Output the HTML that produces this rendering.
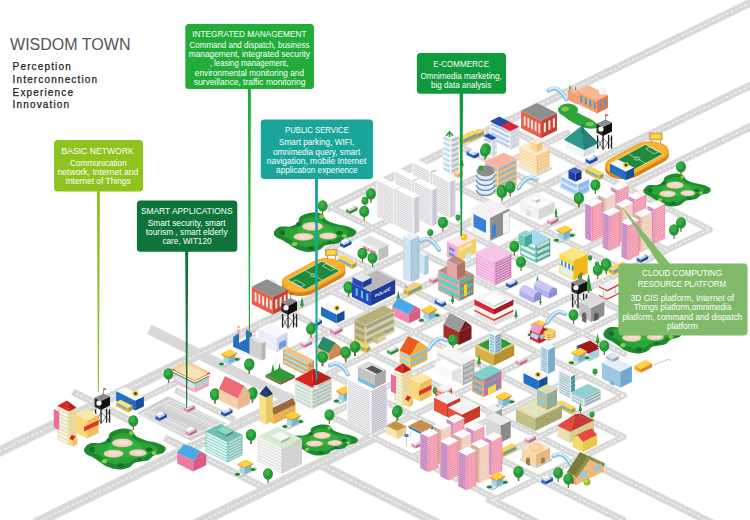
<!DOCTYPE html>
<html><head><meta charset="utf-8"><title>Wisdom Town</title>
<style>html,body{margin:0;padding:0;background:#fff}svg{display:block}</style></head>
<body>
<svg width="750" height="520" viewBox="0 0 750 520">
<rect width="750" height="520" fill="#fff"/>
<line x1="330.6" y1="207.2" x2="760" y2="-2.1" stroke="#eeeeee" stroke-width="8.6" stroke-linecap="square"/>
<line x1="-5" y1="453.7" x2="200" y2="353.8" stroke="#eeeeee" stroke-width="11" stroke-linecap="square"/>
<line x1="200" y1="353.8" x2="330" y2="290.4" stroke="#eeeeee" stroke-width="9.6" stroke-linecap="square"/>
<line x1="330" y1="290.4" x2="760" y2="80.8" stroke="#eeeeee" stroke-width="8.6" stroke-linecap="square"/>
<line x1="287" y1="352.6" x2="560" y2="219.5" stroke="#eeeeee" stroke-width="7.4" stroke-linecap="square"/>
<line x1="560" y1="219.5" x2="760" y2="122" stroke="#eeeeee" stroke-width="8.6" stroke-linecap="square"/>
<line x1="128" y1="406.1" x2="196" y2="372.9" stroke="#eeeeee" stroke-width="7.2" stroke-linecap="square"/>
<line x1="40" y1="521" x2="289" y2="399.6" stroke="#eeeeee" stroke-width="11.2" stroke-linecap="square"/>
<line x1="200" y1="522" x2="372" y2="438.1" stroke="#eeeeee" stroke-width="11.2" stroke-linecap="square"/>
<line x1="154" y1="331.5" x2="292" y2="400.5" stroke="#eeeeee" stroke-width="11.2" stroke-linecap="square"/>
<line x1="76" y1="393.5" x2="128" y2="419.5" stroke="#eeeeee" stroke-width="8.2" stroke-linecap="square"/>
<line x1="168" y1="439.5" x2="262" y2="486.5" stroke="#eeeeee" stroke-width="8.2" stroke-linecap="square"/>
<line x1="178" y1="391.5" x2="232" y2="418.5" stroke="#eeeeee" stroke-width="7.2" stroke-linecap="square"/>
<line x1="323" y1="466" x2="440" y2="524.5" stroke="#eeeeee" stroke-width="10" stroke-linecap="square"/>
<line x1="490.5" y1="499.8" x2="540" y2="524.5" stroke="#eeeeee" stroke-width="9" stroke-linecap="square"/>
<line x1="330.2" y1="248.7" x2="567.3" y2="133.1" stroke="#eeeeee" stroke-width="7.2" stroke-linecap="round"/>
<line x1="329" y1="373.5" x2="667.6" y2="208.4" stroke="#eeeeee" stroke-width="7.2" stroke-linecap="round"/>
<line x1="328.6" y1="415.1" x2="709.6" y2="229.4" stroke="#eeeeee" stroke-width="7.2" stroke-linecap="round"/>
<line x1="370.5" y1="436.1" x2="692.2" y2="279.2" stroke="#eeeeee" stroke-width="7.2" stroke-linecap="round"/>
<line x1="412.4" y1="457" x2="581.8" y2="374.5" stroke="#eeeeee" stroke-width="7.2" stroke-linecap="round"/>
<line x1="454.4" y1="478" x2="623.7" y2="395.4" stroke="#eeeeee" stroke-width="7.2" stroke-linecap="round"/>
<line x1="492" y1="501" x2="623.3" y2="437" stroke="#eeeeee" stroke-width="7.2" stroke-linecap="round"/>
<line x1="330.6" y1="207.1" x2="624.1" y2="353.8" stroke="#eeeeee" stroke-width="7.2" stroke-linecap="round"/>
<line x1="330.2" y1="248.7" x2="623.7" y2="395.4" stroke="#eeeeee" stroke-width="7.2" stroke-linecap="round"/>
<line x1="329.8" y1="290.3" x2="623.3" y2="437" stroke="#eeeeee" stroke-width="7.2" stroke-linecap="round"/>
<line x1="287.5" y1="311" x2="580.9" y2="457.7" stroke="#eeeeee" stroke-width="7.2" stroke-linecap="round"/>
<line x1="580.9" y1="457.7" x2="731.9" y2="533.1" stroke="#eeeeee" stroke-width="8.6" stroke-linecap="round"/>
<line x1="329" y1="373.5" x2="538.6" y2="478.3" stroke="#eeeeee" stroke-width="7.2" stroke-linecap="round"/>
<line x1="538.6" y1="478.3" x2="622.5" y2="520.2" stroke="#eeeeee" stroke-width="8.6" stroke-linecap="round"/>
<line x1="328.6" y1="415.1" x2="496.3" y2="499" stroke="#eeeeee" stroke-width="7.2" stroke-linecap="round"/>
<line x1="373" y1="186.5" x2="666.4" y2="333.2" stroke="#eeeeee" stroke-width="7.2" stroke-linecap="round"/>
<line x1="415.3" y1="165.8" x2="692" y2="304.2" stroke="#eeeeee" stroke-width="7.2" stroke-linecap="round"/>
<line x1="457.6" y1="145.2" x2="667.2" y2="250" stroke="#eeeeee" stroke-width="7.2" stroke-linecap="round"/>
<line x1="500" y1="124.6" x2="709.6" y2="229.4" stroke="#eeeeee" stroke-width="7.2" stroke-linecap="round"/>
<line x1="330.6" y1="207.2" x2="760" y2="-2.1" stroke="#d8d8d8" stroke-width="7" stroke-linecap="square"/>
<line x1="-5" y1="453.7" x2="200" y2="353.8" stroke="#d8d8d8" stroke-width="9.4" stroke-linecap="square"/>
<line x1="200" y1="353.8" x2="330" y2="290.4" stroke="#d8d8d8" stroke-width="8" stroke-linecap="square"/>
<line x1="330" y1="290.4" x2="760" y2="80.8" stroke="#d8d8d8" stroke-width="7" stroke-linecap="square"/>
<line x1="287" y1="352.6" x2="560" y2="219.5" stroke="#d8d8d8" stroke-width="5.8" stroke-linecap="square"/>
<line x1="560" y1="219.5" x2="760" y2="122" stroke="#d8d8d8" stroke-width="7" stroke-linecap="square"/>
<line x1="128" y1="406.1" x2="196" y2="372.9" stroke="#d8d8d8" stroke-width="5.6" stroke-linecap="square"/>
<line x1="40" y1="521" x2="289" y2="399.6" stroke="#d8d8d8" stroke-width="9.6" stroke-linecap="square"/>
<line x1="200" y1="522" x2="372" y2="438.1" stroke="#d8d8d8" stroke-width="9.6" stroke-linecap="square"/>
<line x1="154" y1="331.5" x2="292" y2="400.5" stroke="#d8d8d8" stroke-width="9.6" stroke-linecap="square"/>
<line x1="76" y1="393.5" x2="128" y2="419.5" stroke="#d8d8d8" stroke-width="6.6" stroke-linecap="square"/>
<line x1="168" y1="439.5" x2="262" y2="486.5" stroke="#d8d8d8" stroke-width="6.6" stroke-linecap="square"/>
<line x1="178" y1="391.5" x2="232" y2="418.5" stroke="#d8d8d8" stroke-width="5.6" stroke-linecap="square"/>
<line x1="323" y1="466" x2="440" y2="524.5" stroke="#d8d8d8" stroke-width="8.4" stroke-linecap="square"/>
<line x1="490.5" y1="499.8" x2="540" y2="524.5" stroke="#d8d8d8" stroke-width="7.4" stroke-linecap="square"/>
<line x1="330.2" y1="248.7" x2="567.3" y2="133.1" stroke="#d8d8d8" stroke-width="5.6" stroke-linecap="round"/>
<line x1="329" y1="373.5" x2="667.6" y2="208.4" stroke="#d8d8d8" stroke-width="5.6" stroke-linecap="round"/>
<line x1="328.6" y1="415.1" x2="709.6" y2="229.4" stroke="#d8d8d8" stroke-width="5.6" stroke-linecap="round"/>
<line x1="370.5" y1="436.1" x2="692.2" y2="279.2" stroke="#d8d8d8" stroke-width="5.6" stroke-linecap="round"/>
<line x1="412.4" y1="457" x2="581.8" y2="374.5" stroke="#d8d8d8" stroke-width="5.6" stroke-linecap="round"/>
<line x1="454.4" y1="478" x2="623.7" y2="395.4" stroke="#d8d8d8" stroke-width="5.6" stroke-linecap="round"/>
<line x1="492" y1="501" x2="623.3" y2="437" stroke="#d8d8d8" stroke-width="5.6" stroke-linecap="round"/>
<line x1="330.6" y1="207.1" x2="624.1" y2="353.8" stroke="#d8d8d8" stroke-width="5.6" stroke-linecap="round"/>
<line x1="330.2" y1="248.7" x2="623.7" y2="395.4" stroke="#d8d8d8" stroke-width="5.6" stroke-linecap="round"/>
<line x1="329.8" y1="290.3" x2="623.3" y2="437" stroke="#d8d8d8" stroke-width="5.6" stroke-linecap="round"/>
<line x1="287.5" y1="311" x2="580.9" y2="457.7" stroke="#d8d8d8" stroke-width="5.6" stroke-linecap="round"/>
<line x1="580.9" y1="457.7" x2="731.9" y2="533.1" stroke="#d8d8d8" stroke-width="7" stroke-linecap="round"/>
<line x1="329" y1="373.5" x2="538.6" y2="478.3" stroke="#d8d8d8" stroke-width="5.6" stroke-linecap="round"/>
<line x1="538.6" y1="478.3" x2="622.5" y2="520.2" stroke="#d8d8d8" stroke-width="7" stroke-linecap="round"/>
<line x1="328.6" y1="415.1" x2="496.3" y2="499" stroke="#d8d8d8" stroke-width="5.6" stroke-linecap="round"/>
<line x1="373" y1="186.5" x2="666.4" y2="333.2" stroke="#d8d8d8" stroke-width="5.6" stroke-linecap="round"/>
<line x1="415.3" y1="165.8" x2="692" y2="304.2" stroke="#d8d8d8" stroke-width="5.6" stroke-linecap="round"/>
<line x1="457.6" y1="145.2" x2="667.2" y2="250" stroke="#d8d8d8" stroke-width="5.6" stroke-linecap="round"/>
<line x1="500" y1="124.6" x2="709.6" y2="229.4" stroke="#d8d8d8" stroke-width="5.6" stroke-linecap="round"/>
<line x1="330.6" y1="207.2" x2="760" y2="-2.1" stroke="#fff" stroke-width="0.9" stroke-dasharray="3 2"/>
<line x1="-5" y1="453.7" x2="200" y2="353.8" stroke="#fff" stroke-width="0.9" stroke-dasharray="3 2"/>
<line x1="200" y1="353.8" x2="330" y2="290.4" stroke="#fff" stroke-width="0.9" stroke-dasharray="3 2"/>
<line x1="330" y1="290.4" x2="760" y2="80.8" stroke="#fff" stroke-width="0.9" stroke-dasharray="3 2"/>
<line x1="287" y1="352.6" x2="560" y2="219.5" stroke="#fff" stroke-width="0.9" stroke-dasharray="3 2"/>
<line x1="560" y1="219.5" x2="760" y2="122" stroke="#fff" stroke-width="0.9" stroke-dasharray="3 2"/>
<line x1="128" y1="406.1" x2="196" y2="372.9" stroke="#fff" stroke-width="0.9" stroke-dasharray="3 2"/>
<line x1="40" y1="521" x2="289" y2="399.6" stroke="#fff" stroke-width="0.9" stroke-dasharray="3 2"/>
<line x1="200" y1="522" x2="372" y2="438.1" stroke="#fff" stroke-width="0.9" stroke-dasharray="3 2"/>
<line x1="76" y1="393.5" x2="128" y2="419.5" stroke="#fff" stroke-width="0.9" stroke-dasharray="3 2"/>
<line x1="168" y1="439.5" x2="262" y2="486.5" stroke="#fff" stroke-width="0.9" stroke-dasharray="3 2"/>
<line x1="178" y1="391.5" x2="232" y2="418.5" stroke="#fff" stroke-width="0.9" stroke-dasharray="3 2"/>
<line x1="323" y1="466" x2="440" y2="524.5" stroke="#fff" stroke-width="0.9" stroke-dasharray="3 2"/>
<line x1="490.5" y1="499.8" x2="540" y2="524.5" stroke="#fff" stroke-width="0.9" stroke-dasharray="3 2"/>
<line x1="330.2" y1="248.7" x2="567.3" y2="133.1" stroke="#fff" stroke-width="0.9" stroke-dasharray="3 2"/>
<line x1="329" y1="373.5" x2="667.6" y2="208.4" stroke="#fff" stroke-width="0.9" stroke-dasharray="3 2"/>
<line x1="328.6" y1="415.1" x2="709.6" y2="229.4" stroke="#fff" stroke-width="0.9" stroke-dasharray="3 2"/>
<line x1="370.5" y1="436.1" x2="692.2" y2="279.2" stroke="#fff" stroke-width="0.9" stroke-dasharray="3 2"/>
<line x1="412.4" y1="457" x2="581.8" y2="374.5" stroke="#fff" stroke-width="0.9" stroke-dasharray="3 2"/>
<line x1="454.4" y1="478" x2="623.7" y2="395.4" stroke="#fff" stroke-width="0.9" stroke-dasharray="3 2"/>
<line x1="492" y1="501" x2="623.3" y2="437" stroke="#fff" stroke-width="0.9" stroke-dasharray="3 2"/>
<line x1="330.6" y1="207.1" x2="624.1" y2="353.8" stroke="#fff" stroke-width="0.9" stroke-dasharray="3 2"/>
<line x1="330.2" y1="248.7" x2="623.7" y2="395.4" stroke="#fff" stroke-width="0.9" stroke-dasharray="3 2"/>
<line x1="329.8" y1="290.3" x2="623.3" y2="437" stroke="#fff" stroke-width="0.9" stroke-dasharray="3 2"/>
<line x1="287.5" y1="311" x2="580.9" y2="457.7" stroke="#fff" stroke-width="0.9" stroke-dasharray="3 2"/>
<line x1="580.9" y1="457.7" x2="731.9" y2="533.1" stroke="#fff" stroke-width="0.9" stroke-dasharray="3 2"/>
<line x1="329" y1="373.5" x2="538.6" y2="478.3" stroke="#fff" stroke-width="0.9" stroke-dasharray="3 2"/>
<line x1="538.6" y1="478.3" x2="622.5" y2="520.2" stroke="#fff" stroke-width="0.9" stroke-dasharray="3 2"/>
<line x1="328.6" y1="415.1" x2="496.3" y2="499" stroke="#fff" stroke-width="0.9" stroke-dasharray="3 2"/>
<line x1="373" y1="186.5" x2="666.4" y2="333.2" stroke="#fff" stroke-width="0.9" stroke-dasharray="3 2"/>
<line x1="415.3" y1="165.8" x2="692" y2="304.2" stroke="#fff" stroke-width="0.9" stroke-dasharray="3 2"/>
<line x1="457.6" y1="145.2" x2="667.2" y2="250" stroke="#fff" stroke-width="0.9" stroke-dasharray="3 2"/>
<line x1="500" y1="124.6" x2="709.6" y2="229.4" stroke="#fff" stroke-width="0.9" stroke-dasharray="3 2"/>
<polygon points="135.3,413.4 167.6,395.2 228.2,423.5 190.9,441.7" fill="#d0d0d0" stroke="#fff" stroke-width="1.6"/><polygon points="140.9,414 169.9,399.8 222.6,422.9 188.6,437.1" fill="none" stroke="#fff" stroke-width="0.7"/><path d="M148.6 411.7L194.4 433.3" stroke="#fff" stroke-width="0.5"/><path d="M143.2 414.3L154 409" stroke="#fff" stroke-width="0.5"/><path d="M146 415.6L156.9 410.4" stroke="#fff" stroke-width="0.5"/><path d="M148.8 417L159.8 411.7" stroke="#fff" stroke-width="0.5"/><path d="M151.6 418.3L162.7 413.1" stroke="#fff" stroke-width="0.5"/><path d="M154.4 419.7L165.7 414.5" stroke="#fff" stroke-width="0.5"/><path d="M157.2 421L168.6 415.8" stroke="#fff" stroke-width="0.5"/><path d="M160 422.4L171.5 417.2" stroke="#fff" stroke-width="0.5"/><path d="M162.9 423.7L174.4 418.5" stroke="#fff" stroke-width="0.5"/><path d="M165.7 425.1L177.3 419.9" stroke="#fff" stroke-width="0.5"/><path d="M168.5 426.5L180.3 421.2" stroke="#fff" stroke-width="0.5"/><path d="M171.3 427.8L183.2 422.6" stroke="#fff" stroke-width="0.5"/><path d="M174.1 429.2L186.1 423.9" stroke="#fff" stroke-width="0.5"/><path d="M176.9 430.5L189 425.3" stroke="#fff" stroke-width="0.5"/><path d="M179.7 431.9L191.9 426.6" stroke="#fff" stroke-width="0.5"/><path d="M182.5 433.2L194.9 428" stroke="#fff" stroke-width="0.5"/><path d="M185.3 434.6L197.8 429.3" stroke="#fff" stroke-width="0.5"/><path d="M188.2 435.9L200.7 430.7" stroke="#fff" stroke-width="0.5"/><path d="M165.2 403.6L213.8 425.2" stroke="#fff" stroke-width="0.5"/><path d="M159.8 406.2L170.6 401" stroke="#fff" stroke-width="0.5"/><path d="M162.8 407.6L173.7 402.3" stroke="#fff" stroke-width="0.5"/><path d="M165.8 408.9L176.8 403.7" stroke="#fff" stroke-width="0.5"/><path d="M168.8 410.3L179.9 405" stroke="#fff" stroke-width="0.5"/><path d="M171.7 411.6L183 406.4" stroke="#fff" stroke-width="0.5"/><path d="M174.7 413L186.1 407.7" stroke="#fff" stroke-width="0.5"/><path d="M177.7 414.3L189.2 409.1" stroke="#fff" stroke-width="0.5"/><path d="M180.7 415.7L192.2 410.4" stroke="#fff" stroke-width="0.5"/><path d="M183.7 417L195.3 411.8" stroke="#fff" stroke-width="0.5"/><path d="M186.6 418.4L198.4 413.2" stroke="#fff" stroke-width="0.5"/><path d="M189.6 419.7L201.5 414.5" stroke="#fff" stroke-width="0.5"/><path d="M192.6 421.1L204.6 415.9" stroke="#fff" stroke-width="0.5"/><path d="M195.6 422.4L207.7 417.2" stroke="#fff" stroke-width="0.5"/><path d="M198.5 423.8L210.8 418.6" stroke="#fff" stroke-width="0.5"/><path d="M201.5 425.2L213.9 419.9" stroke="#fff" stroke-width="0.5"/><path d="M204.5 426.5L216.9 421.3" stroke="#fff" stroke-width="0.5"/><path d="M207.5 427.9L220 422.6" stroke="#fff" stroke-width="0.5"/>
<path d="M84.2 448.8C84.9 447 87.2 444.3 89.9 443.4C92.6 442.4 97.5 443.6 100.5 442.9C103.4 442.2 106.2 440.9 107.8 439.2C109.4 437.5 108 434.7 110.2 433C112.4 431.3 117.3 429.3 120.8 428.8C124.3 428.3 128.8 428.8 131.4 430.1C133.9 431.3 133.8 434.6 136.2 436.3C138.7 438 142.5 439.3 146 440.4C149.5 441.6 154.1 441.8 157.4 442.9C160.6 444.1 164.6 445.8 165.5 447.5C166.4 449.2 165 451.6 163.1 452.9C161.2 454.2 156.7 454.1 154.1 455.4C151.5 456.6 150.7 459.2 147.6 460.4C144.5 461.5 138.5 461.3 135.4 462.4C132.3 463.6 131.8 466.2 128.9 467.4C126.1 468.6 122 469.6 118.3 469.5C114.7 469.4 110.2 468 107 466.6C103.7 465.2 101.3 462.8 98.8 461.2C96.4 459.6 94.5 458.3 92.3 457.1C90.2 455.8 87.2 455.1 85.8 453.7C84.5 452.3 83.5 450.5 84.2 448.8Z" fill="#1e8a30"/><path d="M92.3 448.8C92.9 447.4 94.7 445.3 96.9 444.5C99.1 443.8 103 444.8 105.3 444.2C107.7 443.7 109.9 442.6 111.2 441.3C112.5 440 111.4 437.8 113.1 436.4C114.9 435.1 118.8 433.6 121.6 433.2C124.4 432.8 128 433.2 130.1 434.2C132.1 435.2 132 437.7 134 439C135.9 440.4 138.9 441.4 141.8 442.3C144.6 443.1 148.3 443.3 150.9 444.2C153.5 445.1 156.6 446.5 157.4 447.8C158.1 449.1 156.9 451 155.4 452C153.9 453 150.3 453 148.3 453.9C146.2 454.9 145.6 456.9 143.1 457.8C140.6 458.7 135.8 458.5 133.3 459.4C130.8 460.3 130.4 462.4 128.1 463.3C125.8 464.2 122.6 465 119.6 464.9C116.7 464.8 113.1 463.7 110.5 462.7C107.9 461.6 106 459.7 104 458.5C102.1 457.2 100.6 456.2 98.8 455.2C97.1 454.3 94.7 453.7 93.6 452.6C92.5 451.6 91.8 450.1 92.3 448.8Z" fill="#2ba539"/><ellipse cx="124.8" cy="448.8" rx="17.9" ry="8.3" fill="#33b23d"/><ellipse cx="92.3" cy="449.6" rx="2.8" ry="2.5" fill="#14702a"/><ellipse cx="120.8" cy="465.4" rx="3.3" ry="2.1" fill="#14702a"/><ellipse cx="149.2" cy="449.6" rx="3.3" ry="2.1" fill="#14702a"/><ellipse cx="108.6" cy="440.4" rx="2.4" ry="2.1" fill="#14702a"/><ellipse cx="139.5" cy="459.1" rx="2.4" ry="1.7" fill="#14702a"/><ellipse cx="104.5" cy="461.2" rx="2.8" ry="2.1" fill="#7ed04a"/><ellipse cx="154.1" cy="452.9" rx="2.4" ry="1.9" fill="#7ed04a"/><ellipse cx="131.4" cy="433" rx="2.4" ry="2.1" fill="#7ed04a"/><ellipse cx="122.4" cy="442.9" rx="10.5" ry="4.4" fill="#e2bfa4"/><ellipse cx="122.4" cy="442.9" rx="9.8" ry="3.7" fill="#f4d4be"/><ellipse cx="123.2" cy="442.5" rx="5.4" ry="1.9" fill="#f0e2dc"/><ellipse cx="113.5" cy="453.7" rx="10" ry="4" fill="#e2bfa4"/><ellipse cx="113.5" cy="453.7" rx="9.3" ry="3.3" fill="#f4d4be"/><ellipse cx="114.3" cy="453.3" rx="5.1" ry="1.7" fill="#f0e2dc"/><ellipse cx="137.9" cy="452.9" rx="8.8" ry="3.6" fill="#e2bfa4"/><ellipse cx="137.9" cy="452.9" rx="8.1" ry="2.9" fill="#f4d4be"/><ellipse cx="138.7" cy="452.5" rx="4.5" ry="1.5" fill="#f0e2dc"/>
<path d="M290.4 439.8C291 438.5 292.9 436.4 295.1 435.7C297.4 435 301.4 435.9 303.9 435.4C306.3 434.8 308.6 433.8 309.9 432.5C311.3 431.3 310.1 429.1 311.9 427.8C313.7 426.5 317.8 425 320.7 424.6C323.6 424.3 327.3 424.6 329.4 425.6C331.6 426.5 331.5 429 333.5 430.3C335.5 431.6 338.6 432.6 341.5 433.5C344.5 434.3 348.3 434.5 351 435.4C353.7 436.3 356.9 437.6 357.7 438.9C358.5 440.1 357.3 442 355.7 443C354.1 444 350.4 443.9 348.3 444.9C346.1 445.8 345.5 447.8 342.9 448.6C340.3 449.5 335.4 449.3 332.8 450.2C330.2 451.1 329.8 453.1 327.4 454C325.1 454.9 321.7 455.7 318.7 455.6C315.6 455.5 311.9 454.4 309.2 453.4C306.6 452.3 304.5 450.5 302.5 449.3C300.5 448.1 298.9 447.1 297.1 446.1C295.3 445.2 292.9 444.6 291.7 443.6C290.6 442.5 289.8 441.1 290.4 439.8Z" fill="#1e8a30"/><path d="M297.1 439.8C297.6 438.8 299.1 437.2 300.9 436.6C302.7 436 305.9 436.8 307.9 436.3C309.9 435.9 311.7 435.1 312.7 434.1C313.8 433.1 312.9 431.5 314.4 430.4C315.8 429.4 319 428.3 321.4 428C323.7 427.7 326.7 428 328.4 428.7C330.1 429.4 330 431.4 331.6 432.4C333.2 433.4 335.7 434.2 338 434.9C340.4 435.5 343.4 435.7 345.6 436.3C347.7 437 350.3 438.1 351 439.1C351.6 440 350.6 441.5 349.4 442.3C348.1 443 345.1 443 343.4 443.7C341.7 444.5 341.2 446 339.1 446.7C337.1 447.4 333.1 447.2 331 447.9C329 448.6 328.6 450.2 326.7 450.9C324.9 451.6 322.2 452.2 319.7 452.1C317.3 452 314.4 451.2 312.2 450.4C310.1 449.6 308.4 448.1 306.8 447.2C305.2 446.2 303.9 445.5 302.5 444.7C301.1 444 299.1 443.6 298.2 442.8C297.3 441.9 296.7 440.8 297.1 439.8Z" fill="#2ba539"/><ellipse cx="324" cy="439.8" rx="14.8" ry="6.3" fill="#33b23d"/><ellipse cx="297.1" cy="440.4" rx="2.4" ry="1.9" fill="#14702a"/><ellipse cx="320.7" cy="452.4" rx="2.7" ry="1.6" fill="#14702a"/><ellipse cx="344.2" cy="440.4" rx="2.7" ry="1.6" fill="#14702a"/><ellipse cx="310.6" cy="433.5" rx="2" ry="1.6" fill="#14702a"/><ellipse cx="336.2" cy="447.7" rx="2" ry="1.3" fill="#14702a"/><ellipse cx="307.2" cy="449.3" rx="2.4" ry="1.6" fill="#7ed04a"/><ellipse cx="348.3" cy="443" rx="2" ry="1.4" fill="#7ed04a"/><ellipse cx="329.4" cy="427.8" rx="2" ry="1.6" fill="#7ed04a"/><ellipse cx="322" cy="435.4" rx="8.8" ry="3.5" fill="#e2bfa4"/><ellipse cx="322" cy="435.4" rx="8.1" ry="2.8" fill="#f4d4be"/><ellipse cx="322.7" cy="435.1" rx="4.4" ry="1.4" fill="#f0e2dc"/><ellipse cx="314.6" cy="443.6" rx="8.4" ry="3.2" fill="#e2bfa4"/><ellipse cx="314.6" cy="443.6" rx="7.7" ry="2.5" fill="#f4d4be"/><ellipse cx="315.3" cy="443.3" rx="4.3" ry="1.3" fill="#f0e2dc"/><ellipse cx="334.8" cy="443" rx="7.4" ry="2.9" fill="#e2bfa4"/><ellipse cx="334.8" cy="443" rx="6.7" ry="2.2" fill="#f4d4be"/><ellipse cx="335.5" cy="442.6" rx="3.7" ry="1.1" fill="#f0e2dc"/>
<path d="M274 232C274.7 230.3 277 227.7 279.7 226.8C282.5 225.9 287.4 227.1 290.4 226.4C293.4 225.7 296.1 224.4 297.8 222.8C299.4 221.2 298.1 218.5 300.2 216.8C302.4 215.1 307.3 213.3 310.9 212.8C314.5 212.3 319 212.8 321.6 214C324.2 215.2 324 218.3 326.5 220C328.9 221.7 332.8 222.9 336.3 224C339.9 225.1 344.5 225.3 347.8 226.4C351.1 227.5 355 229.2 356 230.8C357 232.4 355.5 234.7 353.5 236C351.6 237.3 347.1 237.2 344.5 238.4C341.9 239.6 341.1 242.1 338 243.2C334.8 244.3 328.8 244.1 325.7 245.2C322.5 246.3 322 248.9 319.1 250C316.2 251.1 312.1 252.1 308.4 252C304.8 251.9 300.2 250.5 297 249.2C293.7 247.9 291.2 245.5 288.8 244C286.3 242.5 284.4 241.2 282.2 240C280 238.8 277 238.1 275.6 236.8C274.3 235.5 273.3 233.7 274 232Z" fill="#1e8a30"/><path d="M282.2 232C282.7 230.7 284.6 228.7 286.8 227.9C289 227.2 292.9 228.2 295.3 227.6C297.7 227.1 299.9 226.1 301.2 224.8C302.5 223.6 301.4 221.4 303.2 220.1C304.9 218.8 308.9 217.4 311.7 217C314.6 216.7 318.2 217 320.2 218C322.3 218.9 322.2 221.3 324.2 222.6C326.2 223.9 329.2 224.9 332.1 225.8C334.9 226.6 338.6 226.7 341.2 227.6C343.9 228.5 347 229.8 347.8 231.1C348.6 232.3 347.4 234.1 345.8 235.1C344.3 236.1 340.7 236.1 338.6 237C336.5 237.9 335.9 239.9 333.4 240.7C330.9 241.6 326 241.4 323.5 242.3C321 243.2 320.6 245.2 318.3 246C316 246.9 312.7 247.7 309.8 247.6C306.8 247.5 303.2 246.5 300.6 245.4C297.9 244.4 296 242.6 294 241.4C292 240.2 290.5 239.2 288.8 238.2C287 237.3 284.6 236.8 283.5 235.7C282.4 234.7 281.7 233.3 282.2 232Z" fill="#2ba539"/><ellipse cx="315" cy="232" rx="18" ry="8" fill="#33b23d"/><ellipse cx="282.2" cy="232.8" rx="2.9" ry="2.4" fill="#14702a"/><ellipse cx="310.9" cy="248" rx="3.3" ry="2" fill="#14702a"/><ellipse cx="339.6" cy="232.8" rx="3.3" ry="2" fill="#14702a"/><ellipse cx="298.6" cy="224" rx="2.5" ry="2" fill="#14702a"/><ellipse cx="329.8" cy="242" rx="2.5" ry="1.6" fill="#14702a"/><ellipse cx="294.5" cy="244" rx="2.9" ry="2" fill="#7ed04a"/><ellipse cx="344.5" cy="236" rx="2.5" ry="1.8" fill="#7ed04a"/><ellipse cx="321.6" cy="216.8" rx="2.5" ry="2" fill="#7ed04a"/><ellipse cx="312.5" cy="226.4" rx="10.5" ry="4.3" fill="#e2bfa4"/><ellipse cx="312.5" cy="226.4" rx="9.8" ry="3.6" fill="#f4d4be"/><ellipse cx="313.4" cy="226" rx="5.4" ry="1.8" fill="#f0e2dc"/><ellipse cx="303.5" cy="236.8" rx="10.1" ry="3.9" fill="#e2bfa4"/><ellipse cx="303.5" cy="236.8" rx="9.4" ry="3.2" fill="#f4d4be"/><ellipse cx="304.3" cy="236.4" rx="5.2" ry="1.6" fill="#f0e2dc"/><ellipse cx="328.1" cy="236" rx="8.9" ry="3.5" fill="#e2bfa4"/><ellipse cx="328.1" cy="236" rx="8.2" ry="2.8" fill="#f4d4be"/><ellipse cx="328.9" cy="235.6" rx="4.5" ry="1.4" fill="#f0e2dc"/>
<path d="M643.5 189.8C644.1 188.4 646 186.2 648.2 185.4C650.4 184.6 654.4 185.6 656.9 185.1C659.4 184.5 661.6 183.4 662.9 182C664.3 180.7 663.2 178.4 664.9 177C666.7 175.6 670.7 174.1 673.6 173.7C676.6 173.3 680.2 173.7 682.4 174.7C684.5 175.7 684.4 178.3 686.4 179.7C688.4 181.1 691.5 182.2 694.4 183.1C697.3 183.9 701.1 184.1 703.8 185.1C706.5 186 709.7 187.4 710.5 188.7C711.3 190.1 710.1 192 708.5 193.1C706.9 194.2 703.2 194.1 701.1 195.1C699 196.1 698.3 198.2 695.8 199.1C693.2 200.1 688.3 199.9 685.7 200.8C683.1 201.8 682.7 203.9 680.4 204.8C678 205.8 674.7 206.6 671.6 206.5C668.6 206.4 664.9 205.3 662.3 204.2C659.6 203 657.6 201.1 655.6 199.8C653.5 198.5 652 197.5 650.2 196.4C648.4 195.4 646 194.9 644.8 193.8C643.7 192.7 642.9 191.1 643.5 189.8Z" fill="#1e8a30"/><path d="M650.2 189.8C650.6 188.7 652.2 187 654 186.4C655.7 185.7 659 186.5 660.9 186.1C662.9 185.7 664.7 184.8 665.7 183.7C666.8 182.7 665.9 180.9 667.4 179.8C668.8 178.7 672 177.5 674.3 177.2C676.6 176.9 679.6 177.2 681.3 178C683 178.8 682.9 180.8 684.5 181.9C686.1 183 688.6 183.8 690.9 184.5C693.3 185.2 696.3 185.4 698.4 186.1C700.6 186.8 703.2 187.9 703.8 189C704.4 190 703.4 191.5 702.2 192.4C700.9 193.2 698 193.1 696.3 193.9C694.6 194.7 694.1 196.3 692 197.1C690 197.8 686 197.6 684 198.4C681.9 199.1 681.6 200.8 679.7 201.5C677.8 202.2 675.1 202.9 672.7 202.8C670.3 202.7 667.4 201.9 665.2 201C663.1 200.1 661.5 198.6 659.8 197.6C658.2 196.6 657 195.8 655.6 195C654.1 194.2 652.2 193.8 651.3 192.9C650.4 192 649.8 190.8 650.2 189.8Z" fill="#2ba539"/><ellipse cx="677" cy="189.8" rx="14.7" ry="6.7" fill="#33b23d"/><ellipse cx="650.2" cy="190.4" rx="2.3" ry="2" fill="#14702a"/><ellipse cx="673.6" cy="203.2" rx="2.7" ry="1.7" fill="#14702a"/><ellipse cx="697.1" cy="190.4" rx="2.7" ry="1.7" fill="#14702a"/><ellipse cx="663.6" cy="183.1" rx="2" ry="1.7" fill="#14702a"/><ellipse cx="689.1" cy="198.1" rx="2" ry="1.3" fill="#14702a"/><ellipse cx="660.2" cy="199.8" rx="2.3" ry="1.7" fill="#7ed04a"/><ellipse cx="701.1" cy="193.1" rx="2" ry="1.5" fill="#7ed04a"/><ellipse cx="682.4" cy="177" rx="2" ry="1.7" fill="#7ed04a"/><ellipse cx="675" cy="185.1" rx="8.7" ry="3.7" fill="#e2bfa4"/><ellipse cx="675" cy="185.1" rx="8" ry="3" fill="#f4d4be"/><ellipse cx="675.7" cy="184.7" rx="4.4" ry="1.5" fill="#f0e2dc"/><ellipse cx="667.6" cy="193.8" rx="8.4" ry="3.4" fill="#e2bfa4"/><ellipse cx="667.6" cy="193.8" rx="7.7" ry="2.7" fill="#f4d4be"/><ellipse cx="668.3" cy="193.4" rx="4.2" ry="1.3" fill="#f0e2dc"/><ellipse cx="687.7" cy="193.1" rx="7.4" ry="3" fill="#e2bfa4"/><ellipse cx="687.7" cy="193.1" rx="6.7" ry="2.3" fill="#f4d4be"/><ellipse cx="688.4" cy="192.8" rx="3.7" ry="1.2" fill="#f0e2dc"/>
<path d="M603.5 332.8C604.2 331 606.4 328.3 609 327.4C611.6 326.4 616.3 327.6 619.2 326.9C622.1 326.2 624.7 324.9 626.3 323.2C627.8 321.5 626.5 318.7 628.6 317C630.7 315.3 635.4 313.3 638.8 312.8C642.2 312.3 646.5 312.8 649 314.1C651.5 315.3 651.4 318.6 653.7 320.3C656.1 322 659.8 323.3 663.2 324.4C666.6 325.6 671 325.8 674.1 326.9C677.3 328.1 681.1 329.8 682 331.5C682.9 333.2 681.5 335.6 679.6 336.9C677.8 338.2 673.5 338.1 671 339.4C668.5 340.6 667.7 343.2 664.7 344.4C661.7 345.5 656 345.3 653 346.4C649.9 347.6 649.4 350.2 646.7 351.4C643.9 352.6 640 353.6 636.5 353.5C632.9 353.4 628.6 352 625.5 350.6C622.3 349.2 620 346.8 617.6 345.2C615.3 343.6 613.4 342.3 611.4 341.1C609.3 339.8 606.4 339.1 605.1 337.7C603.8 336.3 602.8 334.5 603.5 332.8Z" fill="#1e8a30"/><path d="M611.4 332.8C611.9 331.4 613.7 329.3 615.7 328.5C617.8 327.8 621.6 328.8 623.9 328.2C626.2 327.7 628.3 326.6 629.6 325.3C630.8 324 629.8 321.8 631.4 320.4C633.1 319.1 636.9 317.6 639.6 317.2C642.3 316.8 645.8 317.2 647.8 318.2C649.8 319.2 649.7 321.7 651.5 323C653.4 324.4 656.4 325.4 659.1 326.3C661.8 327.1 665.4 327.3 667.9 328.2C670.4 329.1 673.4 330.5 674.1 331.8C674.9 333.1 673.7 335 672.3 336C670.8 337 667.3 337 665.4 337.9C663.4 338.9 662.7 340.9 660.3 341.8C657.9 342.7 653.3 342.5 650.9 343.4C648.5 344.3 648.1 346.4 645.9 347.3C643.7 348.2 640.6 349 637.7 348.9C634.9 348.8 631.4 347.7 628.9 346.7C626.4 345.6 624.5 343.7 622.7 342.5C620.8 341.2 619.3 340.2 617.6 339.2C616 338.3 613.7 337.7 612.6 336.6C611.6 335.6 610.8 334.1 611.4 332.8Z" fill="#2ba539"/><ellipse cx="642.8" cy="332.8" rx="17.3" ry="8.3" fill="#33b23d"/><ellipse cx="611.4" cy="333.6" rx="2.7" ry="2.5" fill="#14702a"/><ellipse cx="638.8" cy="349.4" rx="3.1" ry="2.1" fill="#14702a"/><ellipse cx="666.3" cy="333.6" rx="3.1" ry="2.1" fill="#14702a"/><ellipse cx="627" cy="324.4" rx="2.4" ry="2.1" fill="#14702a"/><ellipse cx="656.9" cy="343.1" rx="2.4" ry="1.7" fill="#14702a"/><ellipse cx="623.1" cy="345.2" rx="2.7" ry="2.1" fill="#7ed04a"/><ellipse cx="671" cy="336.9" rx="2.4" ry="1.9" fill="#7ed04a"/><ellipse cx="649" cy="317" rx="2.4" ry="2.1" fill="#7ed04a"/><ellipse cx="640.4" cy="326.9" rx="10.1" ry="4.4" fill="#e2bfa4"/><ellipse cx="640.4" cy="326.9" rx="9.4" ry="3.7" fill="#f4d4be"/><ellipse cx="641.2" cy="326.5" rx="5.2" ry="1.9" fill="#f0e2dc"/><ellipse cx="631.8" cy="337.7" rx="9.7" ry="4" fill="#e2bfa4"/><ellipse cx="631.8" cy="337.7" rx="9" ry="3.3" fill="#f4d4be"/><ellipse cx="632.5" cy="337.3" rx="5" ry="1.7" fill="#f0e2dc"/><ellipse cx="655.3" cy="336.9" rx="8.6" ry="3.6" fill="#e2bfa4"/><ellipse cx="655.3" cy="336.9" rx="7.9" ry="2.9" fill="#f4d4be"/><ellipse cx="656.1" cy="336.5" rx="4.3" ry="1.5" fill="#f0e2dc"/>
<polygon points="314.1,264.5 317.4,263.1 321.1,262.2 325.1,261.7 329.2,261.8 333.2,262.3 336.9,263.3 340.1,264.7 342.7,266.5 344.5,268.5 345.4,270.7 345.4,272.9 344.5,275.1 342.7,277.1 340.1,278.8 313.1,293.3 309.9,294.7 306.2,295.6 302.2,296.1 298.1,296 294.1,295.5 290.4,294.5 287.1,293.1 284.6,291.3 282.8,289.3 281.9,287.1 281.9,284.9 282.8,282.7 284.6,280.7 287.1,279" fill="#d9801a"/><polygon points="314.1,260.9 317.4,259.5 321.1,258.6 325.1,258.1 329.2,258.2 333.2,258.7 336.9,259.7 340.1,261.1 342.7,262.9 344.5,264.9 345.4,267.1 345.4,269.3 344.5,271.5 342.7,273.5 340.1,275.2 313.1,289.7 309.9,291.1 306.2,292 302.2,292.5 298.1,292.4 294.1,291.9 290.4,290.9 287.1,289.5 284.6,287.7 282.8,285.7 281.9,283.5 281.9,281.3 282.8,279.1 284.6,277.1 287.1,275.4" fill="#f6a01f"/><polygon points="315.3,261.6 318.3,260.3 321.6,259.5 325.3,259 329,259.1 332.7,259.5 336,260.4 338.9,261.7 341.3,263.3 342.9,265.2 343.7,267.2 343.7,269.2 342.9,271.2 341.3,273 338.9,274.6 311.9,289 309,290.3 305.7,291.1 302,291.6 298.3,291.5 294.6,291.1 291.3,290.2 288.3,288.9 286,287.3 284.4,285.4 283.6,283.4 283.6,281.4 284.4,279.4 286,277.6 288.3,276" fill="#f9b233"/><polygon points="287.6,279.7 322,261.2 339.7,270.9 305.3,289.4" fill="#1f8a3c" stroke="#fff" stroke-width="0.5"/><path d="M304.8,270.4L322.5,280.2" stroke="#fff" stroke-width="0.5"/><ellipse cx="313.6" cy="275.3" rx="3" ry="1.6" fill="none" stroke="#fff" stroke-width="0.5"/><polygon points="292,282.1 296,279.9 304.9,284.8 300.9,287" fill="none" stroke="#fff" stroke-width="0.5"/><polygon points="326.4,263.6 322.4,265.8 331.3,270.7 335.3,268.5" fill="none" stroke="#fff" stroke-width="0.5"/>
<polygon points="637.5,147.7 640.7,146.3 644.4,145.4 648.4,144.9 652.6,145 656.6,145.5 660.3,146.5 663.5,147.9 666.1,149.7 667.9,151.7 668.8,153.9 668.8,156.1 667.9,158.3 666.1,160.3 663.5,162 636.5,176.5 633.3,177.9 629.6,178.8 625.6,179.3 621.4,179.2 617.4,178.7 613.7,177.7 610.5,176.3 607.9,174.5 606.1,172.5 605.2,170.3 605.2,168.1 606.1,165.9 607.9,163.9 610.5,162.2" fill="#d9801a"/><polygon points="637.5,144.1 640.7,142.7 644.4,141.8 648.4,141.3 652.6,141.4 656.6,141.9 660.3,142.9 663.5,144.3 666.1,146.1 667.9,148.1 668.8,150.3 668.8,152.5 667.9,154.7 666.1,156.7 663.5,158.4 636.5,172.9 633.3,174.3 629.6,175.2 625.6,175.7 621.4,175.6 617.4,175.1 613.7,174.1 610.5,172.7 607.9,170.9 606.1,168.9 605.2,166.7 605.2,164.5 606.1,162.3 607.9,160.3 610.5,158.6" fill="#f6a01f"/><polygon points="638.7,144.8 641.6,143.5 645,142.7 648.6,142.2 652.4,142.3 656,142.7 659.4,143.6 662.3,144.9 664.6,146.5 666.3,148.4 667.1,150.4 667.1,152.4 666.3,154.4 664.6,156.2 662.3,157.8 635.3,172.2 632.4,173.5 629,174.3 625.4,174.8 621.6,174.7 618,174.3 614.6,173.4 611.7,172.1 609.4,170.5 607.7,168.6 606.9,166.6 606.9,164.6 607.7,162.6 609.4,160.8 611.7,159.2" fill="#f9b233"/><polygon points="611,162.9 645.4,144.4 663,154.1 628.6,172.6" fill="#1f8a3c" stroke="#fff" stroke-width="0.5"/><path d="M628.2,153.6L645.8,163.4" stroke="#fff" stroke-width="0.5"/><ellipse cx="637" cy="158.5" rx="3" ry="1.6" fill="none" stroke="#fff" stroke-width="0.5"/><polygon points="615.4,165.3 619.4,163.1 628.2,168 624.2,170.2" fill="none" stroke="#fff" stroke-width="0.5"/><polygon points="649.8,146.8 645.8,149 654.6,153.9 658.6,151.7" fill="none" stroke="#fff" stroke-width="0.5"/>
<ellipse cx="568" cy="110" rx="10" ry="6.5" fill="#2ea43a"/><path d="M560 112 Q572 108 584 116 Q596 121 600 127 Q590 131 580 126 Q566 120 560 112Z" fill="#2ea43a"/><ellipse cx="565" cy="109" rx="4" ry="2.5" fill="#7ccb4e"/><ellipse cx="590" cy="124" rx="4" ry="2" fill="#7ccb4e"/>
<polygon points="574,93 577,93 575.5,85.9" fill="#2a9d3a"/><rect x="575" y="93" width="1" height="2" fill="#9a5b2a"/>
<polygon points="568,94 572,94 570,84.3" fill="#2a9d3a"/><rect x="569.5" y="94" width="1" height="2" fill="#9a5b2a"/>
<path d="M548.5 90.5Q557.5 84 566.5 99.5" stroke="#8fbfe2" stroke-width="4.2" fill="none" stroke-linecap="round"/><path d="M548.5 90.5Q557.5 84 566.5 99.5" stroke="#dcedf8" stroke-width="1.8" fill="none" stroke-linecap="round" transform="translate(0,-0.8)"/>
<polygon points="577,104.5 568,100 568,90 577,94.5" fill="#f5a070"/><polygon points="577,104.5 581,102.5 581,92.5 577,94.5" fill="#e87848"/><polygon points="577,94.5 581,92.5 572,88 568,90" fill="#f8b890"/>
<polygon points="597,113.5 577,103.5 577,90.5 597,100.5" fill="#f5a070"/><polygon points="597,113.5 608,108.1 608,95.1 597,100.5" fill="#e87848"/><polygon points="580.3,101.9 582.3,102.9 582.3,96 580.3,95" fill="#4f9ac0"/><polygon points="584.8,104.1 586.8,105.1 586.8,98.2 584.8,97.2" fill="#4f9ac0"/><polygon points="589.2,106.4 591.2,107.4 591.2,100.5 589.2,99.5" fill="#4f9ac0"/><polygon points="593.7,108.6 595.7,109.6 595.7,102.7 593.7,101.7" fill="#4f9ac0"/><polygon points="599.6,109 601.6,108 601.6,101.1 599.6,102.1" fill="#4f9ac0"/><polygon points="604,106.8 606,105.8 606,99 604,99.9" fill="#4f9ac0"/><polygon points="597,100.5 608,95.1 588,85.1 577,90.5" fill="#f8b890"/>
<circle cx="602.4" cy="91.5" r="3.6" fill="#eeeeee"/><circle cx="601.6" cy="90.6" r="1.8" fill="#fff"/>
<ellipse cx="538" cy="109" rx="6.5" ry="3.6" fill="#a9d8ea"/><rect x="531.5" y="106" width="13" height="3" fill="#a9d8ea"/><ellipse cx="538" cy="106" rx="6.5" ry="3.6" fill="#cfeaf4"/>
<polygon points="541.1,138.2 521.1,128.2 521.1,110.7 541.1,120.7" fill="#e8604c"/><polygon points="541.1,138.2 557,130.4 557,112.9 541.1,120.7" fill="#c8402f"/><polygon points="523.8,125.2 525.6,126.1 525.6,116.8 523.8,115.9" fill="#f6efe8"/><polygon points="527.5,127 529.3,127.9 529.3,118.6 527.5,117.7" fill="#f6efe8"/><polygon points="531.1,128.8 532.9,129.7 532.9,120.4 531.1,119.5" fill="#f6efe8"/><polygon points="534.7,130.6 536.5,131.5 536.5,122.3 534.7,121.4" fill="#f6efe8"/><polygon points="538.4,132.5 540.2,133.4 540.2,124.1 538.4,123.2" fill="#f6efe8"/><polygon points="543.8,132.5 545.8,131.5 545.8,122.2 543.8,123.2" fill="#f6efe8"/><polygon points="548.4,130.3 550.4,129.3 550.4,120 548.4,121" fill="#f6efe8"/><polygon points="552.9,128.1 554.9,127.1 554.9,117.8 552.9,118.8" fill="#f6efe8"/><polygon points="541.1,120.7 557,112.9 537,102.9 521.1,110.7" fill="#8f8f8f"/>
<polygon points="470,142 465.5,139.8 465.5,135.2 470,137.5" fill="#f7c31a"/><polygon points="470,142 484,135.2 484,130.7 470,137.5" fill="#d9ab16"/><path d="M466.5 137.6L469 138.8" stroke="#6ab0e6" stroke-width="2.2" fill="none"/><path d="M471 138.8L483 133" stroke="#5a9cd6" stroke-width="2.2" fill="none"/><polygon points="470,137.5 484,130.7 479.5,128.4 465.5,135.2" fill="#f9d55e"/>
<rect x="649.6" y="133" width="12.6" height="7" fill="#f9b21a" stroke="#999" stroke-width="0.6"/><rect x="651.2" y="134.4" width="9.4" height="4.2" fill="#fbd84a"/><rect x="651.4" y="140.2" width="0.8" height="3" fill="#888"/><rect x="660" y="140.2" width="0.8" height="3" fill="#888"/>
<polygon points="463,144 458.5,141.8 458.5,137.2 463,139.5" fill="#f7c31a"/><polygon points="463,144 477,137.2 477,132.7 463,139.5" fill="#d9ab16"/><path d="M459.5 139.6L462 140.8" stroke="#6ab0e6" stroke-width="2.2" fill="none"/><path d="M464 140.8L476 135" stroke="#5a9cd6" stroke-width="2.2" fill="none"/><polygon points="463,139.5 477,132.7 472.5,130.4 458.5,137.2" fill="#f9d55e"/>
<rect x="596.9" y="135.3" width="1.3" height="13.4" fill="#222"/><rect x="602.4" y="134.2" width="1.3" height="14.8" fill="#222"/><rect x="607.9" y="134.9" width="1.3" height="13.9" fill="#222"/><rect x="610.9" y="135.5" width="1.3" height="13.1" fill="#222"/><path d="M597.5 149L603 138M597.5 138L603 150M603 150L611.5 137M603 138L611.5 147" stroke="#333" stroke-width="0.6"/><polygon points="603,136 596.5,132.8 596.5,123.8 603,127" fill="#2b2b2b"/><polygon points="603,136 612,131.6 612,122.6 603,127" fill="#111"/><polygon points="603,127 612,122.6 605.5,119.4 596.5,123.8" fill="#8c8c8c"/><circle cx="601" cy="129" r="2.6" fill="#fff"/><rect x="605" y="114" width="0.7" height="7" fill="#777"/><polygon points="605.7,114 609,115 605.7,116.5" fill="#e33"/>
<polygon points="510.2,150.2 490.2,140.2 490.2,121.2 510.2,131.2" fill="#f6f6f6"/><polygon points="510.2,150.2 519.4,145.7 519.4,126.7 510.2,131.2" fill="#dedede"/><path d="M491.2 137.8L509.2 146.8" stroke="#b4cdea" stroke-width="2.4" fill="none"/><path d="M511.2 146.9L518.4 143.4" stroke="#c8d4e4" stroke-width="2.4" fill="none"/><path d="M491.2 133.1L509.2 142.1" stroke="#b4cdea" stroke-width="2.4" fill="none"/><path d="M511.2 142.1L518.4 138.6" stroke="#c8d4e4" stroke-width="2.4" fill="none"/><path d="M491.2 128.3L509.2 137.3" stroke="#b4cdea" stroke-width="2.4" fill="none"/><path d="M511.2 137.4L518.4 133.9" stroke="#c8d4e4" stroke-width="2.4" fill="none"/><path d="M491.2 123.6L509.2 132.6" stroke="#b4cdea" stroke-width="2.4" fill="none"/><path d="M511.2 132.6L518.4 129.1" stroke="#c8d4e4" stroke-width="2.4" fill="none"/><polygon points="510.2,131.2 519.4,126.7 499.4,116.7 490.2,121.2" fill="#d9263a"/>
<polygon points="500,126.2 509.2,121.7 499.2,116.7 490,121.2" fill="#1f4fa8"/>
<polygon points="583.5,157.5 565,148.2 565,140.2 583.5,149.5" fill="#f2f6f6"/><polygon points="583.5,157.5 595.5,151.7 595.5,143.7 583.5,149.5" fill="#d6dfe2"/><polygon points="583.5,149.5 595.5,143.7 577,134.4 565,140.2" fill="#1f7a74"/>
<polygon points="584.5,150 564,139.8 564,139.7 584.5,149.9" fill="#2e9a8c"/><polygon points="584.5,150 598.5,143.2 598.5,143.1 584.5,149.9" fill="#257e72"/><polygon points="564,139.7 578,132.8 581.2,126.4" fill="#227369"/><polygon points="598.5,143.1 578,132.8 581.2,126.4" fill="#206b62"/><polygon points="584.5,149.9 564,139.7 581.2,126.4" fill="#2e9a8c"/><polygon points="584.5,149.9 598.5,143.1 581.2,126.4" fill="#278277"/>
<polygon points="491.8,157.7 483.4,153.5 483.4,136 491.8,140.2" fill="#f6f6f6"/><polygon points="491.8,157.7 496.8,155.3 496.8,137.8 491.8,140.2" fill="#dedede"/><path d="M484.4 150.5L490.8 153.7" stroke="#b4cdea" stroke-width="2.9" fill="none"/><path d="M492.8 153.7L495.8 152.2" stroke="#c8d4e4" stroke-width="2.9" fill="none"/><path d="M484.4 144.7L490.8 147.9" stroke="#b4cdea" stroke-width="2.9" fill="none"/><path d="M492.8 147.9L495.8 146.4" stroke="#c8d4e4" stroke-width="2.9" fill="none"/><path d="M484.4 138.8L490.8 142" stroke="#b4cdea" stroke-width="2.9" fill="none"/><path d="M492.8 142L495.8 140.6" stroke="#c8d4e4" stroke-width="2.9" fill="none"/><polygon points="491.8,140.2 496.8,137.8 488.4,133.6 483.4,136" fill="#1f4fa8"/>
<rect x="581.5" y="124" width="2.2" height="9" fill="#1f7a74"/>
<rect x="485.4" y="154" width="1.2" height="4" fill="#9a5b2a"/><ellipse cx="486" cy="149" rx="5" ry="5.8" fill="#239638"/><ellipse cx="485" cy="147.5" rx="3" ry="3.5" fill="#3aae44"/>
<polygon points="475,158 467.5,154.2 467.5,151.2 475,155" fill="#2a5fc8"/><polygon points="475,158 479,156.1 479,153.1 475,155" fill="#204a9c"/><polygon points="475,155 479,153.1 471.5,149.3 467.5,151.2" fill="#5f87d5"/><polygon points="474.4,154.8 469.9,152.6 469.9,150.4 474.4,152.6" fill="#e8f2fa"/><polygon points="474.4,154.8 477.8,153.1 477.8,150.9 474.4,152.6" fill="#c4d8ea"/><polygon points="474.4,152.6 477.8,150.9 473.3,148.7 469.9,150.4" fill="#ffffff"/>
<polygon points="474,158.5 466.5,154.8 466.5,151.8 474,155.5" fill="#2a5fc8"/><polygon points="474,158.5 478,156.6 478,153.6 474,155.5" fill="#204a9c"/><polygon points="474,155.5 478,153.6 470.5,149.8 466.5,151.8" fill="#5f87d5"/><polygon points="473.4,155.3 468.9,153.1 468.9,150.9 473.4,153.1" fill="#e8f2fa"/><polygon points="473.4,155.3 476.8,153.6 476.8,151.4 473.4,153.1" fill="#c4d8ea"/><polygon points="473.4,153.1 476.8,151.4 472.3,149.2 468.9,150.9" fill="#ffffff"/>
<rect x="484.4" y="156" width="1.2" height="4" fill="#9a5b2a"/><ellipse cx="485" cy="151" rx="5" ry="5.8" fill="#239638"/><ellipse cx="484" cy="149.5" rx="3" ry="3.5" fill="#3aae44"/>
<polygon points="590,164 586,162 586,159 590,161" fill="#2a5fc8"/><polygon points="590,164 597.5,160.3 597.5,157.3 590,161" fill="#204a9c"/><polygon points="590,161 597.5,157.3 593.5,155.3 586,159" fill="#5f87d5"/><polygon points="590.6,160.8 587.2,159.1 587.2,156.9 590.6,158.6" fill="#e8f2fa"/><polygon points="590.6,160.8 595.1,158.6 595.1,156.4 590.6,158.6" fill="#c4d8ea"/><polygon points="590.6,158.6 595.1,156.4 591.7,154.7 587.2,156.9" fill="#ffffff"/>
<polygon points="589.6,164 585.6,162 585.6,159 589.6,161" fill="#2a5fc8"/><polygon points="589.6,164 597.1,160.3 597.1,157.3 589.6,161" fill="#204a9c"/><polygon points="589.6,161 597.1,157.3 593.1,155.3 585.6,159" fill="#5f87d5"/><polygon points="590.2,160.8 586.8,159.1 586.8,156.9 590.2,158.6" fill="#e8f2fa"/><polygon points="590.2,160.8 594.7,158.6 594.7,156.4 590.2,158.6" fill="#c4d8ea"/><polygon points="590.2,158.6 594.7,156.4 591.3,154.7 586.8,156.9" fill="#ffffff"/>
<polygon points="459.4,166 463.8,166 461.6,155" fill="#2a9d3a"/><rect x="461.1" y="166" width="1" height="2" fill="#9a5b2a"/>
<polygon points="537,176.5 517,166.5 517,164 537,174" fill="#e4e4e4"/><polygon points="537,176.5 552,169.2 552,166.7 537,174" fill="#d0d0d0"/><polygon points="537,174 552,166.7 532,156.7 517,164" fill="#f4f4f4"/>
<polygon points="537,173.6 519.4,164.8 519.4,146.4 537,155.2" fill="#fbd9a0"/><polygon points="537,173.6 549.5,167.5 549.5,149.1 537,155.2" fill="#f2c27a"/><path d="M520.4 163.5L536 171.3" stroke="#fdeccc" stroke-width="1.5" fill="none"/><path d="M538 171.3L548.5 166.2" stroke="#f8dcaa" stroke-width="1.5" fill="none"/><path d="M520.4 160.4L536 168.2" stroke="#fdeccc" stroke-width="1.5" fill="none"/><path d="M538 168.2L548.5 163.1" stroke="#f8dcaa" stroke-width="1.5" fill="none"/><path d="M520.4 157.3L536 165.1" stroke="#fdeccc" stroke-width="1.5" fill="none"/><path d="M538 165.1L548.5 160" stroke="#f8dcaa" stroke-width="1.5" fill="none"/><path d="M520.4 154.3L536 162.1" stroke="#fdeccc" stroke-width="1.5" fill="none"/><path d="M538 162.1L548.5 157" stroke="#f8dcaa" stroke-width="1.5" fill="none"/><path d="M520.4 151.2L536 159" stroke="#fdeccc" stroke-width="1.5" fill="none"/><path d="M538 159L548.5 153.9" stroke="#f8dcaa" stroke-width="1.5" fill="none"/><path d="M520.4 148.1L536 155.9" stroke="#fdeccc" stroke-width="1.5" fill="none"/><path d="M538 155.9L548.5 150.8" stroke="#f8dcaa" stroke-width="1.5" fill="none"/><polygon points="537,155.2 549.5,149.1 531.9,140.3 519.4,146.4" fill="#fdebc8"/>
<polygon points="536.5,152.5 530,149.2 530,141.2 536.5,144.5" fill="#fbd9a0"/><polygon points="536.5,152.5 542.5,149.6 542.5,141.6 536.5,144.5" fill="#f2c27a"/><polygon points="536.5,144.5 542.5,141.6 536,138.3 530,141.2" fill="#fdebc8"/>
<polygon points="451,175.2 442.6,171 442.6,135 451,139.2" fill="#f4f6f8"/><polygon points="451,175.2 459.4,171.1 459.4,135.1 451,139.2" fill="#f0e4d8"/><path d="M443.6 168.4L450 171.6" stroke="#bfe0ee" stroke-width="2.6" fill="none"/><path d="M452 171.6L458.4 168.5" stroke="#a8c5d1" stroke-width="2.6" fill="none"/><path d="M443.6 163.3L450 166.5" stroke="#bfe0ee" stroke-width="2.6" fill="none"/><path d="M452 166.5L458.4 163.4" stroke="#a8c5d1" stroke-width="2.6" fill="none"/><path d="M443.6 158.1L450 161.3" stroke="#bfe0ee" stroke-width="2.6" fill="none"/><path d="M452 161.3L458.4 158.2" stroke="#a8c5d1" stroke-width="2.6" fill="none"/><path d="M443.6 153L450 156.2" stroke="#bfe0ee" stroke-width="2.6" fill="none"/><path d="M452 156.2L458.4 153.1" stroke="#a8c5d1" stroke-width="2.6" fill="none"/><path d="M443.6 147.8L450 151" stroke="#bfe0ee" stroke-width="2.6" fill="none"/><path d="M452 151.1L458.4 147.9" stroke="#a8c5d1" stroke-width="2.6" fill="none"/><path d="M443.6 142.7L450 145.9" stroke="#bfe0ee" stroke-width="2.6" fill="none"/><path d="M452 145.9L458.4 142.8" stroke="#a8c5d1" stroke-width="2.6" fill="none"/><path d="M443.6 137.6L450 140.8" stroke="#bfe0ee" stroke-width="2.6" fill="none"/><path d="M452 140.8L458.4 137.6" stroke="#a8c5d1" stroke-width="2.6" fill="none"/><polygon points="451,139.2 459.4,135.1 451,130.9 442.6,135" fill="#ffffff"/>
<path d="M446 136 l3.5 -4 l3.5 4 M449.5 131 v6" stroke="#2a9d3a" stroke-width="1.6" fill="none"/>
<polygon points="458,178 454,176 454,172 458,174" fill="#f6c27a"/><polygon points="458,178 463,175.6 463,171.6 458,174" fill="#e8a85a"/><polygon points="458,174 463,171.6 459,169.6 454,172" fill="#fbe0b0"/>
<rect x="680.4" y="172" width="1.2" height="4" fill="#9a5b2a"/><ellipse cx="681" cy="167" rx="5" ry="5.8" fill="#239638"/><ellipse cx="680" cy="165.5" rx="3" ry="3.5" fill="#3aae44"/>
<polygon points="599,180 585,173 585,168.5 599,175.5" fill="#f7c31a"/><polygon points="599,180 603.5,177.8 603.5,173.3 599,175.5" fill="#d9ab16"/><path d="M586 170.8L598 176.8" stroke="#6ab0e6" stroke-width="2.2" fill="none"/><path d="M600 176.8L602.5 175.6" stroke="#5a9cd6" stroke-width="2.2" fill="none"/><polygon points="599,175.5 603.5,173.3 589.5,166.3 585,168.5" fill="#f9d55e"/>
<polygon points="626,180.2 610,172.2 610,163.5 626,171.5" fill="#2070c8"/><polygon points="626,180.2 634,176.3 634,167.6 626,171.5" fill="#174f9a"/><polygon points="626,171.5 634,167.6 618,159.6 610,163.5" fill="#f7f7f7"/><circle cx="626" cy="165" r="2.8" fill="#f5d21a"/><circle cx="626" cy="165" r="1.5" fill="#1f3f9a"/>
<path d="M518.5 188.4Q527.5 173 536.5 179.6" stroke="#8fbfe2" stroke-width="4.2" fill="none" stroke-linecap="round"/><path d="M518.5 188.4Q527.5 173 536.5 179.6" stroke="#dcedf8" stroke-width="1.8" fill="none" stroke-linecap="round" transform="translate(0,-0.8)"/>
<rect x="594.8" y="190" width="1.2" height="4" fill="#9a5b2a"/><ellipse cx="595.4" cy="185" rx="5" ry="5.8" fill="#239638"/><ellipse cx="594.4" cy="183.5" rx="3" ry="3.5" fill="#3aae44"/>
<polygon points="497.8,195.3 484.8,188.8 484.8,161.8 497.8,168.3" fill="#f9cf8a"/><polygon points="497.8,195.3 516.8,186 516.8,159 497.8,168.3" fill="#f0c070"/><path d="M485.8 186.1L496.8 191.6" stroke="#a9c0d4" stroke-width="2.7" fill="none"/><path d="M498.8 191.6L515.8 183.3" stroke="#9ab4cc" stroke-width="2.7" fill="none"/><path d="M485.8 180.7L496.8 186.2" stroke="#a9c0d4" stroke-width="2.7" fill="none"/><path d="M498.8 186.2L515.8 177.9" stroke="#9ab4cc" stroke-width="2.7" fill="none"/><path d="M485.8 175.3L496.8 180.8" stroke="#a9c0d4" stroke-width="2.7" fill="none"/><path d="M498.8 180.8L515.8 172.5" stroke="#9ab4cc" stroke-width="2.7" fill="none"/><path d="M485.8 169.9L496.8 175.4" stroke="#a9c0d4" stroke-width="2.7" fill="none"/><path d="M498.8 175.4L515.8 167.1" stroke="#9ab4cc" stroke-width="2.7" fill="none"/><path d="M485.8 164.5L496.8 170" stroke="#a9c0d4" stroke-width="2.7" fill="none"/><path d="M498.8 170L515.8 161.7" stroke="#9ab4cc" stroke-width="2.7" fill="none"/><polygon points="497.8,168.3 516.8,159 503.8,152.5 484.8,161.8" fill="#f8b4a0"/>
<rect x="509.6" y="192" width="1.2" height="4" fill="#9a5b2a"/><ellipse cx="510.2" cy="187" rx="5" ry="5.8" fill="#239638"/><ellipse cx="509.2" cy="185.5" rx="3" ry="3.5" fill="#3aae44"/>
<rect x="509.8" y="192.5" width="1.2" height="4" fill="#9a5b2a"/><ellipse cx="510.4" cy="187.5" rx="5" ry="5.8" fill="#239638"/><ellipse cx="509.4" cy="186" rx="3" ry="3.5" fill="#3aae44"/>
<polygon points="577.8,197 560.2,188.2 560.2,175.7 577.8,184.5" fill="#d4e8fa"/><polygon points="577.8,197 589.5,191.3 589.5,178.8 577.8,184.5" fill="#a4ccf0"/><path d="M561.2 184.9L576.8 192.8" stroke="#a4c8ee" stroke-width="3.1" fill="none"/><path d="M578.8 192.8L588.5 188" stroke="#8cb8e6" stroke-width="3.1" fill="none"/><path d="M561.2 178.7L576.8 186.5" stroke="#a4c8ee" stroke-width="3.1" fill="none"/><path d="M578.8 186.5L588.5 181.8" stroke="#8cb8e6" stroke-width="3.1" fill="none"/><polygon points="577.8,184.5 589.5,178.8 571.9,170 560.2,175.7" fill="#f4faff"/>
<polygon points="575.5,181.7 568.5,178.2 568.5,170.2 575.5,173.7" fill="#1f3fa8"/><polygon points="575.5,181.7 581.5,178.8 581.5,170.8 575.5,173.7" fill="#16307a"/><polygon points="575.5,173.7 581.5,170.8 574.5,167.3 568.5,170.2" fill="#3a5fc8"/>
<path d="M476.5 171 v19 a9 5.4 0 0 0 18 0 v-19z" fill="#e9eef4"/><path d="M476.5 175 a9 5.4 0 0 0 18 0" stroke="#5f8fc0" stroke-width="1.5" fill="none"/><path d="M476.5 180 a9 5.4 0 0 0 18 0" stroke="#5f8fc0" stroke-width="1.5" fill="none"/><path d="M476.5 185 a9 5.4 0 0 0 18 0" stroke="#5f8fc0" stroke-width="1.5" fill="none"/><path d="M476.5 190 a9 5.4 0 0 0 18 0" stroke="#5f8fc0" stroke-width="1.5" fill="none"/><ellipse cx="485.5" cy="171" rx="9" ry="5.4" fill="#8c8c8c"/><circle cx="481" cy="168" r="2.6" fill="#2a9d3a"/>
<rect x="501.2" y="195.5" width="1.2" height="4" fill="#9a5b2a"/><ellipse cx="501.8" cy="190.5" rx="5" ry="5.8" fill="#239638"/><ellipse cx="500.8" cy="189" rx="3" ry="3.5" fill="#3aae44"/>
<rect x="501.4" y="197.5" width="1.2" height="4" fill="#9a5b2a"/><ellipse cx="502" cy="192.5" rx="5" ry="5.8" fill="#239638"/><ellipse cx="501" cy="191" rx="3" ry="3.5" fill="#3aae44"/>
<rect x="370.4" y="199" width="1.2" height="4" fill="#9a5b2a"/><ellipse cx="371" cy="194" rx="5" ry="5.8" fill="#239638"/><ellipse cx="370" cy="192.5" rx="3" ry="3.5" fill="#3aae44"/>
<rect x="578.2" y="203" width="1.2" height="4" fill="#9a5b2a"/><ellipse cx="578.8" cy="198" rx="5" ry="5.8" fill="#239638"/><ellipse cx="577.8" cy="196.5" rx="3" ry="3.5" fill="#3aae44"/>
<rect x="364.6" y="204.2" width="0.8" height="2.8" fill="#9a5b2a"/><ellipse cx="365" cy="200.7" rx="3.5" ry="4" fill="#239638"/><ellipse cx="364.3" cy="199.7" rx="2.1" ry="2.4" fill="#3aae44"/>
<rect x="578.4" y="203.5" width="1.2" height="4" fill="#9a5b2a"/><ellipse cx="579" cy="198.5" rx="5" ry="5.8" fill="#239638"/><ellipse cx="578" cy="197" rx="3" ry="3.5" fill="#3aae44"/>
<polygon points="430.3,207.7 412.3,198.7 412.3,162.7 430.3,171.7" fill="#f7f7f7"/><polygon points="430.3,207.7 436.3,204.8 436.3,168.8 430.3,171.7" fill="#e2dcea"/><path d="M413.3 198L429.3 206" stroke="#d2d2d6" stroke-width="1" fill="none"/><path d="M431.3 206L435.3 204.1" stroke="#b8b8bc" stroke-width="1" fill="none"/><path d="M413.3 196L429.3 204" stroke="#d2d2d6" stroke-width="1" fill="none"/><path d="M431.3 204L435.3 202.1" stroke="#b8b8bc" stroke-width="1" fill="none"/><path d="M413.3 194L429.3 202" stroke="#d2d2d6" stroke-width="1" fill="none"/><path d="M431.3 202L435.3 200.1" stroke="#b8b8bc" stroke-width="1" fill="none"/><path d="M413.3 192L429.3 200" stroke="#d2d2d6" stroke-width="1" fill="none"/><path d="M431.3 200L435.3 198.1" stroke="#b8b8bc" stroke-width="1" fill="none"/><path d="M413.3 190L429.3 198" stroke="#d2d2d6" stroke-width="1" fill="none"/><path d="M431.3 198L435.3 196.1" stroke="#b8b8bc" stroke-width="1" fill="none"/><path d="M413.3 188L429.3 196" stroke="#d2d2d6" stroke-width="1" fill="none"/><path d="M431.3 196L435.3 194.1" stroke="#b8b8bc" stroke-width="1" fill="none"/><path d="M413.3 186L429.3 194" stroke="#d2d2d6" stroke-width="1" fill="none"/><path d="M431.3 194L435.3 192.1" stroke="#b8b8bc" stroke-width="1" fill="none"/><path d="M413.3 184L429.3 192" stroke="#d2d2d6" stroke-width="1" fill="none"/><path d="M431.3 192L435.3 190.1" stroke="#b8b8bc" stroke-width="1" fill="none"/><path d="M413.3 182L429.3 190" stroke="#d2d2d6" stroke-width="1" fill="none"/><path d="M431.3 190L435.3 188.1" stroke="#b8b8bc" stroke-width="1" fill="none"/><path d="M413.3 180L429.3 188" stroke="#d2d2d6" stroke-width="1" fill="none"/><path d="M431.3 188L435.3 186.1" stroke="#b8b8bc" stroke-width="1" fill="none"/><path d="M413.3 178L429.3 186" stroke="#d2d2d6" stroke-width="1" fill="none"/><path d="M431.3 186L435.3 184.1" stroke="#b8b8bc" stroke-width="1" fill="none"/><path d="M413.3 176L429.3 184" stroke="#d2d2d6" stroke-width="1" fill="none"/><path d="M431.3 184L435.3 182.1" stroke="#b8b8bc" stroke-width="1" fill="none"/><path d="M413.3 174L429.3 182" stroke="#d2d2d6" stroke-width="1" fill="none"/><path d="M431.3 182L435.3 180.1" stroke="#b8b8bc" stroke-width="1" fill="none"/><path d="M413.3 172L429.3 180" stroke="#d2d2d6" stroke-width="1" fill="none"/><path d="M431.3 180L435.3 178.1" stroke="#b8b8bc" stroke-width="1" fill="none"/><path d="M413.3 170L429.3 178" stroke="#d2d2d6" stroke-width="1" fill="none"/><path d="M431.3 178L435.3 176.1" stroke="#b8b8bc" stroke-width="1" fill="none"/><path d="M413.3 168L429.3 176" stroke="#d2d2d6" stroke-width="1" fill="none"/><path d="M431.3 176L435.3 174.1" stroke="#b8b8bc" stroke-width="1" fill="none"/><path d="M413.3 166L429.3 174" stroke="#d2d2d6" stroke-width="1" fill="none"/><path d="M431.3 174L435.3 172.1" stroke="#b8b8bc" stroke-width="1" fill="none"/><path d="M413.3 164L429.3 172" stroke="#d2d2d6" stroke-width="1" fill="none"/><path d="M431.3 172L435.3 170.1" stroke="#b8b8bc" stroke-width="1" fill="none"/><polygon points="430.3,171.7 436.3,168.8 418.3,159.8 412.3,162.7" fill="#ffffff"/>
<polygon points="350,214 346,212 346,209 350,211" fill="#4aa84a"/><polygon points="350,214 357.5,210.3 357.5,207.3 350,211" fill="#398339"/><polygon points="350,211 357.5,207.3 353.5,205.3 346,209" fill="#77bd77"/><polygon points="350.6,210.8 347.2,209.1 347.2,206.9 350.6,208.6" fill="#e8f2fa"/><polygon points="350.6,210.8 355.1,208.6 355.1,206.4 350.6,208.6" fill="#c4d8ea"/><polygon points="350.6,208.6 355.1,206.4 351.7,204.7 347.2,206.9" fill="#ffffff"/>
<rect x="322" y="211" width="1.2" height="4" fill="#9a5b2a"/><ellipse cx="322.6" cy="206" rx="5" ry="5.8" fill="#239638"/><ellipse cx="321.6" cy="204.5" rx="3" ry="3.5" fill="#3aae44"/>
<polygon points="554.5,214 557.5,214 556,206.9" fill="#2a9d3a"/><rect x="555.5" y="214" width="1" height="2" fill="#9a5b2a"/>
<polygon points="412.3,216.5 394.3,207.5 394.3,171.5 412.3,180.5" fill="#f7f7f7"/><polygon points="412.3,216.5 418.3,213.6 418.3,177.6 412.3,180.5" fill="#e2dcea"/><path d="M395.3 206.8L411.3 214.8" stroke="#d2d2d6" stroke-width="1" fill="none"/><path d="M413.3 214.8L417.3 212.9" stroke="#b8b8bc" stroke-width="1" fill="none"/><path d="M395.3 204.8L411.3 212.8" stroke="#d2d2d6" stroke-width="1" fill="none"/><path d="M413.3 212.8L417.3 210.9" stroke="#b8b8bc" stroke-width="1" fill="none"/><path d="M395.3 202.8L411.3 210.8" stroke="#d2d2d6" stroke-width="1" fill="none"/><path d="M413.3 210.8L417.3 208.9" stroke="#b8b8bc" stroke-width="1" fill="none"/><path d="M395.3 200.8L411.3 208.8" stroke="#d2d2d6" stroke-width="1" fill="none"/><path d="M413.3 208.8L417.3 206.9" stroke="#b8b8bc" stroke-width="1" fill="none"/><path d="M395.3 198.8L411.3 206.8" stroke="#d2d2d6" stroke-width="1" fill="none"/><path d="M413.3 206.8L417.3 204.9" stroke="#b8b8bc" stroke-width="1" fill="none"/><path d="M395.3 196.8L411.3 204.8" stroke="#d2d2d6" stroke-width="1" fill="none"/><path d="M413.3 204.8L417.3 202.9" stroke="#b8b8bc" stroke-width="1" fill="none"/><path d="M395.3 194.8L411.3 202.8" stroke="#d2d2d6" stroke-width="1" fill="none"/><path d="M413.3 202.8L417.3 200.9" stroke="#b8b8bc" stroke-width="1" fill="none"/><path d="M395.3 192.8L411.3 200.8" stroke="#d2d2d6" stroke-width="1" fill="none"/><path d="M413.3 200.8L417.3 198.9" stroke="#b8b8bc" stroke-width="1" fill="none"/><path d="M395.3 190.8L411.3 198.8" stroke="#d2d2d6" stroke-width="1" fill="none"/><path d="M413.3 198.8L417.3 196.9" stroke="#b8b8bc" stroke-width="1" fill="none"/><path d="M395.3 188.8L411.3 196.8" stroke="#d2d2d6" stroke-width="1" fill="none"/><path d="M413.3 196.8L417.3 194.9" stroke="#b8b8bc" stroke-width="1" fill="none"/><path d="M395.3 186.8L411.3 194.8" stroke="#d2d2d6" stroke-width="1" fill="none"/><path d="M413.3 194.8L417.3 192.9" stroke="#b8b8bc" stroke-width="1" fill="none"/><path d="M395.3 184.8L411.3 192.8" stroke="#d2d2d6" stroke-width="1" fill="none"/><path d="M413.3 192.8L417.3 190.9" stroke="#b8b8bc" stroke-width="1" fill="none"/><path d="M395.3 182.8L411.3 190.8" stroke="#d2d2d6" stroke-width="1" fill="none"/><path d="M413.3 190.8L417.3 188.9" stroke="#b8b8bc" stroke-width="1" fill="none"/><path d="M395.3 180.8L411.3 188.8" stroke="#d2d2d6" stroke-width="1" fill="none"/><path d="M413.3 188.8L417.3 186.9" stroke="#b8b8bc" stroke-width="1" fill="none"/><path d="M395.3 178.8L411.3 186.8" stroke="#d2d2d6" stroke-width="1" fill="none"/><path d="M413.3 186.8L417.3 184.9" stroke="#b8b8bc" stroke-width="1" fill="none"/><path d="M395.3 176.8L411.3 184.8" stroke="#d2d2d6" stroke-width="1" fill="none"/><path d="M413.3 184.8L417.3 182.9" stroke="#b8b8bc" stroke-width="1" fill="none"/><path d="M395.3 174.8L411.3 182.8" stroke="#d2d2d6" stroke-width="1" fill="none"/><path d="M413.3 182.8L417.3 180.9" stroke="#b8b8bc" stroke-width="1" fill="none"/><path d="M395.3 172.8L411.3 180.8" stroke="#d2d2d6" stroke-width="1" fill="none"/><path d="M413.3 180.8L417.3 178.9" stroke="#b8b8bc" stroke-width="1" fill="none"/><polygon points="412.3,180.5 418.3,177.6 400.3,168.6 394.3,171.5" fill="#ffffff"/>
<polygon points="449.6,218.3 431.6,209.3 431.6,173.3 449.6,182.3" fill="#f7f7f7"/><polygon points="449.6,218.3 455.6,215.4 455.6,179.4 449.6,182.3" fill="#e2dcea"/><path d="M432.6 208.6L448.6 216.6" stroke="#d2d2d6" stroke-width="1" fill="none"/><path d="M450.6 216.6L454.6 214.7" stroke="#b8b8bc" stroke-width="1" fill="none"/><path d="M432.6 206.6L448.6 214.6" stroke="#d2d2d6" stroke-width="1" fill="none"/><path d="M450.6 214.6L454.6 212.7" stroke="#b8b8bc" stroke-width="1" fill="none"/><path d="M432.6 204.6L448.6 212.6" stroke="#d2d2d6" stroke-width="1" fill="none"/><path d="M450.6 212.6L454.6 210.7" stroke="#b8b8bc" stroke-width="1" fill="none"/><path d="M432.6 202.6L448.6 210.6" stroke="#d2d2d6" stroke-width="1" fill="none"/><path d="M450.6 210.6L454.6 208.7" stroke="#b8b8bc" stroke-width="1" fill="none"/><path d="M432.6 200.6L448.6 208.6" stroke="#d2d2d6" stroke-width="1" fill="none"/><path d="M450.6 208.6L454.6 206.7" stroke="#b8b8bc" stroke-width="1" fill="none"/><path d="M432.6 198.6L448.6 206.6" stroke="#d2d2d6" stroke-width="1" fill="none"/><path d="M450.6 206.6L454.6 204.7" stroke="#b8b8bc" stroke-width="1" fill="none"/><path d="M432.6 196.6L448.6 204.6" stroke="#d2d2d6" stroke-width="1" fill="none"/><path d="M450.6 204.6L454.6 202.7" stroke="#b8b8bc" stroke-width="1" fill="none"/><path d="M432.6 194.6L448.6 202.6" stroke="#d2d2d6" stroke-width="1" fill="none"/><path d="M450.6 202.6L454.6 200.7" stroke="#b8b8bc" stroke-width="1" fill="none"/><path d="M432.6 192.6L448.6 200.6" stroke="#d2d2d6" stroke-width="1" fill="none"/><path d="M450.6 200.6L454.6 198.7" stroke="#b8b8bc" stroke-width="1" fill="none"/><path d="M432.6 190.6L448.6 198.6" stroke="#d2d2d6" stroke-width="1" fill="none"/><path d="M450.6 198.6L454.6 196.7" stroke="#b8b8bc" stroke-width="1" fill="none"/><path d="M432.6 188.6L448.6 196.6" stroke="#d2d2d6" stroke-width="1" fill="none"/><path d="M450.6 196.6L454.6 194.7" stroke="#b8b8bc" stroke-width="1" fill="none"/><path d="M432.6 186.6L448.6 194.6" stroke="#d2d2d6" stroke-width="1" fill="none"/><path d="M450.6 194.6L454.6 192.7" stroke="#b8b8bc" stroke-width="1" fill="none"/><path d="M432.6 184.6L448.6 192.6" stroke="#d2d2d6" stroke-width="1" fill="none"/><path d="M450.6 192.6L454.6 190.7" stroke="#b8b8bc" stroke-width="1" fill="none"/><path d="M432.6 182.6L448.6 190.6" stroke="#d2d2d6" stroke-width="1" fill="none"/><path d="M450.6 190.6L454.6 188.7" stroke="#b8b8bc" stroke-width="1" fill="none"/><path d="M432.6 180.6L448.6 188.6" stroke="#d2d2d6" stroke-width="1" fill="none"/><path d="M450.6 188.6L454.6 186.7" stroke="#b8b8bc" stroke-width="1" fill="none"/><path d="M432.6 178.6L448.6 186.6" stroke="#d2d2d6" stroke-width="1" fill="none"/><path d="M450.6 186.6L454.6 184.7" stroke="#b8b8bc" stroke-width="1" fill="none"/><path d="M432.6 176.6L448.6 184.6" stroke="#d2d2d6" stroke-width="1" fill="none"/><path d="M450.6 184.6L454.6 182.7" stroke="#b8b8bc" stroke-width="1" fill="none"/><path d="M432.6 174.6L448.6 182.6" stroke="#d2d2d6" stroke-width="1" fill="none"/><path d="M450.6 182.6L454.6 180.7" stroke="#b8b8bc" stroke-width="1" fill="none"/><polygon points="449.6,182.3 455.6,179.4 437.6,170.4 431.6,173.3" fill="#ffffff"/>
<polygon points="554.7,218 557.7,218 556.2,210.9" fill="#2a9d3a"/><rect x="555.7" y="218" width="1" height="2" fill="#9a5b2a"/>
<polygon points="538.6,220.2 520.2,211 520.2,200.1 538.6,209.3" fill="#f2f2f2"/><polygon points="538.6,220.2 554.5,212.4 554.5,201.5 538.6,209.3" fill="#d8d8d8"/><polygon points="538.6,209.3 554.5,201.5 536.1,192.3 520.2,200.1" fill="#f8f8f8"/>
<polygon points="536,203 532,201 532,198.5 536,200.5" fill="#e0e0e0"/><polygon points="536,203 540,201.1 540,198.6 536,200.5" fill="#b7b7b7"/><polygon points="536,200.5 540,198.6 536,196.6 532,198.5" fill="#fff"/><polygon points="526,209 531,211.5 531,217.5 526,215" fill="#cfe6f6"/>
<rect x="363.6" y="216.5" width="1.2" height="4" fill="#9a5b2a"/><ellipse cx="364.2" cy="211.5" rx="5" ry="5.8" fill="#239638"/><ellipse cx="363.2" cy="210" rx="3" ry="3.5" fill="#3aae44"/>
<rect x="457.7" y="220" width="0.6" height="2" fill="#9a5b2a"/><ellipse cx="458" cy="217.5" rx="2.5" ry="2.9" fill="#239638"/><ellipse cx="457.5" cy="216.8" rx="1.5" ry="1.8" fill="#3aae44"/>
<polygon points="551,225 547,223 547,220 551,222" fill="#f58ab0"/><polygon points="551,225 558.5,221.3 558.5,218.3 551,222" fill="#bf6b89"/><polygon points="551,222 558.5,218.3 554.5,216.3 547,220" fill="#f7a7c3"/><polygon points="551.6,221.8 548.2,220.1 548.2,217.9 551.6,219.6" fill="#e8f2fa"/><polygon points="551.6,221.8 556.1,219.6 556.1,217.4 551.6,219.6" fill="#c4d8ea"/><polygon points="551.6,219.6 556.1,217.4 552.7,215.7 548.2,217.9" fill="#ffffff"/>
<polygon points="394.3,225.3 376.3,216.3 376.3,180.3 394.3,189.3" fill="#f7f7f7"/><polygon points="394.3,225.3 400.3,222.4 400.3,186.4 394.3,189.3" fill="#e2dcea"/><path d="M377.3 215.6L393.3 223.6" stroke="#d2d2d6" stroke-width="1" fill="none"/><path d="M395.3 223.6L399.3 221.7" stroke="#b8b8bc" stroke-width="1" fill="none"/><path d="M377.3 213.6L393.3 221.6" stroke="#d2d2d6" stroke-width="1" fill="none"/><path d="M395.3 221.6L399.3 219.7" stroke="#b8b8bc" stroke-width="1" fill="none"/><path d="M377.3 211.6L393.3 219.6" stroke="#d2d2d6" stroke-width="1" fill="none"/><path d="M395.3 219.6L399.3 217.7" stroke="#b8b8bc" stroke-width="1" fill="none"/><path d="M377.3 209.6L393.3 217.6" stroke="#d2d2d6" stroke-width="1" fill="none"/><path d="M395.3 217.6L399.3 215.7" stroke="#b8b8bc" stroke-width="1" fill="none"/><path d="M377.3 207.6L393.3 215.6" stroke="#d2d2d6" stroke-width="1" fill="none"/><path d="M395.3 215.6L399.3 213.7" stroke="#b8b8bc" stroke-width="1" fill="none"/><path d="M377.3 205.6L393.3 213.6" stroke="#d2d2d6" stroke-width="1" fill="none"/><path d="M395.3 213.6L399.3 211.7" stroke="#b8b8bc" stroke-width="1" fill="none"/><path d="M377.3 203.6L393.3 211.6" stroke="#d2d2d6" stroke-width="1" fill="none"/><path d="M395.3 211.6L399.3 209.7" stroke="#b8b8bc" stroke-width="1" fill="none"/><path d="M377.3 201.6L393.3 209.6" stroke="#d2d2d6" stroke-width="1" fill="none"/><path d="M395.3 209.6L399.3 207.7" stroke="#b8b8bc" stroke-width="1" fill="none"/><path d="M377.3 199.6L393.3 207.6" stroke="#d2d2d6" stroke-width="1" fill="none"/><path d="M395.3 207.6L399.3 205.7" stroke="#b8b8bc" stroke-width="1" fill="none"/><path d="M377.3 197.6L393.3 205.6" stroke="#d2d2d6" stroke-width="1" fill="none"/><path d="M395.3 205.6L399.3 203.7" stroke="#b8b8bc" stroke-width="1" fill="none"/><path d="M377.3 195.6L393.3 203.6" stroke="#d2d2d6" stroke-width="1" fill="none"/><path d="M395.3 203.6L399.3 201.7" stroke="#b8b8bc" stroke-width="1" fill="none"/><path d="M377.3 193.6L393.3 201.6" stroke="#d2d2d6" stroke-width="1" fill="none"/><path d="M395.3 201.6L399.3 199.7" stroke="#b8b8bc" stroke-width="1" fill="none"/><path d="M377.3 191.6L393.3 199.6" stroke="#d2d2d6" stroke-width="1" fill="none"/><path d="M395.3 199.6L399.3 197.7" stroke="#b8b8bc" stroke-width="1" fill="none"/><path d="M377.3 189.6L393.3 197.6" stroke="#d2d2d6" stroke-width="1" fill="none"/><path d="M395.3 197.6L399.3 195.7" stroke="#b8b8bc" stroke-width="1" fill="none"/><path d="M377.3 187.6L393.3 195.6" stroke="#d2d2d6" stroke-width="1" fill="none"/><path d="M395.3 195.6L399.3 193.7" stroke="#b8b8bc" stroke-width="1" fill="none"/><path d="M377.3 185.6L393.3 193.6" stroke="#d2d2d6" stroke-width="1" fill="none"/><path d="M395.3 193.6L399.3 191.7" stroke="#b8b8bc" stroke-width="1" fill="none"/><path d="M377.3 183.6L393.3 191.6" stroke="#d2d2d6" stroke-width="1" fill="none"/><path d="M395.3 191.6L399.3 189.7" stroke="#b8b8bc" stroke-width="1" fill="none"/><path d="M377.3 181.6L393.3 189.6" stroke="#d2d2d6" stroke-width="1" fill="none"/><path d="M395.3 189.6L399.3 187.7" stroke="#b8b8bc" stroke-width="1" fill="none"/><polygon points="394.3,189.3 400.3,186.4 382.3,177.4 376.3,180.3" fill="#ffffff"/>
<polygon points="617.7,225.3 610.7,221.8 610.7,186.8 617.7,190.3" fill="#dca8d6"/><polygon points="617.7,225.3 628.5,220 628.5,185 617.7,190.3" fill="#f28aa4"/><path d="M611.7 221.1L616.7 223.6" stroke="#c07ab4" stroke-width="1" fill="none"/><path d="M618.7 223.6L627.5 219.3" stroke="#f8bccb" stroke-width="1" fill="none"/><path d="M611.7 219L616.7 221.5" stroke="#c07ab4" stroke-width="1" fill="none"/><path d="M618.7 221.5L627.5 217.2" stroke="#f8bccb" stroke-width="1" fill="none"/><path d="M611.7 216.9L616.7 219.4" stroke="#c07ab4" stroke-width="1" fill="none"/><path d="M618.7 219.5L627.5 215.2" stroke="#f8bccb" stroke-width="1" fill="none"/><path d="M611.7 214.9L616.7 217.4" stroke="#c07ab4" stroke-width="1" fill="none"/><path d="M618.7 217.4L627.5 213.1" stroke="#f8bccb" stroke-width="1" fill="none"/><path d="M611.7 212.8L616.7 215.3" stroke="#c07ab4" stroke-width="1" fill="none"/><path d="M618.7 215.3L627.5 211.1" stroke="#f8bccb" stroke-width="1" fill="none"/><path d="M611.7 210.8L616.7 213.3" stroke="#c07ab4" stroke-width="1" fill="none"/><path d="M618.7 213.3L627.5 209" stroke="#f8bccb" stroke-width="1" fill="none"/><path d="M611.7 208.7L616.7 211.2" stroke="#c07ab4" stroke-width="1" fill="none"/><path d="M618.7 211.2L627.5 206.9" stroke="#f8bccb" stroke-width="1" fill="none"/><path d="M611.7 206.7L616.7 209.2" stroke="#c07ab4" stroke-width="1" fill="none"/><path d="M618.7 209.2L627.5 204.9" stroke="#f8bccb" stroke-width="1" fill="none"/><path d="M611.7 204.6L616.7 207.1" stroke="#c07ab4" stroke-width="1" fill="none"/><path d="M618.7 207.1L627.5 202.8" stroke="#f8bccb" stroke-width="1" fill="none"/><path d="M611.7 202.5L616.7 205" stroke="#c07ab4" stroke-width="1" fill="none"/><path d="M618.7 205L627.5 200.8" stroke="#f8bccb" stroke-width="1" fill="none"/><path d="M611.7 200.5L616.7 203" stroke="#c07ab4" stroke-width="1" fill="none"/><path d="M618.7 203L627.5 198.7" stroke="#f8bccb" stroke-width="1" fill="none"/><path d="M611.7 198.4L616.7 200.9" stroke="#c07ab4" stroke-width="1" fill="none"/><path d="M618.7 200.9L627.5 196.6" stroke="#f8bccb" stroke-width="1" fill="none"/><path d="M611.7 196.4L616.7 198.9" stroke="#c07ab4" stroke-width="1" fill="none"/><path d="M618.7 198.9L627.5 194.6" stroke="#f8bccb" stroke-width="1" fill="none"/><path d="M611.7 194.3L616.7 196.8" stroke="#c07ab4" stroke-width="1" fill="none"/><path d="M618.7 196.8L627.5 192.5" stroke="#f8bccb" stroke-width="1" fill="none"/><path d="M611.7 192.2L616.7 194.7" stroke="#c07ab4" stroke-width="1" fill="none"/><path d="M618.7 194.8L627.5 190.5" stroke="#f8bccb" stroke-width="1" fill="none"/><path d="M611.7 190.2L616.7 192.7" stroke="#c07ab4" stroke-width="1" fill="none"/><path d="M618.7 192.7L627.5 188.4" stroke="#f8bccb" stroke-width="1" fill="none"/><path d="M611.7 188.1L616.7 190.6" stroke="#c07ab4" stroke-width="1" fill="none"/><path d="M618.7 190.6L627.5 186.3" stroke="#f8bccb" stroke-width="1" fill="none"/><polygon points="617.7,190.3 628.5,185 621.5,181.5 610.7,186.8" fill="#fbfbfb"/>
<polygon points="431.6,226.5 413.6,217.5 413.6,181.5 431.6,190.5" fill="#f7f7f7"/><polygon points="431.6,226.5 437.6,223.6 437.6,187.6 431.6,190.5" fill="#e2dcea"/><path d="M414.6 216.8L430.6 224.8" stroke="#d2d2d6" stroke-width="1" fill="none"/><path d="M432.6 224.8L436.6 222.9" stroke="#b8b8bc" stroke-width="1" fill="none"/><path d="M414.6 214.8L430.6 222.8" stroke="#d2d2d6" stroke-width="1" fill="none"/><path d="M432.6 222.8L436.6 220.9" stroke="#b8b8bc" stroke-width="1" fill="none"/><path d="M414.6 212.8L430.6 220.8" stroke="#d2d2d6" stroke-width="1" fill="none"/><path d="M432.6 220.8L436.6 218.9" stroke="#b8b8bc" stroke-width="1" fill="none"/><path d="M414.6 210.8L430.6 218.8" stroke="#d2d2d6" stroke-width="1" fill="none"/><path d="M432.6 218.8L436.6 216.9" stroke="#b8b8bc" stroke-width="1" fill="none"/><path d="M414.6 208.8L430.6 216.8" stroke="#d2d2d6" stroke-width="1" fill="none"/><path d="M432.6 216.8L436.6 214.9" stroke="#b8b8bc" stroke-width="1" fill="none"/><path d="M414.6 206.8L430.6 214.8" stroke="#d2d2d6" stroke-width="1" fill="none"/><path d="M432.6 214.8L436.6 212.9" stroke="#b8b8bc" stroke-width="1" fill="none"/><path d="M414.6 204.8L430.6 212.8" stroke="#d2d2d6" stroke-width="1" fill="none"/><path d="M432.6 212.8L436.6 210.9" stroke="#b8b8bc" stroke-width="1" fill="none"/><path d="M414.6 202.8L430.6 210.8" stroke="#d2d2d6" stroke-width="1" fill="none"/><path d="M432.6 210.8L436.6 208.9" stroke="#b8b8bc" stroke-width="1" fill="none"/><path d="M414.6 200.8L430.6 208.8" stroke="#d2d2d6" stroke-width="1" fill="none"/><path d="M432.6 208.8L436.6 206.9" stroke="#b8b8bc" stroke-width="1" fill="none"/><path d="M414.6 198.8L430.6 206.8" stroke="#d2d2d6" stroke-width="1" fill="none"/><path d="M432.6 206.8L436.6 204.9" stroke="#b8b8bc" stroke-width="1" fill="none"/><path d="M414.6 196.8L430.6 204.8" stroke="#d2d2d6" stroke-width="1" fill="none"/><path d="M432.6 204.8L436.6 202.9" stroke="#b8b8bc" stroke-width="1" fill="none"/><path d="M414.6 194.8L430.6 202.8" stroke="#d2d2d6" stroke-width="1" fill="none"/><path d="M432.6 202.8L436.6 200.9" stroke="#b8b8bc" stroke-width="1" fill="none"/><path d="M414.6 192.8L430.6 200.8" stroke="#d2d2d6" stroke-width="1" fill="none"/><path d="M432.6 200.8L436.6 198.9" stroke="#b8b8bc" stroke-width="1" fill="none"/><path d="M414.6 190.8L430.6 198.8" stroke="#d2d2d6" stroke-width="1" fill="none"/><path d="M432.6 198.8L436.6 196.9" stroke="#b8b8bc" stroke-width="1" fill="none"/><path d="M414.6 188.8L430.6 196.8" stroke="#d2d2d6" stroke-width="1" fill="none"/><path d="M432.6 196.8L436.6 194.9" stroke="#b8b8bc" stroke-width="1" fill="none"/><path d="M414.6 186.8L430.6 194.8" stroke="#d2d2d6" stroke-width="1" fill="none"/><path d="M432.6 194.8L436.6 192.9" stroke="#b8b8bc" stroke-width="1" fill="none"/><path d="M414.6 184.8L430.6 192.8" stroke="#d2d2d6" stroke-width="1" fill="none"/><path d="M432.6 192.8L436.6 190.9" stroke="#b8b8bc" stroke-width="1" fill="none"/><path d="M414.6 182.8L430.6 190.8" stroke="#d2d2d6" stroke-width="1" fill="none"/><path d="M432.6 190.8L436.6 188.9" stroke="#b8b8bc" stroke-width="1" fill="none"/><polygon points="431.6,190.5 437.6,187.6 419.6,178.6 413.6,181.5" fill="#ffffff"/>
<rect x="442.3" y="227.5" width="1.2" height="4" fill="#9a5b2a"/><ellipse cx="442.9" cy="222.5" rx="5" ry="5.8" fill="#239638"/><ellipse cx="441.9" cy="221" rx="3" ry="3.5" fill="#3aae44"/>
<rect x="680.4" y="228" width="1.2" height="4" fill="#9a5b2a"/><ellipse cx="681" cy="223" rx="5" ry="5.8" fill="#239638"/><ellipse cx="680" cy="221.5" rx="3" ry="3.5" fill="#3aae44"/>
<polygon points="604.8,233.5 597.8,230 597.8,195 604.8,198.5" fill="#dcb8a6"/><polygon points="604.8,233.5 615.6,228.2 615.6,193.2 604.8,198.5" fill="#ecc4b0"/><path d="M598.8 229.3L603.8 231.8" stroke="#c8a08c" stroke-width="1" fill="none"/><path d="M605.8 231.8L614.6 227.5" stroke="#f8e2d6" stroke-width="1" fill="none"/><path d="M598.8 227.2L603.8 229.7" stroke="#c8a08c" stroke-width="1" fill="none"/><path d="M605.8 229.7L614.6 225.4" stroke="#f8e2d6" stroke-width="1" fill="none"/><path d="M598.8 225.1L603.8 227.6" stroke="#c8a08c" stroke-width="1" fill="none"/><path d="M605.8 227.7L614.6 223.4" stroke="#f8e2d6" stroke-width="1" fill="none"/><path d="M598.8 223.1L603.8 225.6" stroke="#c8a08c" stroke-width="1" fill="none"/><path d="M605.8 225.6L614.6 221.3" stroke="#f8e2d6" stroke-width="1" fill="none"/><path d="M598.8 221L603.8 223.5" stroke="#c8a08c" stroke-width="1" fill="none"/><path d="M605.8 223.5L614.6 219.3" stroke="#f8e2d6" stroke-width="1" fill="none"/><path d="M598.8 219L603.8 221.5" stroke="#c8a08c" stroke-width="1" fill="none"/><path d="M605.8 221.5L614.6 217.2" stroke="#f8e2d6" stroke-width="1" fill="none"/><path d="M598.8 216.9L603.8 219.4" stroke="#c8a08c" stroke-width="1" fill="none"/><path d="M605.8 219.4L614.6 215.1" stroke="#f8e2d6" stroke-width="1" fill="none"/><path d="M598.8 214.9L603.8 217.4" stroke="#c8a08c" stroke-width="1" fill="none"/><path d="M605.8 217.4L614.6 213.1" stroke="#f8e2d6" stroke-width="1" fill="none"/><path d="M598.8 212.8L603.8 215.3" stroke="#c8a08c" stroke-width="1" fill="none"/><path d="M605.8 215.3L614.6 211" stroke="#f8e2d6" stroke-width="1" fill="none"/><path d="M598.8 210.7L603.8 213.2" stroke="#c8a08c" stroke-width="1" fill="none"/><path d="M605.8 213.2L614.6 209" stroke="#f8e2d6" stroke-width="1" fill="none"/><path d="M598.8 208.7L603.8 211.2" stroke="#c8a08c" stroke-width="1" fill="none"/><path d="M605.8 211.2L614.6 206.9" stroke="#f8e2d6" stroke-width="1" fill="none"/><path d="M598.8 206.6L603.8 209.1" stroke="#c8a08c" stroke-width="1" fill="none"/><path d="M605.8 209.1L614.6 204.8" stroke="#f8e2d6" stroke-width="1" fill="none"/><path d="M598.8 204.6L603.8 207.1" stroke="#c8a08c" stroke-width="1" fill="none"/><path d="M605.8 207.1L614.6 202.8" stroke="#f8e2d6" stroke-width="1" fill="none"/><path d="M598.8 202.5L603.8 205" stroke="#c8a08c" stroke-width="1" fill="none"/><path d="M605.8 205L614.6 200.7" stroke="#f8e2d6" stroke-width="1" fill="none"/><path d="M598.8 200.4L603.8 202.9" stroke="#c8a08c" stroke-width="1" fill="none"/><path d="M605.8 203L614.6 198.7" stroke="#f8e2d6" stroke-width="1" fill="none"/><path d="M598.8 198.4L603.8 200.9" stroke="#c8a08c" stroke-width="1" fill="none"/><path d="M605.8 200.9L614.6 196.6" stroke="#f8e2d6" stroke-width="1" fill="none"/><path d="M598.8 196.3L603.8 198.8" stroke="#c8a08c" stroke-width="1" fill="none"/><path d="M605.8 198.8L614.6 194.5" stroke="#f8e2d6" stroke-width="1" fill="none"/><polygon points="604.8,198.5 615.6,193.2 608.6,189.7 597.8,195" fill="#fbfbfb"/>
<polygon points="413.6,234.5 395.6,225.5 395.6,189.5 413.6,198.5" fill="#f7f7f7"/><polygon points="413.6,234.5 419.6,231.6 419.6,195.6 413.6,198.5" fill="#e2dcea"/><path d="M396.6 224.8L412.6 232.8" stroke="#d2d2d6" stroke-width="1" fill="none"/><path d="M414.6 232.8L418.6 230.9" stroke="#b8b8bc" stroke-width="1" fill="none"/><path d="M396.6 222.8L412.6 230.8" stroke="#d2d2d6" stroke-width="1" fill="none"/><path d="M414.6 230.8L418.6 228.9" stroke="#b8b8bc" stroke-width="1" fill="none"/><path d="M396.6 220.8L412.6 228.8" stroke="#d2d2d6" stroke-width="1" fill="none"/><path d="M414.6 228.8L418.6 226.9" stroke="#b8b8bc" stroke-width="1" fill="none"/><path d="M396.6 218.8L412.6 226.8" stroke="#d2d2d6" stroke-width="1" fill="none"/><path d="M414.6 226.8L418.6 224.9" stroke="#b8b8bc" stroke-width="1" fill="none"/><path d="M396.6 216.8L412.6 224.8" stroke="#d2d2d6" stroke-width="1" fill="none"/><path d="M414.6 224.8L418.6 222.9" stroke="#b8b8bc" stroke-width="1" fill="none"/><path d="M396.6 214.8L412.6 222.8" stroke="#d2d2d6" stroke-width="1" fill="none"/><path d="M414.6 222.8L418.6 220.9" stroke="#b8b8bc" stroke-width="1" fill="none"/><path d="M396.6 212.8L412.6 220.8" stroke="#d2d2d6" stroke-width="1" fill="none"/><path d="M414.6 220.8L418.6 218.9" stroke="#b8b8bc" stroke-width="1" fill="none"/><path d="M396.6 210.8L412.6 218.8" stroke="#d2d2d6" stroke-width="1" fill="none"/><path d="M414.6 218.8L418.6 216.9" stroke="#b8b8bc" stroke-width="1" fill="none"/><path d="M396.6 208.8L412.6 216.8" stroke="#d2d2d6" stroke-width="1" fill="none"/><path d="M414.6 216.8L418.6 214.9" stroke="#b8b8bc" stroke-width="1" fill="none"/><path d="M396.6 206.8L412.6 214.8" stroke="#d2d2d6" stroke-width="1" fill="none"/><path d="M414.6 214.8L418.6 212.9" stroke="#b8b8bc" stroke-width="1" fill="none"/><path d="M396.6 204.8L412.6 212.8" stroke="#d2d2d6" stroke-width="1" fill="none"/><path d="M414.6 212.8L418.6 210.9" stroke="#b8b8bc" stroke-width="1" fill="none"/><path d="M396.6 202.8L412.6 210.8" stroke="#d2d2d6" stroke-width="1" fill="none"/><path d="M414.6 210.8L418.6 208.9" stroke="#b8b8bc" stroke-width="1" fill="none"/><path d="M396.6 200.8L412.6 208.8" stroke="#d2d2d6" stroke-width="1" fill="none"/><path d="M414.6 208.8L418.6 206.9" stroke="#b8b8bc" stroke-width="1" fill="none"/><path d="M396.6 198.8L412.6 206.8" stroke="#d2d2d6" stroke-width="1" fill="none"/><path d="M414.6 206.8L418.6 204.9" stroke="#b8b8bc" stroke-width="1" fill="none"/><path d="M396.6 196.8L412.6 204.8" stroke="#d2d2d6" stroke-width="1" fill="none"/><path d="M414.6 204.8L418.6 202.9" stroke="#b8b8bc" stroke-width="1" fill="none"/><path d="M396.6 194.8L412.6 202.8" stroke="#d2d2d6" stroke-width="1" fill="none"/><path d="M414.6 202.8L418.6 200.9" stroke="#b8b8bc" stroke-width="1" fill="none"/><path d="M396.6 192.8L412.6 200.8" stroke="#d2d2d6" stroke-width="1" fill="none"/><path d="M414.6 200.8L418.6 198.9" stroke="#b8b8bc" stroke-width="1" fill="none"/><path d="M396.6 190.8L412.6 198.8" stroke="#d2d2d6" stroke-width="1" fill="none"/><path d="M414.6 198.8L418.6 196.9" stroke="#b8b8bc" stroke-width="1" fill="none"/><polygon points="413.6,198.5 419.6,195.6 401.6,186.6 395.6,189.5" fill="#ffffff"/>
<polygon points="635.3,234.6 628.3,231.1 628.3,196.1 635.3,199.6" fill="#dca8d6"/><polygon points="635.3,234.6 646.1,229.3 646.1,194.3 635.3,199.6" fill="#f28aa4"/><path d="M629.3 230.4L634.3 232.9" stroke="#c07ab4" stroke-width="1" fill="none"/><path d="M636.3 232.9L645.1 228.6" stroke="#f8bccb" stroke-width="1" fill="none"/><path d="M629.3 228.3L634.3 230.8" stroke="#c07ab4" stroke-width="1" fill="none"/><path d="M636.3 230.8L645.1 226.5" stroke="#f8bccb" stroke-width="1" fill="none"/><path d="M629.3 226.2L634.3 228.7" stroke="#c07ab4" stroke-width="1" fill="none"/><path d="M636.3 228.8L645.1 224.5" stroke="#f8bccb" stroke-width="1" fill="none"/><path d="M629.3 224.2L634.3 226.7" stroke="#c07ab4" stroke-width="1" fill="none"/><path d="M636.3 226.7L645.1 222.4" stroke="#f8bccb" stroke-width="1" fill="none"/><path d="M629.3 222.1L634.3 224.6" stroke="#c07ab4" stroke-width="1" fill="none"/><path d="M636.3 224.6L645.1 220.4" stroke="#f8bccb" stroke-width="1" fill="none"/><path d="M629.3 220.1L634.3 222.6" stroke="#c07ab4" stroke-width="1" fill="none"/><path d="M636.3 222.6L645.1 218.3" stroke="#f8bccb" stroke-width="1" fill="none"/><path d="M629.3 218L634.3 220.5" stroke="#c07ab4" stroke-width="1" fill="none"/><path d="M636.3 220.5L645.1 216.2" stroke="#f8bccb" stroke-width="1" fill="none"/><path d="M629.3 216L634.3 218.5" stroke="#c07ab4" stroke-width="1" fill="none"/><path d="M636.3 218.5L645.1 214.2" stroke="#f8bccb" stroke-width="1" fill="none"/><path d="M629.3 213.9L634.3 216.4" stroke="#c07ab4" stroke-width="1" fill="none"/><path d="M636.3 216.4L645.1 212.1" stroke="#f8bccb" stroke-width="1" fill="none"/><path d="M629.3 211.8L634.3 214.3" stroke="#c07ab4" stroke-width="1" fill="none"/><path d="M636.3 214.3L645.1 210.1" stroke="#f8bccb" stroke-width="1" fill="none"/><path d="M629.3 209.8L634.3 212.3" stroke="#c07ab4" stroke-width="1" fill="none"/><path d="M636.3 212.3L645.1 208" stroke="#f8bccb" stroke-width="1" fill="none"/><path d="M629.3 207.7L634.3 210.2" stroke="#c07ab4" stroke-width="1" fill="none"/><path d="M636.3 210.2L645.1 205.9" stroke="#f8bccb" stroke-width="1" fill="none"/><path d="M629.3 205.7L634.3 208.2" stroke="#c07ab4" stroke-width="1" fill="none"/><path d="M636.3 208.2L645.1 203.9" stroke="#f8bccb" stroke-width="1" fill="none"/><path d="M629.3 203.6L634.3 206.1" stroke="#c07ab4" stroke-width="1" fill="none"/><path d="M636.3 206.1L645.1 201.8" stroke="#f8bccb" stroke-width="1" fill="none"/><path d="M629.3 201.5L634.3 204" stroke="#c07ab4" stroke-width="1" fill="none"/><path d="M636.3 204.1L645.1 199.8" stroke="#f8bccb" stroke-width="1" fill="none"/><path d="M629.3 199.5L634.3 202" stroke="#c07ab4" stroke-width="1" fill="none"/><path d="M636.3 202L645.1 197.7" stroke="#f8bccb" stroke-width="1" fill="none"/><path d="M629.3 197.4L634.3 199.9" stroke="#c07ab4" stroke-width="1" fill="none"/><path d="M636.3 199.9L645.1 195.6" stroke="#f8bccb" stroke-width="1" fill="none"/><polygon points="635.3,199.6 646.1,194.3 639.1,190.8 628.3,196.1" fill="#fbfbfb"/>
<rect x="429.9" y="235.6" width="0.7" height="2.4" fill="#9a5b2a"/><ellipse cx="430.3" cy="232.6" rx="3" ry="3.4" fill="#239638"/><ellipse cx="429.7" cy="231.7" rx="1.8" ry="2.1" fill="#3aae44"/>
<rect x="673.4" y="235" width="1.2" height="4" fill="#9a5b2a"/><ellipse cx="674" cy="230" rx="5" ry="5.8" fill="#239638"/><ellipse cx="673" cy="228.5" rx="3" ry="3.5" fill="#3aae44"/>
<polygon points="490.1,241.1 471.4,231.8 471.4,208.3 490.1,217.7" fill="#f4f4f4"/><polygon points="490.1,241.1 509.3,231.7 509.3,208.3 490.1,217.7" fill="#8f8f8f"/><polygon points="490.1,217.7 509.3,208.3 490.6,199 471.4,208.3" fill="#f2f2f2"/>
<polygon points="473.5,214 486,220.2 486,233 473.5,226.8" fill="#3a7fd8"/><polygon points="492,226 496,224 496,236 492,238" fill="#3a7fd8"/><polygon points="503,214 509.3,211 509.3,231.5 503,234.5" fill="#f4f4f4"/>
<polygon points="591.9,241.7 584.9,238.2 584.9,203.2 591.9,206.7" fill="#dca8d6"/><polygon points="591.9,241.7 602.7,236.4 602.7,201.4 591.9,206.7" fill="#f28aa4"/><path d="M585.9 237.5L590.9 240" stroke="#c07ab4" stroke-width="1" fill="none"/><path d="M592.9 240L601.7 235.7" stroke="#f8bccb" stroke-width="1" fill="none"/><path d="M585.9 235.4L590.9 237.9" stroke="#c07ab4" stroke-width="1" fill="none"/><path d="M592.9 237.9L601.7 233.6" stroke="#f8bccb" stroke-width="1" fill="none"/><path d="M585.9 233.3L590.9 235.8" stroke="#c07ab4" stroke-width="1" fill="none"/><path d="M592.9 235.9L601.7 231.6" stroke="#f8bccb" stroke-width="1" fill="none"/><path d="M585.9 231.3L590.9 233.8" stroke="#c07ab4" stroke-width="1" fill="none"/><path d="M592.9 233.8L601.7 229.5" stroke="#f8bccb" stroke-width="1" fill="none"/><path d="M585.9 229.2L590.9 231.7" stroke="#c07ab4" stroke-width="1" fill="none"/><path d="M592.9 231.7L601.7 227.5" stroke="#f8bccb" stroke-width="1" fill="none"/><path d="M585.9 227.2L590.9 229.7" stroke="#c07ab4" stroke-width="1" fill="none"/><path d="M592.9 229.7L601.7 225.4" stroke="#f8bccb" stroke-width="1" fill="none"/><path d="M585.9 225.1L590.9 227.6" stroke="#c07ab4" stroke-width="1" fill="none"/><path d="M592.9 227.6L601.7 223.3" stroke="#f8bccb" stroke-width="1" fill="none"/><path d="M585.9 223.1L590.9 225.6" stroke="#c07ab4" stroke-width="1" fill="none"/><path d="M592.9 225.6L601.7 221.3" stroke="#f8bccb" stroke-width="1" fill="none"/><path d="M585.9 221L590.9 223.5" stroke="#c07ab4" stroke-width="1" fill="none"/><path d="M592.9 223.5L601.7 219.2" stroke="#f8bccb" stroke-width="1" fill="none"/><path d="M585.9 218.9L590.9 221.4" stroke="#c07ab4" stroke-width="1" fill="none"/><path d="M592.9 221.4L601.7 217.2" stroke="#f8bccb" stroke-width="1" fill="none"/><path d="M585.9 216.9L590.9 219.4" stroke="#c07ab4" stroke-width="1" fill="none"/><path d="M592.9 219.4L601.7 215.1" stroke="#f8bccb" stroke-width="1" fill="none"/><path d="M585.9 214.8L590.9 217.3" stroke="#c07ab4" stroke-width="1" fill="none"/><path d="M592.9 217.3L601.7 213" stroke="#f8bccb" stroke-width="1" fill="none"/><path d="M585.9 212.8L590.9 215.3" stroke="#c07ab4" stroke-width="1" fill="none"/><path d="M592.9 215.3L601.7 211" stroke="#f8bccb" stroke-width="1" fill="none"/><path d="M585.9 210.7L590.9 213.2" stroke="#c07ab4" stroke-width="1" fill="none"/><path d="M592.9 213.2L601.7 208.9" stroke="#f8bccb" stroke-width="1" fill="none"/><path d="M585.9 208.6L590.9 211.1" stroke="#c07ab4" stroke-width="1" fill="none"/><path d="M592.9 211.2L601.7 206.9" stroke="#f8bccb" stroke-width="1" fill="none"/><path d="M585.9 206.6L590.9 209.1" stroke="#c07ab4" stroke-width="1" fill="none"/><path d="M592.9 209.1L601.7 204.8" stroke="#f8bccb" stroke-width="1" fill="none"/><path d="M585.9 204.5L590.9 207" stroke="#c07ab4" stroke-width="1" fill="none"/><path d="M592.9 207L601.7 202.7" stroke="#f8bccb" stroke-width="1" fill="none"/><polygon points="591.9,206.7 602.7,201.4 595.7,197.9 584.9,203.2" fill="#fbfbfb"/>
<polygon points="622.4,242.8 615.4,239.3 615.4,204.3 622.4,207.8" fill="#dcb8a6"/><polygon points="622.4,242.8 633.2,237.5 633.2,202.5 622.4,207.8" fill="#ecc4b0"/><path d="M616.4 238.6L621.4 241.1" stroke="#c8a08c" stroke-width="1" fill="none"/><path d="M623.4 241.1L632.2 236.8" stroke="#f8e2d6" stroke-width="1" fill="none"/><path d="M616.4 236.5L621.4 239" stroke="#c8a08c" stroke-width="1" fill="none"/><path d="M623.4 239L632.2 234.7" stroke="#f8e2d6" stroke-width="1" fill="none"/><path d="M616.4 234.4L621.4 236.9" stroke="#c8a08c" stroke-width="1" fill="none"/><path d="M623.4 237L632.2 232.7" stroke="#f8e2d6" stroke-width="1" fill="none"/><path d="M616.4 232.4L621.4 234.9" stroke="#c8a08c" stroke-width="1" fill="none"/><path d="M623.4 234.9L632.2 230.6" stroke="#f8e2d6" stroke-width="1" fill="none"/><path d="M616.4 230.3L621.4 232.8" stroke="#c8a08c" stroke-width="1" fill="none"/><path d="M623.4 232.8L632.2 228.6" stroke="#f8e2d6" stroke-width="1" fill="none"/><path d="M616.4 228.3L621.4 230.8" stroke="#c8a08c" stroke-width="1" fill="none"/><path d="M623.4 230.8L632.2 226.5" stroke="#f8e2d6" stroke-width="1" fill="none"/><path d="M616.4 226.2L621.4 228.7" stroke="#c8a08c" stroke-width="1" fill="none"/><path d="M623.4 228.7L632.2 224.4" stroke="#f8e2d6" stroke-width="1" fill="none"/><path d="M616.4 224.2L621.4 226.7" stroke="#c8a08c" stroke-width="1" fill="none"/><path d="M623.4 226.7L632.2 222.4" stroke="#f8e2d6" stroke-width="1" fill="none"/><path d="M616.4 222.1L621.4 224.6" stroke="#c8a08c" stroke-width="1" fill="none"/><path d="M623.4 224.6L632.2 220.3" stroke="#f8e2d6" stroke-width="1" fill="none"/><path d="M616.4 220L621.4 222.5" stroke="#c8a08c" stroke-width="1" fill="none"/><path d="M623.4 222.5L632.2 218.3" stroke="#f8e2d6" stroke-width="1" fill="none"/><path d="M616.4 218L621.4 220.5" stroke="#c8a08c" stroke-width="1" fill="none"/><path d="M623.4 220.5L632.2 216.2" stroke="#f8e2d6" stroke-width="1" fill="none"/><path d="M616.4 215.9L621.4 218.4" stroke="#c8a08c" stroke-width="1" fill="none"/><path d="M623.4 218.4L632.2 214.1" stroke="#f8e2d6" stroke-width="1" fill="none"/><path d="M616.4 213.9L621.4 216.4" stroke="#c8a08c" stroke-width="1" fill="none"/><path d="M623.4 216.4L632.2 212.1" stroke="#f8e2d6" stroke-width="1" fill="none"/><path d="M616.4 211.8L621.4 214.3" stroke="#c8a08c" stroke-width="1" fill="none"/><path d="M623.4 214.3L632.2 210" stroke="#f8e2d6" stroke-width="1" fill="none"/><path d="M616.4 209.7L621.4 212.2" stroke="#c8a08c" stroke-width="1" fill="none"/><path d="M623.4 212.3L632.2 208" stroke="#f8e2d6" stroke-width="1" fill="none"/><path d="M616.4 207.7L621.4 210.2" stroke="#c8a08c" stroke-width="1" fill="none"/><path d="M623.4 210.2L632.2 205.9" stroke="#f8e2d6" stroke-width="1" fill="none"/><path d="M616.4 205.6L621.4 208.1" stroke="#c8a08c" stroke-width="1" fill="none"/><path d="M623.4 208.1L632.2 203.8" stroke="#f8e2d6" stroke-width="1" fill="none"/><polygon points="622.4,207.8 633.2,202.5 626.2,199 615.4,204.3" fill="#fbfbfb"/>
<polygon points="559,243.5 553,240.5 553,239.3 559,242.3" fill="#c9c9c9"/><polygon points="559,243.5 576,235.2 576,234 559,242.3" fill="#b5b5b5"/><polygon points="559,242.3 576,234 570,231 553,239.3" fill="#e3e3e3"/><ellipse cx="556.5" cy="240.2" rx="2.6" ry="1.5" fill="#1f8a2e"/><ellipse cx="572" cy="235.3" rx="2.6" ry="1.5" fill="#1f8a2e"/><polygon points="563.5,240.1 558.5,237.6 558.5,231.6 563.5,234.1" fill="#9fd6ea"/><polygon points="563.5,240.1 570,236.9 570,230.9 563.5,234.1" fill="#6fb7d6"/><polygon points="563.5,234.1 570,230.9 565,228.4 558.5,231.6" fill="#fff"/><polygon points="563.5,234.5 556.5,231 556.5,229.4 563.5,232.9" fill="#f39a1e"/><polygon points="563.5,234.5 572,230.4 572,228.8 563.5,232.9" fill="#e0801a"/><polygon points="563.5,232.9 572,228.8 565,225.3 556.5,229.4" fill="#fbd23c"/>
<polygon points="654.1,244 647.1,240.5 647.1,205.5 654.1,209" fill="#dca8d6"/><polygon points="654.1,244 664.9,238.7 664.9,203.7 654.1,209" fill="#f28aa4"/><path d="M648.1 239.8L653.1 242.3" stroke="#c07ab4" stroke-width="1" fill="none"/><path d="M655.1 242.3L663.9 238" stroke="#f8bccb" stroke-width="1" fill="none"/><path d="M648.1 237.7L653.1 240.2" stroke="#c07ab4" stroke-width="1" fill="none"/><path d="M655.1 240.2L663.9 235.9" stroke="#f8bccb" stroke-width="1" fill="none"/><path d="M648.1 235.6L653.1 238.1" stroke="#c07ab4" stroke-width="1" fill="none"/><path d="M655.1 238.2L663.9 233.9" stroke="#f8bccb" stroke-width="1" fill="none"/><path d="M648.1 233.6L653.1 236.1" stroke="#c07ab4" stroke-width="1" fill="none"/><path d="M655.1 236.1L663.9 231.8" stroke="#f8bccb" stroke-width="1" fill="none"/><path d="M648.1 231.5L653.1 234" stroke="#c07ab4" stroke-width="1" fill="none"/><path d="M655.1 234L663.9 229.8" stroke="#f8bccb" stroke-width="1" fill="none"/><path d="M648.1 229.5L653.1 232" stroke="#c07ab4" stroke-width="1" fill="none"/><path d="M655.1 232L663.9 227.7" stroke="#f8bccb" stroke-width="1" fill="none"/><path d="M648.1 227.4L653.1 229.9" stroke="#c07ab4" stroke-width="1" fill="none"/><path d="M655.1 229.9L663.9 225.6" stroke="#f8bccb" stroke-width="1" fill="none"/><path d="M648.1 225.4L653.1 227.9" stroke="#c07ab4" stroke-width="1" fill="none"/><path d="M655.1 227.9L663.9 223.6" stroke="#f8bccb" stroke-width="1" fill="none"/><path d="M648.1 223.3L653.1 225.8" stroke="#c07ab4" stroke-width="1" fill="none"/><path d="M655.1 225.8L663.9 221.5" stroke="#f8bccb" stroke-width="1" fill="none"/><path d="M648.1 221.2L653.1 223.7" stroke="#c07ab4" stroke-width="1" fill="none"/><path d="M655.1 223.7L663.9 219.5" stroke="#f8bccb" stroke-width="1" fill="none"/><path d="M648.1 219.2L653.1 221.7" stroke="#c07ab4" stroke-width="1" fill="none"/><path d="M655.1 221.7L663.9 217.4" stroke="#f8bccb" stroke-width="1" fill="none"/><path d="M648.1 217.1L653.1 219.6" stroke="#c07ab4" stroke-width="1" fill="none"/><path d="M655.1 219.6L663.9 215.3" stroke="#f8bccb" stroke-width="1" fill="none"/><path d="M648.1 215.1L653.1 217.6" stroke="#c07ab4" stroke-width="1" fill="none"/><path d="M655.1 217.6L663.9 213.3" stroke="#f8bccb" stroke-width="1" fill="none"/><path d="M648.1 213L653.1 215.5" stroke="#c07ab4" stroke-width="1" fill="none"/><path d="M655.1 215.5L663.9 211.2" stroke="#f8bccb" stroke-width="1" fill="none"/><path d="M648.1 210.9L653.1 213.4" stroke="#c07ab4" stroke-width="1" fill="none"/><path d="M655.1 213.5L663.9 209.2" stroke="#f8bccb" stroke-width="1" fill="none"/><path d="M648.1 208.9L653.1 211.4" stroke="#c07ab4" stroke-width="1" fill="none"/><path d="M655.1 211.4L663.9 207.1" stroke="#f8bccb" stroke-width="1" fill="none"/><path d="M648.1 206.8L653.1 209.3" stroke="#c07ab4" stroke-width="1" fill="none"/><path d="M655.1 209.3L663.9 205" stroke="#f8bccb" stroke-width="1" fill="none"/><polygon points="654.1,209 664.9,203.7 657.9,200.2 647.1,205.5" fill="#fbfbfb"/>
<polygon points="344,248 340,246 340,243 344,245" fill="#2a5fc8"/><polygon points="344,248 351.5,244.3 351.5,241.3 344,245" fill="#204a9c"/><polygon points="344,245 351.5,241.3 347.5,239.3 340,243" fill="#5f87d5"/><polygon points="344.6,244.8 341.2,243.1 341.2,240.9 344.6,242.6" fill="#e8f2fa"/><polygon points="344.6,244.8 349.1,242.6 349.1,240.4 344.6,242.6" fill="#c4d8ea"/><polygon points="344.6,242.6 349.1,240.4 345.7,238.7 341.2,240.9" fill="#ffffff"/>
<path d="M421 241Q430 234.5 439 250" stroke="#8fbfe2" stroke-width="4.2" fill="none" stroke-linecap="round"/><path d="M421 241Q430 234.5 439 250" stroke="#dcedf8" stroke-width="1.8" fill="none" stroke-linecap="round" transform="translate(0,-0.8)"/>
<polygon points="609.5,251 602.5,247.5 602.5,212.5 609.5,216" fill="#dca8d6"/><polygon points="609.5,251 620.3,245.7 620.3,210.7 609.5,216" fill="#f28aa4"/><path d="M603.5 246.8L608.5 249.3" stroke="#c07ab4" stroke-width="1" fill="none"/><path d="M610.5 249.3L619.3 245" stroke="#f8bccb" stroke-width="1" fill="none"/><path d="M603.5 244.7L608.5 247.2" stroke="#c07ab4" stroke-width="1" fill="none"/><path d="M610.5 247.2L619.3 242.9" stroke="#f8bccb" stroke-width="1" fill="none"/><path d="M603.5 242.6L608.5 245.1" stroke="#c07ab4" stroke-width="1" fill="none"/><path d="M610.5 245.2L619.3 240.9" stroke="#f8bccb" stroke-width="1" fill="none"/><path d="M603.5 240.6L608.5 243.1" stroke="#c07ab4" stroke-width="1" fill="none"/><path d="M610.5 243.1L619.3 238.8" stroke="#f8bccb" stroke-width="1" fill="none"/><path d="M603.5 238.5L608.5 241" stroke="#c07ab4" stroke-width="1" fill="none"/><path d="M610.5 241L619.3 236.8" stroke="#f8bccb" stroke-width="1" fill="none"/><path d="M603.5 236.5L608.5 239" stroke="#c07ab4" stroke-width="1" fill="none"/><path d="M610.5 239L619.3 234.7" stroke="#f8bccb" stroke-width="1" fill="none"/><path d="M603.5 234.4L608.5 236.9" stroke="#c07ab4" stroke-width="1" fill="none"/><path d="M610.5 236.9L619.3 232.6" stroke="#f8bccb" stroke-width="1" fill="none"/><path d="M603.5 232.4L608.5 234.9" stroke="#c07ab4" stroke-width="1" fill="none"/><path d="M610.5 234.9L619.3 230.6" stroke="#f8bccb" stroke-width="1" fill="none"/><path d="M603.5 230.3L608.5 232.8" stroke="#c07ab4" stroke-width="1" fill="none"/><path d="M610.5 232.8L619.3 228.5" stroke="#f8bccb" stroke-width="1" fill="none"/><path d="M603.5 228.2L608.5 230.7" stroke="#c07ab4" stroke-width="1" fill="none"/><path d="M610.5 230.7L619.3 226.5" stroke="#f8bccb" stroke-width="1" fill="none"/><path d="M603.5 226.2L608.5 228.7" stroke="#c07ab4" stroke-width="1" fill="none"/><path d="M610.5 228.7L619.3 224.4" stroke="#f8bccb" stroke-width="1" fill="none"/><path d="M603.5 224.1L608.5 226.6" stroke="#c07ab4" stroke-width="1" fill="none"/><path d="M610.5 226.6L619.3 222.3" stroke="#f8bccb" stroke-width="1" fill="none"/><path d="M603.5 222.1L608.5 224.6" stroke="#c07ab4" stroke-width="1" fill="none"/><path d="M610.5 224.6L619.3 220.3" stroke="#f8bccb" stroke-width="1" fill="none"/><path d="M603.5 220L608.5 222.5" stroke="#c07ab4" stroke-width="1" fill="none"/><path d="M610.5 222.5L619.3 218.2" stroke="#f8bccb" stroke-width="1" fill="none"/><path d="M603.5 217.9L608.5 220.4" stroke="#c07ab4" stroke-width="1" fill="none"/><path d="M610.5 220.5L619.3 216.2" stroke="#f8bccb" stroke-width="1" fill="none"/><path d="M603.5 215.9L608.5 218.4" stroke="#c07ab4" stroke-width="1" fill="none"/><path d="M610.5 218.4L619.3 214.1" stroke="#f8bccb" stroke-width="1" fill="none"/><path d="M603.5 213.8L608.5 216.3" stroke="#c07ab4" stroke-width="1" fill="none"/><path d="M610.5 216.3L619.3 212" stroke="#f8bccb" stroke-width="1" fill="none"/><polygon points="609.5,216 620.3,210.7 613.3,207.2 602.5,212.5" fill="#fbfbfb"/>
<polygon points="641.2,252.2 634.2,248.7 634.2,213.7 641.2,217.2" fill="#dcb8a6"/><polygon points="641.2,252.2 652,246.9 652,211.9 641.2,217.2" fill="#ecc4b0"/><path d="M635.2 248L640.2 250.5" stroke="#c8a08c" stroke-width="1" fill="none"/><path d="M642.2 250.5L651 246.2" stroke="#f8e2d6" stroke-width="1" fill="none"/><path d="M635.2 245.9L640.2 248.4" stroke="#c8a08c" stroke-width="1" fill="none"/><path d="M642.2 248.4L651 244.1" stroke="#f8e2d6" stroke-width="1" fill="none"/><path d="M635.2 243.8L640.2 246.3" stroke="#c8a08c" stroke-width="1" fill="none"/><path d="M642.2 246.4L651 242.1" stroke="#f8e2d6" stroke-width="1" fill="none"/><path d="M635.2 241.8L640.2 244.3" stroke="#c8a08c" stroke-width="1" fill="none"/><path d="M642.2 244.3L651 240" stroke="#f8e2d6" stroke-width="1" fill="none"/><path d="M635.2 239.7L640.2 242.2" stroke="#c8a08c" stroke-width="1" fill="none"/><path d="M642.2 242.2L651 238" stroke="#f8e2d6" stroke-width="1" fill="none"/><path d="M635.2 237.7L640.2 240.2" stroke="#c8a08c" stroke-width="1" fill="none"/><path d="M642.2 240.2L651 235.9" stroke="#f8e2d6" stroke-width="1" fill="none"/><path d="M635.2 235.6L640.2 238.1" stroke="#c8a08c" stroke-width="1" fill="none"/><path d="M642.2 238.1L651 233.8" stroke="#f8e2d6" stroke-width="1" fill="none"/><path d="M635.2 233.6L640.2 236.1" stroke="#c8a08c" stroke-width="1" fill="none"/><path d="M642.2 236.1L651 231.8" stroke="#f8e2d6" stroke-width="1" fill="none"/><path d="M635.2 231.5L640.2 234" stroke="#c8a08c" stroke-width="1" fill="none"/><path d="M642.2 234L651 229.7" stroke="#f8e2d6" stroke-width="1" fill="none"/><path d="M635.2 229.4L640.2 231.9" stroke="#c8a08c" stroke-width="1" fill="none"/><path d="M642.2 231.9L651 227.7" stroke="#f8e2d6" stroke-width="1" fill="none"/><path d="M635.2 227.4L640.2 229.9" stroke="#c8a08c" stroke-width="1" fill="none"/><path d="M642.2 229.9L651 225.6" stroke="#f8e2d6" stroke-width="1" fill="none"/><path d="M635.2 225.3L640.2 227.8" stroke="#c8a08c" stroke-width="1" fill="none"/><path d="M642.2 227.8L651 223.5" stroke="#f8e2d6" stroke-width="1" fill="none"/><path d="M635.2 223.3L640.2 225.8" stroke="#c8a08c" stroke-width="1" fill="none"/><path d="M642.2 225.8L651 221.5" stroke="#f8e2d6" stroke-width="1" fill="none"/><path d="M635.2 221.2L640.2 223.7" stroke="#c8a08c" stroke-width="1" fill="none"/><path d="M642.2 223.7L651 219.4" stroke="#f8e2d6" stroke-width="1" fill="none"/><path d="M635.2 219.1L640.2 221.6" stroke="#c8a08c" stroke-width="1" fill="none"/><path d="M642.2 221.7L651 217.4" stroke="#f8e2d6" stroke-width="1" fill="none"/><path d="M635.2 217.1L640.2 219.6" stroke="#c8a08c" stroke-width="1" fill="none"/><path d="M642.2 219.6L651 215.3" stroke="#f8e2d6" stroke-width="1" fill="none"/><path d="M635.2 215L640.2 217.5" stroke="#c8a08c" stroke-width="1" fill="none"/><path d="M642.2 217.5L651 213.2" stroke="#f8e2d6" stroke-width="1" fill="none"/><polygon points="641.2,217.2 652,211.9 645,208.4 634.2,213.7" fill="#fbfbfb"/>
<rect x="513.8" y="251.5" width="1.2" height="4" fill="#9a5b2a"/><ellipse cx="514.4" cy="246.5" rx="5" ry="5.8" fill="#239638"/><ellipse cx="513.4" cy="245" rx="3" ry="3.5" fill="#3aae44"/>
<rect x="325.4" y="249.2" width="11.6" height="6.6" fill="#f9b21a" stroke="#999" stroke-width="0.6"/><rect x="327" y="250.4" width="8.4" height="4" fill="#fbd84a"/><rect x="327" y="256" width="0.8" height="3" fill="#888"/><rect x="335" y="256" width="0.8" height="3" fill="#888"/>
<polygon points="628.3,260.4 621.3,256.9 621.3,221.9 628.3,225.4" fill="#dca8d6"/><polygon points="628.3,260.4 639.1,255.1 639.1,220.1 628.3,225.4" fill="#f28aa4"/><path d="M622.3 256.2L627.3 258.7" stroke="#c07ab4" stroke-width="1" fill="none"/><path d="M629.3 258.7L638.1 254.4" stroke="#f8bccb" stroke-width="1" fill="none"/><path d="M622.3 254.1L627.3 256.6" stroke="#c07ab4" stroke-width="1" fill="none"/><path d="M629.3 256.6L638.1 252.3" stroke="#f8bccb" stroke-width="1" fill="none"/><path d="M622.3 252L627.3 254.5" stroke="#c07ab4" stroke-width="1" fill="none"/><path d="M629.3 254.6L638.1 250.3" stroke="#f8bccb" stroke-width="1" fill="none"/><path d="M622.3 250L627.3 252.5" stroke="#c07ab4" stroke-width="1" fill="none"/><path d="M629.3 252.5L638.1 248.2" stroke="#f8bccb" stroke-width="1" fill="none"/><path d="M622.3 247.9L627.3 250.4" stroke="#c07ab4" stroke-width="1" fill="none"/><path d="M629.3 250.4L638.1 246.2" stroke="#f8bccb" stroke-width="1" fill="none"/><path d="M622.3 245.9L627.3 248.4" stroke="#c07ab4" stroke-width="1" fill="none"/><path d="M629.3 248.4L638.1 244.1" stroke="#f8bccb" stroke-width="1" fill="none"/><path d="M622.3 243.8L627.3 246.3" stroke="#c07ab4" stroke-width="1" fill="none"/><path d="M629.3 246.3L638.1 242" stroke="#f8bccb" stroke-width="1" fill="none"/><path d="M622.3 241.8L627.3 244.3" stroke="#c07ab4" stroke-width="1" fill="none"/><path d="M629.3 244.3L638.1 240" stroke="#f8bccb" stroke-width="1" fill="none"/><path d="M622.3 239.7L627.3 242.2" stroke="#c07ab4" stroke-width="1" fill="none"/><path d="M629.3 242.2L638.1 237.9" stroke="#f8bccb" stroke-width="1" fill="none"/><path d="M622.3 237.6L627.3 240.1" stroke="#c07ab4" stroke-width="1" fill="none"/><path d="M629.3 240.1L638.1 235.9" stroke="#f8bccb" stroke-width="1" fill="none"/><path d="M622.3 235.6L627.3 238.1" stroke="#c07ab4" stroke-width="1" fill="none"/><path d="M629.3 238.1L638.1 233.8" stroke="#f8bccb" stroke-width="1" fill="none"/><path d="M622.3 233.5L627.3 236" stroke="#c07ab4" stroke-width="1" fill="none"/><path d="M629.3 236L638.1 231.7" stroke="#f8bccb" stroke-width="1" fill="none"/><path d="M622.3 231.5L627.3 234" stroke="#c07ab4" stroke-width="1" fill="none"/><path d="M629.3 234L638.1 229.7" stroke="#f8bccb" stroke-width="1" fill="none"/><path d="M622.3 229.4L627.3 231.9" stroke="#c07ab4" stroke-width="1" fill="none"/><path d="M629.3 231.9L638.1 227.6" stroke="#f8bccb" stroke-width="1" fill="none"/><path d="M622.3 227.3L627.3 229.8" stroke="#c07ab4" stroke-width="1" fill="none"/><path d="M629.3 229.9L638.1 225.6" stroke="#f8bccb" stroke-width="1" fill="none"/><path d="M622.3 225.3L627.3 227.8" stroke="#c07ab4" stroke-width="1" fill="none"/><path d="M629.3 227.8L638.1 223.5" stroke="#f8bccb" stroke-width="1" fill="none"/><path d="M622.3 223.2L627.3 225.7" stroke="#c07ab4" stroke-width="1" fill="none"/><path d="M629.3 225.7L638.1 221.4" stroke="#f8bccb" stroke-width="1" fill="none"/><polygon points="628.3,225.4 639.1,220.1 632.1,216.6 621.3,221.9" fill="#fbfbfb"/>
<polygon points="378.4,261 360,251.8 360,240.1 378.4,249.3" fill="#f4f4f4"/><polygon points="378.4,261 388.4,256.1 388.4,244.4 378.4,249.3" fill="#c0c0c0"/><polygon points="378.4,249.3 388.4,244.4 370,235.2 360,240.1" fill="#e2e2e2"/>
<polygon points="362,243.5 376,250.5 376,256 362,249" fill="#ffffff"/><text transform="translate(363,248.6) skewY(26.5)" font-size="4.6" fill="#d9263a" font-family="Liberation Sans" font-weight="bold">MART</text>
<polygon points="450.5,260 453.5,260 452,252.9" fill="#2a9d3a"/><rect x="451.5" y="260" width="1" height="2" fill="#9a5b2a"/>
<rect x="589.7" y="260.2" width="0.5" height="1.8" fill="#9a5b2a"/><ellipse cx="590" cy="257.9" rx="2.2" ry="2.6" fill="#239638"/><ellipse cx="589.5" cy="257.3" rx="1.3" ry="1.6" fill="#3aae44"/>
<rect x="575.7" y="260.2" width="0.5" height="1.8" fill="#9a5b2a"/><ellipse cx="576" cy="257.9" rx="2.2" ry="2.6" fill="#239638"/><ellipse cx="575.5" cy="257.3" rx="1.3" ry="1.6" fill="#3aae44"/>
<polygon points="457.8,262.1 446.9,256.7 446.9,241.3 457.8,246.7" fill="#f5b0d0"/><polygon points="457.8,262.1 476.2,253.1 476.2,237.7 457.8,246.7" fill="#f6cf6a"/><polygon points="457.8,246.7 476.2,237.7 465.3,232.3 446.9,241.3" fill="#f9e6ee"/>
<polygon points="449,246.5 454.5,249.2 454.5,252.2 449,249.5" fill="#5f9ae0"/><polygon points="449,252 454.5,254.7 454.5,257.7 449,255" fill="#5f9ae0"/><polygon points="466,254 471,251.6 471,258.6 466,261" fill="#cfeaf6"/>
<circle cx="464" cy="237" r="3.3" fill="#f5c21a"/><circle cx="463.3" cy="236.2" r="1.5" fill="#fbe06a"/>
<text transform="translate(459.8,251.3) skewY(-26)" font-size="4.4" fill="#fff" font-family="Liberation Sans" font-weight="bold">BANK</text>
<rect x="361.9" y="258.5" width="1.2" height="4" fill="#9a5b2a"/><ellipse cx="362.5" cy="253.5" rx="5" ry="5.8" fill="#239638"/><ellipse cx="361.5" cy="252" rx="3" ry="3.5" fill="#3aae44"/>
<polygon points="640.6,262.7 636.6,260.7 636.6,257.7 640.6,259.7" fill="#2a5fc8"/><polygon points="640.6,262.7 648.1,259 648.1,256 640.6,259.7" fill="#204a9c"/><polygon points="640.6,259.7 648.1,256 644.1,254 636.6,257.7" fill="#5f87d5"/><polygon points="641.2,259.5 637.8,257.8 637.8,255.6 641.2,257.3" fill="#e8f2fa"/><polygon points="641.2,259.5 645.7,257.3 645.7,255.1 641.2,257.3" fill="#c4d8ea"/><polygon points="641.2,257.3 645.7,255.1 642.3,253.4 637.8,255.6" fill="#ffffff"/>
<polygon points="536.1,262.8 520.2,254.9 520.2,237.3 536.1,245.2" fill="#6fc8b8"/><polygon points="536.1,262.8 550.3,255.9 550.3,238.3 536.1,245.2" fill="#4aa89a"/><path d="M521.2 251.8L535.1 258.8" stroke="#e6f6f2" stroke-width="2.9" fill="none"/><path d="M537.1 258.8L549.3 252.8" stroke="#cad8d4" stroke-width="2.9" fill="none"/><path d="M521.2 246L535.1 252.9" stroke="#e6f6f2" stroke-width="2.9" fill="none"/><path d="M537.1 252.9L549.3 247" stroke="#cad8d4" stroke-width="2.9" fill="none"/><path d="M521.2 240.1L535.1 247" stroke="#e6f6f2" stroke-width="2.9" fill="none"/><path d="M537.1 247.1L549.3 241.1" stroke="#cad8d4" stroke-width="2.9" fill="none"/><polygon points="536.1,245.2 550.3,238.3 534.4,230.3 520.2,237.3" fill="#a8d8f0"/>
<polygon points="525,247 518.5,243.8 518.5,233.8 525,237" fill="#6fc8b8"/><polygon points="525,247 532,243.6 532,233.6 525,237" fill="#4aa89a"/><polygon points="525,237 532,233.6 525.5,230.3 518.5,233.8" fill="#8fdad0"/>
<rect x="371.9" y="263" width="1.2" height="4" fill="#9a5b2a"/><ellipse cx="372.5" cy="258" rx="5" ry="5.8" fill="#239638"/><ellipse cx="371.5" cy="256.5" rx="3" ry="3.5" fill="#3aae44"/>
<rect x="596.7" y="266.2" width="0.5" height="1.8" fill="#9a5b2a"/><ellipse cx="597" cy="263.9" rx="2.2" ry="2.6" fill="#239638"/><ellipse cx="596.5" cy="263.3" rx="1.3" ry="1.6" fill="#3aae44"/>
<polygon points="352,269 338,262 338,257.5 352,264.5" fill="#f7c31a"/><polygon points="352,269 356.5,266.8 356.5,262.3 352,264.5" fill="#d9ab16"/><path d="M339 259.8L351 265.8" stroke="#6ab0e6" stroke-width="2.2" fill="none"/><path d="M353 265.8L355.5 264.6" stroke="#5a9cd6" stroke-width="2.2" fill="none"/><polygon points="352,264.5 356.5,262.3 342.5,255.3 338,257.5" fill="#f9d55e"/>
<rect x="520.4" y="267" width="1.2" height="4" fill="#9a5b2a"/><ellipse cx="521" cy="262" rx="5" ry="5.8" fill="#239638"/><ellipse cx="520" cy="260.5" rx="3" ry="3.5" fill="#3aae44"/>
<rect x="605.4" y="269" width="1.2" height="4" fill="#9a5b2a"/><ellipse cx="606" cy="264" rx="5" ry="5.8" fill="#239638"/><ellipse cx="605" cy="262.5" rx="3" ry="3.5" fill="#3aae44"/>
<rect x="605.9" y="270.5" width="1.2" height="4" fill="#9a5b2a"/><ellipse cx="606.5" cy="265.5" rx="5" ry="5.8" fill="#239638"/><ellipse cx="605.5" cy="264" rx="3" ry="3.5" fill="#3aae44"/>
<polygon points="425,275 418.4,271.7 418.4,252.7 425,256" fill="#bcdcec"/><polygon points="425,275 428.5,273.3 428.5,254.3 425,256" fill="#9cc4dc"/><path d="M419.4 270.9L424 273.2" stroke="#e2f0f8" stroke-width="1.1" fill="none"/><path d="M426 273.2L427.5 272.5" stroke="#c6d3da" stroke-width="1.1" fill="none"/><path d="M419.4 268.8L424 271.1" stroke="#e2f0f8" stroke-width="1.1" fill="none"/><path d="M426 271.1L427.5 270.4" stroke="#c6d3da" stroke-width="1.1" fill="none"/><path d="M419.4 266.7L424 269" stroke="#e2f0f8" stroke-width="1.1" fill="none"/><path d="M426 269L427.5 268.3" stroke="#c6d3da" stroke-width="1.1" fill="none"/><path d="M419.4 264.6L424 266.9" stroke="#e2f0f8" stroke-width="1.1" fill="none"/><path d="M426 266.9L427.5 266.2" stroke="#c6d3da" stroke-width="1.1" fill="none"/><path d="M419.4 262.5L424 264.8" stroke="#e2f0f8" stroke-width="1.1" fill="none"/><path d="M426 264.8L427.5 264.1" stroke="#c6d3da" stroke-width="1.1" fill="none"/><path d="M419.4 260.4L424 262.7" stroke="#e2f0f8" stroke-width="1.1" fill="none"/><path d="M426 262.7L427.5 262" stroke="#c6d3da" stroke-width="1.1" fill="none"/><path d="M419.4 258.3L424 260.6" stroke="#e2f0f8" stroke-width="1.1" fill="none"/><path d="M426 260.6L427.5 259.8" stroke="#c6d3da" stroke-width="1.1" fill="none"/><path d="M419.4 256.2L424 258.5" stroke="#e2f0f8" stroke-width="1.1" fill="none"/><path d="M426 258.5L427.5 257.7" stroke="#c6d3da" stroke-width="1.1" fill="none"/><path d="M419.4 254L424 256.3" stroke="#e2f0f8" stroke-width="1.1" fill="none"/><path d="M426 256.4L427.5 255.6" stroke="#c6d3da" stroke-width="1.1" fill="none"/><polygon points="425,256 428.5,254.3 421.9,251 418.4,252.7" fill="#e8f4fa"/>
<polygon points="613,275 608.5,272.8 608.5,268.2 613,270.5" fill="#f7c31a"/><polygon points="613,275 627,268.2 627,263.7 613,270.5" fill="#d9ab16"/><path d="M609.5 270.6L612 271.8" stroke="#6ab0e6" stroke-width="2.2" fill="none"/><path d="M614 271.8L626 266" stroke="#5a9cd6" stroke-width="2.2" fill="none"/><polygon points="613,270.5 627,263.7 622.5,261.4 608.5,268.2" fill="#f9d55e"/>
<rect x="597.2" y="275" width="1.2" height="4" fill="#9a5b2a"/><ellipse cx="597.8" cy="270" rx="5" ry="5.8" fill="#239638"/><ellipse cx="596.8" cy="268.5" rx="3" ry="3.5" fill="#3aae44"/>
<polygon points="573.5,280.2 559.3,273.1 559.3,253.9 573.5,261" fill="#f9e04a"/><polygon points="573.5,280.2 587.7,273.3 587.7,254.1 573.5,261" fill="#f0b81a"/><polygon points="573.5,261 587.7,254.1 573.5,247 559.3,253.9" fill="#fbe680"/>
<polygon points="559.3,259 573.5,266 573.5,271 559.3,264" fill="#3a7fd8"/><polygon points="559.3,259 561.1,259.9 561.1,264.9 559.3,264" fill="#fff"/><polygon points="562.8,260.8 564.6,261.6 564.6,266.6 562.8,265.8" fill="#fff"/><polygon points="566.4,262.5 568.2,263.4 568.2,268.4 566.4,267.5" fill="#fff"/><polygon points="569.9,264.2 571.7,265.1 571.7,270.1 569.9,269.2" fill="#fff"/><polygon points="560.5,265.5 572.5,271.5 572.5,278.5 560.5,272.5" fill="#dff0f8"/>
<rect x="579.7" y="279.2" width="0.5" height="1.8" fill="#9a5b2a"/><ellipse cx="580" cy="276.9" rx="2.2" ry="2.6" fill="#239638"/><ellipse cx="579.5" cy="276.3" rx="1.3" ry="1.6" fill="#3aae44"/>
<polygon points="410.9,282.7 403.4,278.9 403.4,235.9 410.9,239.7" fill="#bcdcec"/><polygon points="410.9,282.7 419.4,278.6 419.4,235.6 410.9,239.7" fill="#9cc4dc"/><path d="M404.4 278.2L409.9 281" stroke="#e2f0f8" stroke-width="1" fill="none"/><path d="M411.9 281L418.4 277.8" stroke="#c6d3da" stroke-width="1" fill="none"/><path d="M404.4 276.2L409.9 278.9" stroke="#e2f0f8" stroke-width="1" fill="none"/><path d="M411.9 278.9L418.4 275.8" stroke="#c6d3da" stroke-width="1" fill="none"/><path d="M404.4 274.1L409.9 276.9" stroke="#e2f0f8" stroke-width="1" fill="none"/><path d="M411.9 276.9L418.4 273.7" stroke="#c6d3da" stroke-width="1" fill="none"/><path d="M404.4 272.1L409.9 274.8" stroke="#e2f0f8" stroke-width="1" fill="none"/><path d="M411.9 274.8L418.4 271.7" stroke="#c6d3da" stroke-width="1" fill="none"/><path d="M404.4 270L409.9 272.8" stroke="#e2f0f8" stroke-width="1" fill="none"/><path d="M411.9 272.8L418.4 269.6" stroke="#c6d3da" stroke-width="1" fill="none"/><path d="M404.4 268L409.9 270.7" stroke="#e2f0f8" stroke-width="1" fill="none"/><path d="M411.9 270.7L418.4 267.6" stroke="#c6d3da" stroke-width="1" fill="none"/><path d="M404.4 265.9L409.9 268.7" stroke="#e2f0f8" stroke-width="1" fill="none"/><path d="M411.9 268.7L418.4 265.5" stroke="#c6d3da" stroke-width="1" fill="none"/><path d="M404.4 263.9L409.9 266.6" stroke="#e2f0f8" stroke-width="1" fill="none"/><path d="M411.9 266.7L418.4 263.5" stroke="#c6d3da" stroke-width="1" fill="none"/><path d="M404.4 261.8L409.9 264.6" stroke="#e2f0f8" stroke-width="1" fill="none"/><path d="M411.9 264.6L418.4 261.4" stroke="#c6d3da" stroke-width="1" fill="none"/><path d="M404.4 259.8L409.9 262.5" stroke="#e2f0f8" stroke-width="1" fill="none"/><path d="M411.9 262.6L418.4 259.4" stroke="#c6d3da" stroke-width="1" fill="none"/><path d="M404.4 257.7L409.9 260.5" stroke="#e2f0f8" stroke-width="1" fill="none"/><path d="M411.9 260.5L418.4 257.3" stroke="#c6d3da" stroke-width="1" fill="none"/><path d="M404.4 255.7L409.9 258.4" stroke="#e2f0f8" stroke-width="1" fill="none"/><path d="M411.9 258.5L418.4 255.3" stroke="#c6d3da" stroke-width="1" fill="none"/><path d="M404.4 253.6L409.9 256.4" stroke="#e2f0f8" stroke-width="1" fill="none"/><path d="M411.9 256.4L418.4 253.2" stroke="#c6d3da" stroke-width="1" fill="none"/><path d="M404.4 251.6L409.9 254.4" stroke="#e2f0f8" stroke-width="1" fill="none"/><path d="M411.9 254.4L418.4 251.2" stroke="#c6d3da" stroke-width="1" fill="none"/><path d="M404.4 249.6L409.9 252.3" stroke="#e2f0f8" stroke-width="1" fill="none"/><path d="M411.9 252.3L418.4 249.1" stroke="#c6d3da" stroke-width="1" fill="none"/><path d="M404.4 247.5L409.9 250.3" stroke="#e2f0f8" stroke-width="1" fill="none"/><path d="M411.9 250.3L418.4 247.1" stroke="#c6d3da" stroke-width="1" fill="none"/><path d="M404.4 245.5L409.9 248.2" stroke="#e2f0f8" stroke-width="1" fill="none"/><path d="M411.9 248.2L418.4 245.1" stroke="#c6d3da" stroke-width="1" fill="none"/><path d="M404.4 243.4L409.9 246.2" stroke="#e2f0f8" stroke-width="1" fill="none"/><path d="M411.9 246.2L418.4 243" stroke="#c6d3da" stroke-width="1" fill="none"/><path d="M404.4 241.4L409.9 244.1" stroke="#e2f0f8" stroke-width="1" fill="none"/><path d="M411.9 244.1L418.4 241" stroke="#c6d3da" stroke-width="1" fill="none"/><path d="M404.4 239.3L409.9 242.1" stroke="#e2f0f8" stroke-width="1" fill="none"/><path d="M411.9 242.1L418.4 238.9" stroke="#c6d3da" stroke-width="1" fill="none"/><path d="M404.4 237.3L409.9 240" stroke="#e2f0f8" stroke-width="1" fill="none"/><path d="M411.9 240L418.4 236.9" stroke="#c6d3da" stroke-width="1" fill="none"/><polygon points="410.9,239.7 419.4,235.6 411.9,231.8 403.4,235.9" fill="#e8f4fa"/>
<polygon points="536.2,281 538.8,281 537.5,275.2" fill="#2a9d3a"/><rect x="537" y="281" width="1" height="2" fill="#9a5b2a"/>
<polygon points="433,283.5 429,281.5 429,278.5 433,280.5" fill="#f58ab0"/><polygon points="433,283.5 440.5,279.8 440.5,276.8 433,280.5" fill="#bf6b89"/><polygon points="433,280.5 440.5,276.8 436.5,274.8 429,278.5" fill="#f7a7c3"/><polygon points="433.6,280.3 430.2,278.6 430.2,276.4 433.6,278.1" fill="#e8f2fa"/><polygon points="433.6,280.3 438.1,278.1 438.1,275.9 433.6,278.1" fill="#c4d8ea"/><polygon points="433.6,278.1 438.1,275.9 434.7,274.2 430.2,276.4" fill="#ffffff"/>
<polygon points="495.4,285.2 476.2,275.6 476.2,252.2 495.4,261.8" fill="#f0a0d8"/><polygon points="495.4,285.2 511.3,277.4 511.3,254 495.4,261.8" fill="#c96bb0"/><path d="M477.2 274.5L494.4 283.1" stroke="#f9d0ee" stroke-width="1.3" fill="none"/><path d="M496.4 283.2L510.3 276.4" stroke="#dbb7d1" stroke-width="1.3" fill="none"/><path d="M477.2 271.9L494.4 280.5" stroke="#f9d0ee" stroke-width="1.3" fill="none"/><path d="M496.4 280.6L510.3 273.8" stroke="#dbb7d1" stroke-width="1.3" fill="none"/><path d="M477.2 269.3L494.4 277.9" stroke="#f9d0ee" stroke-width="1.3" fill="none"/><path d="M496.4 278L510.3 271.2" stroke="#dbb7d1" stroke-width="1.3" fill="none"/><path d="M477.2 266.7L494.4 275.3" stroke="#f9d0ee" stroke-width="1.3" fill="none"/><path d="M496.4 275.4L510.3 268.6" stroke="#dbb7d1" stroke-width="1.3" fill="none"/><path d="M477.2 264.1L494.4 272.7" stroke="#f9d0ee" stroke-width="1.3" fill="none"/><path d="M496.4 272.8L510.3 266" stroke="#dbb7d1" stroke-width="1.3" fill="none"/><path d="M477.2 261.5L494.4 270.1" stroke="#f9d0ee" stroke-width="1.3" fill="none"/><path d="M496.4 270.2L510.3 263.4" stroke="#dbb7d1" stroke-width="1.3" fill="none"/><path d="M477.2 258.9L494.4 267.5" stroke="#f9d0ee" stroke-width="1.3" fill="none"/><path d="M496.4 267.6L510.3 260.8" stroke="#dbb7d1" stroke-width="1.3" fill="none"/><path d="M477.2 256.3L494.4 264.9" stroke="#f9d0ee" stroke-width="1.3" fill="none"/><path d="M496.4 265L510.3 258.2" stroke="#dbb7d1" stroke-width="1.3" fill="none"/><path d="M477.2 253.7L494.4 262.3" stroke="#f9d0ee" stroke-width="1.3" fill="none"/><path d="M496.4 262.4L510.3 255.6" stroke="#dbb7d1" stroke-width="1.3" fill="none"/><polygon points="495.4,261.8 511.3,254 492.1,244.4 476.2,252.2" fill="#f6c6e6"/>
<polygon points="510,288 506,286 506,283 510,285" fill="#2a5fc8"/><polygon points="510,288 517.5,284.3 517.5,281.3 510,285" fill="#204a9c"/><polygon points="510,285 517.5,281.3 513.5,279.3 506,283" fill="#5f87d5"/><polygon points="510.6,284.8 507.2,283.1 507.2,280.9 510.6,282.6" fill="#e8f2fa"/><polygon points="510.6,284.8 515.1,282.6 515.1,280.4 510.6,282.6" fill="#c4d8ea"/><polygon points="510.6,282.6 515.1,280.4 511.7,278.7 507.2,280.9" fill="#ffffff"/>
<polygon points="409,290 405,288 405,285 409,287" fill="#f58ab0"/><polygon points="409,290 416.5,286.3 416.5,283.3 409,287" fill="#bf6b89"/><polygon points="409,287 416.5,283.3 412.5,281.3 405,285" fill="#f7a7c3"/><polygon points="409.6,286.8 406.2,285.1 406.2,282.9 409.6,284.6" fill="#e8f2fa"/><polygon points="409.6,286.8 414.1,284.6 414.1,282.4 409.6,284.6" fill="#c4d8ea"/><polygon points="409.6,284.6 414.1,282.4 410.7,280.7 406.2,282.9" fill="#ffffff"/>
<polygon points="585.3,291 591.9,291 588.6,273.5" fill="#2a9d3a"/><rect x="588.1" y="291" width="1" height="2" fill="#9a5b2a"/>
<rect x="347.8" y="292" width="1.2" height="4" fill="#9a5b2a"/><ellipse cx="348.4" cy="287" rx="5" ry="5.8" fill="#239638"/><ellipse cx="347.4" cy="285.5" rx="3" ry="3.5" fill="#3aae44"/>
<polygon points="408,296 403.5,293.8 403.5,289.2 408,291.5" fill="#f7c31a"/><polygon points="408,296 422,289.2 422,284.7 408,291.5" fill="#d9ab16"/><path d="M404.5 291.6L407 292.8" stroke="#6ab0e6" stroke-width="2.2" fill="none"/><path d="M409 292.8L421 287" stroke="#5a9cd6" stroke-width="2.2" fill="none"/><polygon points="408,291.5 422,284.7 417.5,282.4 403.5,289.2" fill="#f9d55e"/>
<rect x="348.2" y="293" width="1.2" height="4" fill="#9a5b2a"/><ellipse cx="348.8" cy="288" rx="5" ry="5.8" fill="#239638"/><ellipse cx="347.8" cy="286.5" rx="3" ry="3.5" fill="#3aae44"/>
<polygon points="549,298.6 534,291.1 534,285.1 549,292.6" fill="#b3b0ec"/><polygon points="549,298.6 557,294.7 557,288.7 549,292.6" fill="#8f8cd6"/><path d="M549 292.6 Q552 285 557 288.7 L542 281.2 Q537 277.5 534 285.1Z" fill="#c9c7f6"/><path d="M549 292.6 Q552 285 557 288.7Z" fill="#8f8cd6"/>
<polygon points="607,300 599,296 599,294.4 607,298.4" fill="#e8503a"/><polygon points="607,300 619,294.1 619,292.5 607,298.4" fill="#c83a2a"/><polygon points="607,298.4 619,292.5 611,288.5 599,294.4" fill="#f2f2f2"/><rect x="603" y="291" width="1" height="8" fill="#ccc"/><rect x="615" y="287" width="1" height="8" fill="#ccc"/><polygon points="607,291.5 599,287.5 599,285.7 607,289.7" fill="#e8503a"/><polygon points="607,291.5 619,285.6 619,283.8 607,289.7" fill="#c83a2a"/><polygon points="607,289.7 619,283.8 611,279.8 599,285.7" fill="#f2f2f2"/>
<polygon points="396.5,299 400.1,299 398.3,290.6" fill="#2a9d3a"/><rect x="397.8" y="299" width="1" height="2" fill="#9a5b2a"/>
<polygon points="459.4,301.1 438.1,290.5 438.1,270.5 459.4,281.1" fill="#e6a6a6"/><polygon points="459.4,301.1 473.6,294.2 473.6,274.2 459.4,281.1" fill="#a87860"/><path d="M439.1 287L458.4 296.6" stroke="#5fd0c8" stroke-width="3.3" fill="none"/><path d="M460.4 296.6L472.6 290.7" stroke="#53b7b0" stroke-width="3.3" fill="none"/><path d="M439.1 280.3L458.4 289.9" stroke="#5fd0c8" stroke-width="3.3" fill="none"/><path d="M460.4 289.9L472.6 284" stroke="#53b7b0" stroke-width="3.3" fill="none"/><path d="M439.1 273.6L458.4 283.3" stroke="#5fd0c8" stroke-width="3.3" fill="none"/><path d="M460.4 283.3L472.6 277.3" stroke="#53b7b0" stroke-width="3.3" fill="none"/><polygon points="459.4,281.1 473.6,274.2 452.3,263.5 438.1,270.5" fill="#b99080"/>
<polygon points="457,279 447,274 447,260 457,265" fill="#e6a6a6"/><polygon points="457,279 465,275.1 465,261.1 457,265" fill="#a87860"/><polygon points="457,265 465,261.1 455,256.1 447,260" fill="#b99080"/>
<polygon points="464,285 467,283.5 467,295 464,296.5" fill="#f5d21a"/>
<polygon points="533.4,303 519.4,296 519.4,290 533.4,297" fill="#b3b0ec"/><polygon points="533.4,303 541.4,299.1 541.4,293.1 533.4,297" fill="#8f8cd6"/><path d="M533.4 297 Q536.4 289.4 541.4 293.1 L527.4 286.1 Q522.4 282.4 519.4 290Z" fill="#c9c7f6"/><path d="M533.4 297 Q536.4 289.4 541.4 293.1Z" fill="#8f8cd6"/>
<polygon points="450.8,302 454.4,302 452.6,293.6" fill="#2a9d3a"/><rect x="452.1" y="302" width="1" height="2" fill="#9a5b2a"/>
<polygon points="539.1,303 541.7,303 540.4,297.2" fill="#2a9d3a"/><rect x="539.9" y="303" width="1" height="2" fill="#9a5b2a"/>
<polygon points="370.2,306 351.8,296.8 351.8,282.6 370.2,291.8" fill="#2848b8"/><polygon points="370.2,306 395.2,293.8 395.2,279.6 370.2,291.8" fill="#1f3a9a"/><polygon points="355.7,295.2 357.7,296.2 357.7,288.7 355.7,287.7" fill="#5fc8e0"/><polygon points="361,297.8 363,298.8 363,291.3 361,290.3" fill="#5fc8e0"/><polygon points="366.3,300.5 368.3,301.5 368.3,294 366.3,293" fill="#5fc8e0"/><polygon points="370.2,291.8 395.2,279.6 376.8,270.4 351.8,282.6" fill="#b8b8b8"/>
<polygon points="362.5,288 352.5,283 352.5,277 362.5,282" fill="#2848b8"/><polygon points="362.5,288 371.5,283.6 371.5,277.6 362.5,282" fill="#1f3a9a"/><polygon points="362.5,282 371.5,277.6 361.5,272.6 352.5,277" fill="#e9e9e9"/>
<text transform="translate(375,297.6) skewY(-26)" font-size="4.2" fill="#fff" font-family="Liberation Sans" font-weight="bold">POLICE</text>
<polygon points="442,307 434.5,303.2 434.5,300.2 442,304" fill="#2a5fc8"/><polygon points="442,307 446,305.1 446,302.1 442,304" fill="#204a9c"/><polygon points="442,304 446,302.1 438.5,298.3 434.5,300.2" fill="#5f87d5"/><polygon points="441.4,303.8 436.9,301.6 436.9,299.4 441.4,301.6" fill="#e8f2fa"/><polygon points="441.4,303.8 444.8,302.1 444.8,299.9 441.4,301.6" fill="#c4d8ea"/><polygon points="441.4,301.6 444.8,299.9 440.3,297.7 436.9,299.4" fill="#ffffff"/>
<polygon points="300,306 304,306 302,296.3" fill="#2a9d3a"/><rect x="301.5" y="306" width="1" height="2" fill="#9a5b2a"/>
<rect x="571.9" y="293.9" width="1.3" height="13.4" fill="#222"/><rect x="577.4" y="292.8" width="1.3" height="14.8" fill="#222"/><rect x="582.9" y="293.5" width="1.3" height="13.9" fill="#222"/><rect x="585.9" y="294.1" width="1.3" height="13.1" fill="#222"/><path d="M572.5 307.6L578 296.6M572.5 296.6L578 308.6M578 308.6L586.5 295.6M578 296.6L586.5 305.6" stroke="#333" stroke-width="0.6"/><polygon points="578,294.6 571.5,291.4 571.5,282.4 578,285.6" fill="#2b2b2b"/><polygon points="578,294.6 587,290.2 587,281.2 578,285.6" fill="#111"/><polygon points="578,285.6 587,281.2 580.5,278 571.5,282.4" fill="#8c8c8c"/><circle cx="576" cy="287.6" r="2.6" fill="#fff"/><rect x="580" y="272.6" width="0.7" height="7" fill="#777"/><polygon points="580.7,272.6 584,273.6 580.7,275.1" fill="#e33"/>
<polygon points="293.2,309 297.2,309 295.2,299.3" fill="#2a9d3a"/><rect x="294.7" y="309" width="1" height="2" fill="#9a5b2a"/>
<ellipse cx="270" cy="286" rx="6.5" ry="3.6" fill="#a9d8ea"/><rect x="263.5" y="283" width="13" height="3" fill="#a9d8ea"/><ellipse cx="270" cy="283" rx="6.5" ry="3.6" fill="#cfeaf4"/>
<polygon points="272.7,314.6 251.8,304.2 251.8,286.7 272.7,297.1" fill="#e8604c"/><polygon points="272.7,314.6 287.7,307.3 287.7,289.8 272.7,297.1" fill="#c8402f"/><polygon points="254.6,301.2 256.5,302.1 256.5,292.9 254.6,291.9" fill="#f6efe8"/><polygon points="258.4,303.1 260.3,304 260.3,294.8 258.4,293.8" fill="#f6efe8"/><polygon points="262.2,305 264.1,305.9 264.1,296.7 262.2,295.7" fill="#f6efe8"/><polygon points="266.1,306.9 267.9,307.8 267.9,298.6 266.1,297.6" fill="#f6efe8"/><polygon points="269.8,308.8 271.7,309.7 271.7,300.5 269.8,299.5" fill="#f6efe8"/><polygon points="275.3,309 277.3,308 277.3,298.7 275.3,299.7" fill="#f6efe8"/><polygon points="279.6,306.9 281.6,305.9 281.6,296.6 279.6,297.6" fill="#f6efe8"/><polygon points="283.8,304.8 285.8,303.8 285.8,294.5 283.8,295.5" fill="#f6efe8"/><polygon points="272.7,297.1 287.7,289.8 266.8,279.3 251.8,286.7" fill="#8f8f8f"/>
<polygon points="514.2,317 517.8,317 516,308.6" fill="#2a9d3a"/><rect x="515.5" y="317" width="1" height="2" fill="#9a5b2a"/>
<polygon points="591,322 579.3,316.1 579.3,302.1 591,308" fill="#c4c4c4"/><polygon points="591,322 604.4,315.5 604.4,301.5 591,308" fill="#8f8f8f"/><polygon points="591,308 604.4,301.5 592.7,295.6 579.3,302.1" fill="#dcdcdc"/>
<path d="M582 321 v-6 a2.2 2.8 0 0 1 4.4 0 v8z" fill="#6a6a6a"/><path d="M594 321.5 v-6 a2.4 2.8 0 0 1 4.8 0 v3.6z" fill="#555"/>
<polygon points="336.5,323.4 321,315.6 321,306.6 336.5,314.4" fill="#2070c8"/><polygon points="336.5,323.4 344.5,319.5 344.5,310.5 336.5,314.4" fill="#174f9a"/><polygon points="336.5,314.4 344.5,310.5 329,302.8 321,306.6" fill="#f7f7f7"/>
<circle cx="337" cy="308" r="2.8" fill="#f5d21a"/><circle cx="337" cy="308" r="1.5" fill="#1f3f9a"/>
<polygon points="424,323.5 418,320.5 418,319.3 424,322.3" fill="#c9c9c9"/><polygon points="424,323.5 441,315.2 441,314 424,322.3" fill="#b5b5b5"/><polygon points="424,322.3 441,314 435,311 418,319.3" fill="#e3e3e3"/><ellipse cx="421.5" cy="320.2" rx="2.6" ry="1.5" fill="#1f8a2e"/><ellipse cx="437" cy="315.3" rx="2.6" ry="1.5" fill="#1f8a2e"/><polygon points="428.5,320.1 423.5,317.6 423.5,311.6 428.5,314.1" fill="#9fd6ea"/><polygon points="428.5,320.1 435,316.9 435,310.9 428.5,314.1" fill="#6fb7d6"/><polygon points="428.5,314.1 435,310.9 430,308.4 423.5,311.6" fill="#fff"/><polygon points="428.5,314.5 421.5,311 421.5,309.4 428.5,312.9" fill="#f39a1e"/><polygon points="428.5,314.5 437,310.4 437,308.8 428.5,312.9" fill="#e0801a"/><polygon points="428.5,312.9 437,308.8 430,305.3 421.5,309.4" fill="#fbd23c"/>
<path d="M547 322.9Q556 307.5 565 314.1" stroke="#8fbfe2" stroke-width="4.2" fill="none" stroke-linecap="round"/><path d="M547 322.9Q556 307.5 565 314.1" stroke="#dcedf8" stroke-width="1.8" fill="none" stroke-linecap="round" transform="translate(0,-0.8)"/>
<polygon points="408.6,323.6 392.1,315.4 392.1,306.4 408.6,314.6" fill="#f58ab0"/><polygon points="408.6,323.6 420.3,317.9 420.3,308.9 408.6,314.6" fill="#d95c86"/><polygon points="420.3,308.9 403.8,300.6 398,297.5 414.5,305.7" fill="#3e8ec5"/><polygon points="408.6,314.6 420.3,308.9 414.5,305.7" fill="#d95c86"/><polygon points="408.6,314.6 392.1,306.4 398,297.5 414.5,305.7" fill="#49a8e8"/>
<rect x="572.9" y="320" width="1.2" height="4" fill="#9a5b2a"/><ellipse cx="573.5" cy="315" rx="5" ry="5.8" fill="#239638"/><ellipse cx="572.5" cy="313.5" rx="3" ry="3.5" fill="#3aae44"/>
<polygon points="494,326 474.4,316.2 474.4,311.2 494,321" fill="#e8e8e8"/><polygon points="494,326 513.4,316.5 513.4,311.5 494,321" fill="#dcdcdc"/><polygon points="494,321 513.4,311.5 493.8,301.7 474.4,311.2" fill="#f4f4f4"/>
<polygon points="494,321 474.4,311.2 474.4,309.2 494,319" fill="#e8503a"/><polygon points="494,321 513.4,311.5 513.4,309.5 494,319" fill="#c83a2a"/><polygon points="494,319 513.4,309.5 493.8,299.7 474.4,309.2" fill="#f4f4f4"/><polygon points="494,314.5 474.4,304.7 474.4,299.2 494,309" fill="#e0263a"/><polygon points="494,314.5 513.4,305 513.4,299.5 494,309" fill="#a81a2a"/><polygon points="494,309 513.4,299.5 493.8,289.7 474.4,299.2" fill="#f6f6f6"/><polygon points="494,307 482,301 482,299.5 494,305.5" fill="#e0e0e0"/><polygon points="494,307 506,301.1 506,299.6 494,305.5" fill="#b7b7b7"/><polygon points="494,305.5 506,299.6 494,293.6 482,299.5" fill="#ffffff"/>
<polygon points="314.5,327 310.5,325 310.5,322 314.5,324" fill="#2a5fc8"/><polygon points="314.5,327 322,323.3 322,320.3 314.5,324" fill="#204a9c"/><polygon points="314.5,324 322,320.3 318,318.3 310.5,322" fill="#5f87d5"/><polygon points="315.1,323.8 311.7,322.1 311.7,319.9 315.1,321.6" fill="#e8f2fa"/><polygon points="315.1,323.8 319.6,321.6 319.6,319.4 315.1,321.6" fill="#c4d8ea"/><polygon points="315.1,321.6 319.6,319.4 316.2,317.7 311.7,319.9" fill="#ffffff"/>
<rect x="281.9" y="314" width="1.3" height="13.4" fill="#222"/><rect x="287.4" y="312.9" width="1.3" height="14.8" fill="#222"/><rect x="292.9" y="313.6" width="1.3" height="13.9" fill="#222"/><rect x="295.9" y="314.2" width="1.3" height="13.1" fill="#222"/><path d="M282.5 327.7L288 316.7M282.5 316.7L288 328.7M288 328.7L296.5 315.7M288 316.7L296.5 325.7" stroke="#333" stroke-width="0.6"/><polygon points="288,314.7 281.5,311.4 281.5,302.4 288,305.7" fill="#2b2b2b"/><polygon points="288,314.7 297,310.3 297,301.3 288,305.7" fill="#111"/><polygon points="288,305.7 297,301.3 290.5,298.1 281.5,302.4" fill="#8c8c8c"/><circle cx="286" cy="307.7" r="2.6" fill="#fff"/><rect x="290" y="292.7" width="0.7" height="7" fill="#777"/><polygon points="290.7,292.7 294,293.7 290.7,295.2" fill="#e33"/>
<polygon points="334,334.5 330,332.5 330,329.5 334,331.5" fill="#f58ab0"/><polygon points="334,334.5 341.5,330.8 341.5,327.8 334,331.5" fill="#bf6b89"/><polygon points="334,331.5 341.5,327.8 337.5,325.8 330,329.5" fill="#f7a7c3"/><polygon points="334.6,331.3 331.2,329.6 331.2,327.4 334.6,329.1" fill="#e8f2fa"/><polygon points="334.6,331.3 339.1,329.1 339.1,326.9 334.6,329.1" fill="#c4d8ea"/><polygon points="334.6,329.1 339.1,326.9 335.7,325.2 331.2,327.4" fill="#ffffff"/>
<polygon points="335,335 331,333 331,330 335,332" fill="#f58ab0"/><polygon points="335,335 342.5,331.3 342.5,328.3 335,332" fill="#bf6b89"/><polygon points="335,332 342.5,328.3 338.5,326.3 331,330" fill="#f7a7c3"/><polygon points="335.6,331.8 332.2,330.1 332.2,327.9 335.6,329.6" fill="#e8f2fa"/><polygon points="335.6,331.8 340.1,329.6 340.1,327.4 335.6,329.6" fill="#c4d8ea"/><polygon points="335.6,329.6 340.1,327.4 336.7,325.7 332.2,327.9" fill="#ffffff"/>
<rect x="310.4" y="334" width="1.2" height="4" fill="#9a5b2a"/><ellipse cx="311" cy="329" rx="5" ry="5.8" fill="#239638"/><ellipse cx="310" cy="327.5" rx="3" ry="3.5" fill="#3aae44"/>
<polygon points="533,338 527,335 527,333.8 533,336.8" fill="#c9c9c9"/><polygon points="533,338 550,329.7 550,328.5 533,336.8" fill="#b5b5b5"/><polygon points="533,336.8 550,328.5 544,325.5 527,333.8" fill="#e3e3e3"/><ellipse cx="530.5" cy="334.7" rx="2.6" ry="1.5" fill="#1f8a2e"/><ellipse cx="546" cy="329.8" rx="2.6" ry="1.5" fill="#1f8a2e"/><polygon points="537.5,334.6 532.5,332.1 532.5,326.1 537.5,328.6" fill="#9fd6ea"/><polygon points="537.5,334.6 544,331.4 544,325.4 537.5,328.6" fill="#6fb7d6"/><polygon points="537.5,328.6 544,325.4 539,322.9 532.5,326.1" fill="#fff"/><polygon points="537.5,329 530.5,325.5 530.5,323.9 537.5,327.4" fill="#f39a1e"/><polygon points="537.5,329 546,324.9 546,323.3 537.5,327.4" fill="#e0801a"/><polygon points="537.5,327.4 546,323.3 539,319.8 530.5,323.9" fill="#fbd23c"/>
<polygon points="539,343.6 530,339.1 530,330.1 539,334.6" fill="#e0263a"/><polygon points="539,343.6 547,339.7 547,330.7 539,334.6" fill="#b81a2a"/><path d="M531 334.2L538 337.7" stroke="#a9e0f0" stroke-width="4.5" fill="none"/><path d="M540 337.7L546 334.8" stroke="#94c5d3" stroke-width="4.5" fill="none"/><polygon points="547,330.7 538,326.2 534,322.2 543,326.7" fill="#cd82a8"/><polygon points="539,334.6 547,330.7 543,326.7" fill="#b81a2a"/><polygon points="539,334.6 530,330.1 534,322.2 543,326.7" fill="#f29ac6"/>
<polygon points="548.5,341 543.5,338.5 543.5,331.5 548.5,334" fill="#f39a1e"/><polygon points="548.5,341 555.5,337.6 555.5,330.6 548.5,334" fill="#f39a1e"/><path d="M544.5 337.6L547.5 339.1" stroke="#fff" stroke-width="1.2" fill="none"/><path d="M549.5 339.1L554.5 336.7" stroke="#e0e0e0" stroke-width="1.2" fill="none"/><path d="M544.5 335.3L547.5 336.8" stroke="#fff" stroke-width="1.2" fill="none"/><path d="M549.5 336.8L554.5 334.3" stroke="#e0e0e0" stroke-width="1.2" fill="none"/><path d="M544.5 332.9L547.5 334.4" stroke="#fff" stroke-width="1.2" fill="none"/><path d="M549.5 334.4L554.5 332" stroke="#e0e0e0" stroke-width="1.2" fill="none"/><polygon points="548.5,334 555.5,330.6 550.5,328.1 543.5,331.5" fill="#fbd23c"/>
<polygon points="452,342 444,338 444,332 452,336" fill="#8a1a1a"/><polygon points="452,342 458,339.1 458,333.1 452,336" fill="#6a1010"/><polygon points="452,336 458,333.1 450,329.1 444,332" fill="#a82a2a"/>
<polygon points="459,345 443.5,337.2 443.5,324.2 459,332" fill="#b02a2a"/><polygon points="459,345 471.5,338.9 471.5,325.9 459,332" fill="#7a1a1a"/><polygon points="471.5,325.9 456,318.2 449.8,313.2 465.2,321" fill="#828282"/><polygon points="459,332 471.5,325.9 465.2,321" fill="#7a1a1a"/><polygon points="459,332 443.5,324.2 449.8,313.2 465.2,321" fill="#9a9a9a"/>
<polygon points="595.6,343 599.6,343 597.6,333.3" fill="#2a9d3a"/><rect x="597.1" y="343" width="1" height="2" fill="#9a5b2a"/>
<polygon points="365.2,346.2 354.3,340.8 354.3,319.8 365.2,325.2" fill="#c8c088"/><polygon points="365.2,346.2 394.5,331.9 394.5,310.9 365.2,325.2" fill="#d8d0a0"/><path d="M355.3 337.1L364.2 341.5" stroke="#a8a47c" stroke-width="3.5" fill="none"/><path d="M366.2 341.5L393.5 328.2" stroke="#a4a48c" stroke-width="3.5" fill="none"/><path d="M355.3 330.1L364.2 334.5" stroke="#a8a47c" stroke-width="3.5" fill="none"/><path d="M366.2 334.5L393.5 321.2" stroke="#a4a48c" stroke-width="3.5" fill="none"/><path d="M355.3 323.1L364.2 327.5" stroke="#a8a47c" stroke-width="3.5" fill="none"/><path d="M366.2 327.5L393.5 314.2" stroke="#a4a48c" stroke-width="3.5" fill="none"/><polygon points="365.2,325.2 394.5,310.9 383.6,305.5 354.3,319.8" fill="#b8b078"/>
<polygon points="377,344 373,342 373,336 377,338" fill="#c8c088"/><polygon points="377,344 386,339.6 386,333.6 377,338" fill="#d8d0a0"/><polygon points="377,338 386,333.6 382,331.6 373,336" fill="#b8b078"/>
<polygon points="304.5,348 300.5,346 300.5,343 304.5,345" fill="#f58ab0"/><polygon points="304.5,348 312,344.3 312,341.3 304.5,345" fill="#bf6b89"/><polygon points="304.5,345 312,341.3 308,339.3 300.5,343" fill="#f7a7c3"/><polygon points="305.1,344.8 301.7,343.1 301.7,340.9 305.1,342.6" fill="#e8f2fa"/><polygon points="305.1,344.8 309.6,342.6 309.6,340.4 305.1,342.6" fill="#c4d8ea"/><polygon points="305.1,342.6 309.6,340.4 306.2,338.7 301.7,340.9" fill="#ffffff"/>
<rect x="452.2" y="345" width="1.2" height="4" fill="#9a5b2a"/><ellipse cx="452.8" cy="340" rx="5" ry="5.8" fill="#239638"/><ellipse cx="451.8" cy="338.5" rx="3" ry="3.5" fill="#3aae44"/>
<polygon points="504,348 508,348 506,338.3" fill="#2a9d3a"/><rect x="505.5" y="348" width="1" height="2" fill="#9a5b2a"/>
<path d="M428.5 349.4Q437.5 334 446.5 340.6" stroke="#8fbfe2" stroke-width="4.2" fill="none" stroke-linecap="round"/><path d="M428.5 349.4Q437.5 334 446.5 340.6" stroke="#dcedf8" stroke-width="1.8" fill="none" stroke-linecap="round" transform="translate(0,-0.8)"/>
<rect x="237.2" y="326" width="2.6" height="7" fill="#f2b0b0"/><rect x="237.2" y="328" width="2.6" height="1.4" fill="#fff"/>
<rect x="245.2" y="328" width="2.6" height="7" fill="#f2b0b0"/><rect x="245.2" y="330" width="2.6" height="1.4" fill="#fff"/>
<rect x="252.7" y="331" width="2.6" height="7" fill="#f2b0b0"/><rect x="252.7" y="333" width="2.6" height="1.4" fill="#fff"/>
<polygon points="276.6,352.5 258.4,343.4 258.4,328.4 276.6,337.5" fill="#ededf8"/><polygon points="276.6,352.5 287.7,347.1 287.7,332.1 276.6,337.5" fill="#d4d4e6"/><polygon points="276.6,337.5 287.7,332.1 269.5,323 258.4,328.4" fill="#f8f8ff"/>
<polygon points="279,343 286,339.6 286,346 279,349.4" fill="#6f9be0"/>
<polygon points="366,353 352,346 352,341.5 366,348.5" fill="#f7c31a"/><polygon points="366,353 370.5,350.8 370.5,346.3 366,348.5" fill="#d9ab16"/><path d="M353 343.8L365 349.8" stroke="#6ab0e6" stroke-width="2.2" fill="none"/><path d="M367 349.8L369.5 348.6" stroke="#5a9cd6" stroke-width="2.2" fill="none"/><polygon points="366,348.5 370.5,346.3 356.5,339.3 352,341.5" fill="#f9d55e"/>
<rect x="603.7" y="351" width="1.2" height="4" fill="#9a5b2a"/><ellipse cx="604.3" cy="346" rx="5" ry="5.8" fill="#239638"/><ellipse cx="603.3" cy="344.5" rx="3" ry="3.5" fill="#3aae44"/>
<polygon points="391,355 387,353 387,350 391,352" fill="#4aa84a"/><polygon points="391,355 398.5,351.3 398.5,348.3 391,352" fill="#398339"/><polygon points="391,352 398.5,348.3 394.5,346.3 387,350" fill="#77bd77"/><polygon points="391.6,351.8 388.2,350.1 388.2,347.9 391.6,349.6" fill="#e8f2fa"/><polygon points="391.6,351.8 396.1,349.6 396.1,347.4 391.6,349.6" fill="#c4d8ea"/><polygon points="391.6,349.6 396.1,347.4 392.7,345.7 388.2,347.9" fill="#ffffff"/>
<rect x="354.8" y="352" width="1.2" height="4" fill="#9a5b2a"/><ellipse cx="355.4" cy="347" rx="5" ry="5.8" fill="#239638"/><ellipse cx="354.4" cy="345.5" rx="3" ry="3.5" fill="#3aae44"/>
<rect x="354" y="352" width="1.2" height="4" fill="#9a5b2a"/><ellipse cx="354.6" cy="347" rx="5" ry="5.8" fill="#239638"/><ellipse cx="353.6" cy="345.5" rx="3" ry="3.5" fill="#3aae44"/>
<polygon points="233.2,347 233.2,337 239,333 239,343 246,339 246,329.5 252,333 252,343 258.5,346.5 258.5,358.5 246,352.5" fill="#2a6fc0"/><polygon points="233.2,347 246,352.5 258.5,358.5 258.5,361 233.2,349.5" fill="#f2f2f2"/>
<polygon points="261.5,360.6 249.5,354.6 249.5,337.6 261.5,343.6" fill="#d0d0d0"/><polygon points="261.5,360.6 265.5,358.7 265.5,341.7 261.5,343.6" fill="#b4b4b4"/><polygon points="261.5,343.6 265.5,341.7 253.5,335.7 249.5,337.6" fill="#e6e6e6"/>
<polygon points="329.1,360.6 317.1,354.6 317.1,347.6 329.1,353.6" fill="#e9b27a"/><polygon points="329.1,360.6 341.1,354.8 341.1,347.8 329.1,353.6" fill="#c98a4a"/><polygon points="341.1,347.8 329.1,341.8 323.1,336.7 335.1,342.7" fill="#26755a"/><polygon points="329.1,353.6 341.1,347.8 335.1,342.7" fill="#c98a4a"/><polygon points="329.1,353.6 317.1,347.6 323.1,336.7 335.1,342.7" fill="#2d8a6a"/>
<rect x="344.7" y="357" width="1.2" height="4" fill="#9a5b2a"/><ellipse cx="345.3" cy="352" rx="5" ry="5.8" fill="#239638"/><ellipse cx="344.3" cy="350.5" rx="3" ry="3.5" fill="#3aae44"/>
<polygon points="588.4,361.8 576.7,355.9 576.7,347.9 588.4,353.8" fill="#eaf2f6"/><polygon points="588.4,361.8 599.3,356.5 599.3,348.5 588.4,353.8" fill="#a9d0e6"/><polygon points="588.4,353.8 599.3,348.5 587.6,342.6 576.7,347.9" fill="#a01820"/>
<polygon points="576.7,346 588.4,351.8 599.3,346.5 590,340.5" fill="#a01820"/><polygon points="576.7,346 579,344.5 579,353 576.7,354" fill="#2a6fc0"/>
<rect x="345.4" y="358" width="1.2" height="4" fill="#9a5b2a"/><ellipse cx="346" cy="353" rx="5" ry="5.8" fill="#239638"/><ellipse cx="345" cy="351.5" rx="3" ry="3.5" fill="#3aae44"/>
<polygon points="519.7,365.6 515.7,363.6 515.7,360.6 519.7,362.6" fill="#f58ab0"/><polygon points="519.7,365.6 527.2,361.9 527.2,358.9 519.7,362.6" fill="#bf6b89"/><polygon points="519.7,362.6 527.2,358.9 523.2,356.9 515.7,360.6" fill="#f7a7c3"/><polygon points="520.3,362.4 516.9,360.7 516.9,358.5 520.3,360.2" fill="#e8f2fa"/><polygon points="520.3,362.4 524.8,360.2 524.8,358 520.3,360.2" fill="#c4d8ea"/><polygon points="520.3,360.2 524.8,358 521.4,356.3 516.9,358.5" fill="#ffffff"/>
<polygon points="493.4,365.7 475.4,356.7 475.4,345.9 493.4,354.9" fill="#d8b048"/><polygon points="493.4,365.7 514.2,355.6 514.2,344.8 493.4,354.9" fill="#b89030"/><polygon points="493.4,354.9 514.2,344.8 496.2,335.8 475.4,345.9" fill="#e6c870"/>
<polygon points="493.4,352.5 511.5,343.7 496.2,336 478.1,344.8" fill="#2e9b3a"/>
<polygon points="495,354 489,351 489,333 495,336" fill="#d6e6ee"/><polygon points="495,354 501.5,350.8 501.5,332.8 495,336" fill="#a9c6d6"/><path d="M490 349.7L494 351.7" stroke="#8fb8d0" stroke-width="1.5" fill="none"/><path d="M496 351.7L500.5 349.5" stroke="#7da1b7" stroke-width="1.5" fill="none"/><path d="M490 346.7L494 348.7" stroke="#8fb8d0" stroke-width="1.5" fill="none"/><path d="M496 348.7L500.5 346.5" stroke="#7da1b7" stroke-width="1.5" fill="none"/><path d="M490 343.7L494 345.7" stroke="#8fb8d0" stroke-width="1.5" fill="none"/><path d="M496 345.7L500.5 343.5" stroke="#7da1b7" stroke-width="1.5" fill="none"/><path d="M490 340.7L494 342.7" stroke="#8fb8d0" stroke-width="1.5" fill="none"/><path d="M496 342.7L500.5 340.5" stroke="#7da1b7" stroke-width="1.5" fill="none"/><path d="M490 337.7L494 339.7" stroke="#8fb8d0" stroke-width="1.5" fill="none"/><path d="M496 339.7L500.5 337.5" stroke="#7da1b7" stroke-width="1.5" fill="none"/><path d="M490 334.7L494 336.7" stroke="#8fb8d0" stroke-width="1.5" fill="none"/><path d="M496 336.7L500.5 334.5" stroke="#7da1b7" stroke-width="1.5" fill="none"/><polygon points="495,336 501.5,332.8 495.5,329.8 489,333" fill="#f2f8fb"/>
<polygon points="477,364 481,364 479,354.3" fill="#2a9d3a"/><rect x="478.5" y="364" width="1" height="2" fill="#9a5b2a"/>
<rect x="321.4" y="362" width="1.2" height="4" fill="#9a5b2a"/><ellipse cx="322" cy="357" rx="5" ry="5.8" fill="#239638"/><ellipse cx="321" cy="355.5" rx="3" ry="3.5" fill="#3aae44"/>
<polygon points="574,366 568,363 568,361.8 574,364.8" fill="#c9c9c9"/><polygon points="574,366 591,357.7 591,356.5 574,364.8" fill="#b5b5b5"/><polygon points="574,364.8 591,356.5 585,353.5 568,361.8" fill="#e3e3e3"/><ellipse cx="571.5" cy="362.7" rx="2.6" ry="1.5" fill="#1f8a2e"/><ellipse cx="587" cy="357.8" rx="2.6" ry="1.5" fill="#1f8a2e"/><polygon points="578.5,362.6 573.5,360.1 573.5,354.1 578.5,356.6" fill="#9fd6ea"/><polygon points="578.5,362.6 585,359.4 585,353.4 578.5,356.6" fill="#6fb7d6"/><polygon points="578.5,356.6 585,353.4 580,350.9 573.5,354.1" fill="#fff"/><polygon points="578.5,357 571.5,353.5 571.5,351.9 578.5,355.4" fill="#f39a1e"/><polygon points="578.5,357 587,352.9 587,351.3 578.5,355.4" fill="#e0801a"/><polygon points="578.5,355.4 587,351.3 580,347.8 571.5,351.9" fill="#fbd23c"/>
<rect x="322.4" y="362.5" width="1.2" height="4" fill="#9a5b2a"/><ellipse cx="323" cy="357.5" rx="5" ry="5.8" fill="#239638"/><ellipse cx="322" cy="356" rx="3" ry="3.5" fill="#3aae44"/>
<polygon points="224,367.4 218,364.4 218,363.2 224,366.2" fill="#c9c9c9"/><polygon points="224,367.4 241,359.1 241,357.9 224,366.2" fill="#b5b5b5"/><polygon points="224,366.2 241,357.9 235,354.9 218,363.2" fill="#e3e3e3"/><ellipse cx="221.5" cy="364.1" rx="2.6" ry="1.5" fill="#1f8a2e"/><ellipse cx="237" cy="359.2" rx="2.6" ry="1.5" fill="#1f8a2e"/><polygon points="228.5,364 223.5,361.5 223.5,355.5 228.5,358" fill="#9fd6ea"/><polygon points="228.5,364 235,360.8 235,354.8 228.5,358" fill="#6fb7d6"/><polygon points="228.5,358 235,354.8 230,352.3 223.5,355.5" fill="#fff"/><polygon points="228.5,358.4 221.5,354.9 221.5,353.3 228.5,356.8" fill="#f39a1e"/><polygon points="228.5,358.4 237,354.3 237,352.7 228.5,356.8" fill="#e0801a"/><polygon points="228.5,356.8 237,352.7 230,349.2 221.5,353.3" fill="#fbd23c"/>
<polygon points="410.3,368.4 399.5,363 399.5,350.4 410.3,355.8" fill="#f8d060"/><polygon points="410.3,368.4 427.5,360 427.5,347.4 410.3,355.8" fill="#f0b040"/><path d="M400.5 359.7L409.3 364.1" stroke="#9fd8ea" stroke-width="3.1" fill="none"/><path d="M411.3 364.1L426.5 356.7" stroke="#8bbecd" stroke-width="3.1" fill="none"/><path d="M400.5 353.4L409.3 357.8" stroke="#9fd8ea" stroke-width="3.1" fill="none"/><path d="M411.3 357.8L426.5 350.4" stroke="#8bbecd" stroke-width="3.1" fill="none"/><polygon points="427.5,347.4 416.7,342 408.1,336.2 418.9,341.6" fill="#ca4c16"/><polygon points="410.3,355.8 427.5,347.4 418.9,341.6" fill="#f0b040"/><polygon points="410.3,355.8 399.5,350.4 408.1,336.2 418.9,341.6" fill="#ee5a1a"/>
<polygon points="278,370 281,370 279.5,362.9" fill="#2a9d3a"/><rect x="279" y="370" width="1" height="2" fill="#9a5b2a"/>
<polygon points="641,372.7 634.5,369.4 634.5,365.4 641,368.7" fill="#f5a81a"/><polygon points="641,372.7 652,367.3 652,363.3 641,368.7" fill="#e08a1a"/><polygon points="641,368.7 652,363.3 645.5,360.1 634.5,365.4" fill="#fbd24a"/>
<path d="M652 365.5 L668 359.5 q3 -1 2.5 2" stroke="#d0d0d0" stroke-width="1" fill="none"/>
<rect x="248.8" y="369" width="1.2" height="4" fill="#9a5b2a"/><ellipse cx="249.4" cy="364" rx="5" ry="5.8" fill="#239638"/><ellipse cx="248.4" cy="362.5" rx="3" ry="3.5" fill="#3aae44"/>
<polygon points="271.2,372 274.8,372 273,363.6" fill="#2a9d3a"/><rect x="272.5" y="372" width="1" height="2" fill="#9a5b2a"/>
<polygon points="548,374 540.5,370.2 540.5,346.2 548,350" fill="#cfe6f2"/><polygon points="548,374 555,370.6 555,346.6 548,350" fill="#7fb4d6"/><path d="M541.5 369.3L547 372.1" stroke="#8fbcd6" stroke-width="1.2" fill="none"/><path d="M549 372.1L554 369.6" stroke="#7da5bc" stroke-width="1.2" fill="none"/><path d="M541.5 366.9L547 369.7" stroke="#8fbcd6" stroke-width="1.2" fill="none"/><path d="M549 369.7L554 367.2" stroke="#7da5bc" stroke-width="1.2" fill="none"/><path d="M541.5 364.5L547 367.3" stroke="#8fbcd6" stroke-width="1.2" fill="none"/><path d="M549 367.3L554 364.8" stroke="#7da5bc" stroke-width="1.2" fill="none"/><path d="M541.5 362.1L547 364.9" stroke="#8fbcd6" stroke-width="1.2" fill="none"/><path d="M549 364.9L554 362.4" stroke="#7da5bc" stroke-width="1.2" fill="none"/><path d="M541.5 359.7L547 362.5" stroke="#8fbcd6" stroke-width="1.2" fill="none"/><path d="M549 362.5L554 360" stroke="#7da5bc" stroke-width="1.2" fill="none"/><path d="M541.5 357.3L547 360.1" stroke="#8fbcd6" stroke-width="1.2" fill="none"/><path d="M549 360.1L554 357.6" stroke="#7da5bc" stroke-width="1.2" fill="none"/><path d="M541.5 354.9L547 357.7" stroke="#8fbcd6" stroke-width="1.2" fill="none"/><path d="M549 357.7L554 355.2" stroke="#7da5bc" stroke-width="1.2" fill="none"/><path d="M541.5 352.5L547 355.3" stroke="#8fbcd6" stroke-width="1.2" fill="none"/><path d="M549 355.3L554 352.8" stroke="#7da5bc" stroke-width="1.2" fill="none"/><path d="M541.5 350.1L547 352.9" stroke="#8fbcd6" stroke-width="1.2" fill="none"/><path d="M549 352.9L554 350.4" stroke="#7da5bc" stroke-width="1.2" fill="none"/><path d="M541.5 347.7L547 350.5" stroke="#8fbcd6" stroke-width="1.2" fill="none"/><path d="M549 350.5L554 348" stroke="#7da5bc" stroke-width="1.2" fill="none"/><polygon points="548,350 555,346.6 547.5,342.8 540.5,346.2" fill="#eef6fb"/>
<rect x="248.6" y="370" width="1.2" height="4" fill="#9a5b2a"/><ellipse cx="249.2" cy="365" rx="5" ry="5.8" fill="#239638"/><ellipse cx="248.2" cy="363.5" rx="3" ry="3.5" fill="#3aae44"/>
<path d="M330 365.5Q339 359 348 374.5" stroke="#8fbfe2" stroke-width="4.2" fill="none" stroke-linecap="round"/><path d="M330 365.5Q339 359 348 374.5" stroke="#dcedf8" stroke-width="1.8" fill="none" stroke-linecap="round" transform="translate(0,-0.8)"/>
<rect x="594.7" y="374" width="0.6" height="2" fill="#9a5b2a"/><ellipse cx="595" cy="371.5" rx="2.5" ry="2.9" fill="#239638"/><ellipse cx="594.5" cy="370.8" rx="1.5" ry="1.8" fill="#3aae44"/>
<polygon points="309,376.7 283,363.7 283,349.7 309,362.7" fill="#f5a04a"/><polygon points="309,376.7 314,374.3 314,360.3 309,362.7" fill="#e0832a"/><path d="M284 361.4L308 373.4" stroke="#a9dcea" stroke-width="2.3" fill="none"/><path d="M310 373.4L313 371.9" stroke="#94c1cd" stroke-width="2.3" fill="none"/><path d="M284 356.7L308 368.7" stroke="#a9dcea" stroke-width="2.3" fill="none"/><path d="M310 368.7L313 367.3" stroke="#94c1cd" stroke-width="2.3" fill="none"/><path d="M284 352.1L308 364.1" stroke="#a9dcea" stroke-width="2.3" fill="none"/><path d="M310 364.1L313 362.6" stroke="#94c1cd" stroke-width="2.3" fill="none"/><polygon points="309,362.7 314,360.3 288,347.3 283,349.7" fill="#f9c27a"/>
<rect x="275.4" y="355" width="0.7" height="14" fill="#eee"/>
<rect x="167.9" y="379" width="1.2" height="4" fill="#9a5b2a"/><ellipse cx="168.5" cy="374" rx="5" ry="5.8" fill="#239638"/><ellipse cx="167.5" cy="372.5" rx="3" ry="3.5" fill="#3aae44"/>
<polygon points="280.5,384.8 265.5,377.3 265.5,375.1 280.5,382.6" fill="#8a6a3a"/><polygon points="280.5,384.8 294.8,377.8 294.8,375.6 280.5,382.6" fill="#6e5228"/><polygon points="280.5,382.6 294.8,375.6 279.8,368.1 265.5,375.1" fill="#2e9b3a"/>
<polygon points="462.7,385.5 436.5,372.4 436.5,351.4 462.7,364.5" fill="#f2f2f2"/><polygon points="462.7,385.5 474.4,379.8 474.4,358.8 462.7,364.5" fill="#a8a8a8"/><path d="M437.5 369.8L461.7 381.9" stroke="#dedede" stroke-width="2.6" fill="none"/><path d="M463.7 381.9L473.4 377.1" stroke="#c3c3c3" stroke-width="2.6" fill="none"/><path d="M437.5 364.5L461.7 376.6" stroke="#dedede" stroke-width="2.6" fill="none"/><path d="M463.7 376.6L473.4 371.9" stroke="#c3c3c3" stroke-width="2.6" fill="none"/><path d="M437.5 359.2L461.7 371.4" stroke="#dedede" stroke-width="2.6" fill="none"/><path d="M463.7 371.4L473.4 366.6" stroke="#c3c3c3" stroke-width="2.6" fill="none"/><path d="M437.5 354L461.7 366.1" stroke="#dedede" stroke-width="2.6" fill="none"/><path d="M463.7 366.1L473.4 361.4" stroke="#c3c3c3" stroke-width="2.6" fill="none"/><polygon points="462.7,364.5 474.4,358.8 448.2,345.7 436.5,351.4" fill="#f6f6f6"/>
<polygon points="452,380.5 435,372 435,363 452,371.5" fill="#fafafa"/><polygon points="452,380.5 460,376.6 460,367.6 452,371.5" fill="#e2e2e2"/><polygon points="452,371.5 460,367.6 443,359.1 435,363" fill="#ffffff"/>
<polygon points="620.2,387.8 601.8,378.6 601.8,362.6 620.2,371.8" fill="#9cc8e4"/><polygon points="620.2,387.8 631.9,382.1 631.9,366.1 620.2,371.8" fill="#6fa8d0"/><polygon points="620.2,371.8 631.9,366.1 613.5,356.9 601.8,362.6" fill="#e0eef6"/>
<polygon points="613,362 606,358.5 606,355.5 613,359" fill="#b8c4cc"/><polygon points="613,362 619,359.1 619,356.1 613,359" fill="#98a4ac"/><polygon points="613,359 619,356.1 612,352.6 606,355.5" fill="#dce6ec"/><polygon points="610,380 614,382 614,386 610,384" fill="#7fb4d6"/>
<polygon points="538.5,390.5 523.5,383 523.5,373 538.5,380.5" fill="#2070c8"/><polygon points="538.5,390.5 547.5,386.1 547.5,376.1 538.5,380.5" fill="#174f9a"/><polygon points="538.5,380.5 547.5,376.1 532.5,368.6 523.5,373" fill="#f7f7f7"/>
<circle cx="538" cy="374.5" r="2.8" fill="#f5d21a"/><circle cx="538" cy="374.5" r="1.5" fill="#1f3f9a"/>
<polygon points="194.7,392.7 173.5,382.1 173.5,373.1 194.7,383.7" fill="#f6b8c4"/><polygon points="194.7,392.7 208.8,385.8 208.8,376.8 194.7,383.7" fill="#f0a0b0"/><path d="M174.5 377.2L193.7 386.8" stroke="#cfeaf4" stroke-width="4.5" fill="none"/><path d="M195.7 386.8L207.8 380.9" stroke="#b6cdd6" stroke-width="4.5" fill="none"/><polygon points="194.7,383.7 208.8,376.8 187.6,366.2 173.5,373.1" fill="#fbe3b5"/>
<polygon points="194.7,383.7 172.5,372.6 172.5,371.2 194.7,382.3" fill="#2e9b4a"/><polygon points="194.7,383.7 209.8,376.3 209.8,374.9 194.7,382.3" fill="#2e9b4a"/><polygon points="194.7,382.3 209.8,374.9 187.6,363.8 172.5,371.2" fill="#fbe3b5"/><polygon points="194.7,382.3 172.5,371.2 172.5,370 194.7,381.1" fill="#ffffff"/><polygon points="194.7,382.3 209.8,374.9 209.8,373.7 194.7,381.1" fill="#ffffff"/><polygon points="194.7,381.1 209.8,373.7 187.6,362.6 172.5,370" fill="#fbe3b5"/><polygon points="194.7,381.1 172.5,370 172.5,368.4 194.7,379.5" fill="#e53b3b"/><polygon points="194.7,381.1 209.8,373.7 209.8,372.1 194.7,379.5" fill="#d42a2a"/><polygon points="194.7,379.5 209.8,372.1 187.6,361 172.5,368.4" fill="#f6cf9a"/><polygon points="194.7,380.5 175,370.6 175,370.5 194.7,380.4" fill="#fbe3b5"/><polygon points="194.7,380.5 207.3,374.4 207.3,374.3 194.7,380.4" fill="#cdba94"/><polygon points="194.7,380.4 207.3,374.3 187.6,364.4 175,370.5" fill="#fbe3b5"/>
<rect x="435.2" y="393.6" width="0.7" height="2.4" fill="#9a5b2a"/><ellipse cx="435.6" cy="390.6" rx="3" ry="3.4" fill="#239638"/><ellipse cx="435" cy="389.7" rx="1.8" ry="2.1" fill="#3aae44"/>
<polygon points="483.5,397.3 472.3,391.7 472.3,373.7 483.5,379.3" fill="#f5a85a"/><polygon points="483.5,397.3 501.5,388.5 501.5,370.5 483.5,379.3" fill="#f07078"/><path d="M473.3 388.6L482.5 393.2" stroke="#6fb0e0" stroke-width="3" fill="none"/><path d="M484.5 393.2L500.5 385.4" stroke="#619ac5" stroke-width="3" fill="none"/><path d="M473.3 382.6L482.5 387.2" stroke="#6fb0e0" stroke-width="3" fill="none"/><path d="M484.5 387.2L500.5 379.4" stroke="#619ac5" stroke-width="3" fill="none"/><path d="M473.3 376.6L482.5 381.2" stroke="#6fb0e0" stroke-width="3" fill="none"/><path d="M484.5 381.2L500.5 373.4" stroke="#619ac5" stroke-width="3" fill="none"/><polygon points="483.5,379.3 501.5,370.5 490.3,364.9 472.3,373.7" fill="#7fd0c8"/>
<polygon points="488,388 496,384 496,391 488,395" fill="#f9d84a"/>
<polygon points="571,399 558.5,392.8 558.5,370.8 571,377" fill="#e6eef0"/><polygon points="571,399 575,397.1 575,375.1 571,377" fill="#3f8f9a"/><path d="M559.5 391.8L570 397" stroke="#a9c0c8" stroke-width="1.2" fill="none"/><path d="M572 397L574 396.1" stroke="#94a8b0" stroke-width="1.2" fill="none"/><path d="M559.5 389.3L570 394.6" stroke="#a9c0c8" stroke-width="1.2" fill="none"/><path d="M572 394.6L574 393.6" stroke="#94a8b0" stroke-width="1.2" fill="none"/><path d="M559.5 386.9L570 392.1" stroke="#a9c0c8" stroke-width="1.2" fill="none"/><path d="M572 392.2L574 391.2" stroke="#94a8b0" stroke-width="1.2" fill="none"/><path d="M559.5 384.4L570 389.7" stroke="#a9c0c8" stroke-width="1.2" fill="none"/><path d="M572 389.7L574 388.7" stroke="#94a8b0" stroke-width="1.2" fill="none"/><path d="M559.5 382L570 387.3" stroke="#a9c0c8" stroke-width="1.2" fill="none"/><path d="M572 387.3L574 386.3" stroke="#94a8b0" stroke-width="1.2" fill="none"/><path d="M559.5 379.6L570 384.8" stroke="#a9c0c8" stroke-width="1.2" fill="none"/><path d="M572 384.8L574 383.8" stroke="#94a8b0" stroke-width="1.2" fill="none"/><path d="M559.5 377.1L570 382.4" stroke="#a9c0c8" stroke-width="1.2" fill="none"/><path d="M572 382.4L574 381.4" stroke="#94a8b0" stroke-width="1.2" fill="none"/><path d="M559.5 374.7L570 379.9" stroke="#a9c0c8" stroke-width="1.2" fill="none"/><path d="M572 379.9L574 379" stroke="#94a8b0" stroke-width="1.2" fill="none"/><path d="M559.5 372.2L570 377.5" stroke="#a9c0c8" stroke-width="1.2" fill="none"/><path d="M572 377.5L574 376.5" stroke="#94a8b0" stroke-width="1.2" fill="none"/><polygon points="571,377 575,375.1 562.5,368.8 558.5,370.8" fill="#f2f6f7"/>
<polygon points="571,377 575,375 575,397 571,399" fill="#3f8f9a"/><path d="M571 381 l4 -2" stroke="#9fd0d6" stroke-width="0.8"/><path d="M571 385 l4 -2" stroke="#9fd0d6" stroke-width="0.8"/><path d="M571 389 l4 -2" stroke="#9fd0d6" stroke-width="0.8"/><path d="M571 393 l4 -2" stroke="#9fd0d6" stroke-width="0.8"/><path d="M571 397 l4 -2" stroke="#9fd0d6" stroke-width="0.8"/>
<polygon points="444,404 436,400 436,388 444,392" fill="#e8604a"/><polygon points="444,404 452,400.1 452,388.1 444,392" fill="#c83a2a"/><path d="M437 398.7L443 401.7" stroke="#f6d0c8" stroke-width="1.5" fill="none"/><path d="M445 401.7L451 398.8" stroke="#d8b7b0" stroke-width="1.5" fill="none"/><path d="M437 395.7L443 398.7" stroke="#f6d0c8" stroke-width="1.5" fill="none"/><path d="M445 398.7L451 395.8" stroke="#d8b7b0" stroke-width="1.5" fill="none"/><path d="M437 392.7L443 395.7" stroke="#f6d0c8" stroke-width="1.5" fill="none"/><path d="M445 395.7L451 392.8" stroke="#d8b7b0" stroke-width="1.5" fill="none"/><path d="M437 389.7L443 392.7" stroke="#f6d0c8" stroke-width="1.5" fill="none"/><path d="M445 392.7L451 389.8" stroke="#d8b7b0" stroke-width="1.5" fill="none"/><polygon points="444,392 452,388.1 444,384.1 436,388" fill="#f4f4f4"/>
<polygon points="420,401.5 410.4,396.7 410.4,378.7 420,383.5" fill="#f9d87a"/><polygon points="420,401.5 431.5,395.9 431.5,377.9 420,383.5" fill="#f0c060"/><polygon points="420,383.5 431.5,377.9 421.9,373.1 410.4,378.7" fill="#fbe9a8"/>
<polygon points="419,391 431.5,385 431.5,389.5 419,395.5" fill="#e0352a"/>
<rect x="252.1" y="398" width="1.2" height="4" fill="#9a5b2a"/><ellipse cx="252.7" cy="393" rx="5" ry="5.8" fill="#239638"/><ellipse cx="251.7" cy="391.5" rx="3" ry="3.5" fill="#3aae44"/>
<rect x="251.6" y="399" width="1.2" height="4" fill="#9a5b2a"/><ellipse cx="252.2" cy="394" rx="5" ry="5.8" fill="#239638"/><ellipse cx="251.2" cy="392.5" rx="3" ry="3.5" fill="#3aae44"/>
<rect x="214.4" y="399" width="1.2" height="4" fill="#9a5b2a"/><ellipse cx="215" cy="394" rx="5" ry="5.8" fill="#239638"/><ellipse cx="214" cy="392.5" rx="3" ry="3.5" fill="#3aae44"/>
<rect x="214.3" y="400" width="1.2" height="4" fill="#9a5b2a"/><ellipse cx="214.9" cy="395" rx="5" ry="5.8" fill="#239638"/><ellipse cx="213.9" cy="393.5" rx="3" ry="3.5" fill="#3aae44"/>
<polygon points="339.5,404.2 333.5,401.2 333.5,400 339.5,403" fill="#c9c9c9"/><polygon points="339.5,404.2 356.5,395.9 356.5,394.7 339.5,403" fill="#b5b5b5"/><polygon points="339.5,403 356.5,394.7 350.5,391.7 333.5,400" fill="#e3e3e3"/><ellipse cx="337" cy="400.9" rx="2.6" ry="1.5" fill="#1f8a2e"/><ellipse cx="352.5" cy="396" rx="2.6" ry="1.5" fill="#1f8a2e"/><polygon points="344,400.8 339,398.3 339,392.3 344,394.8" fill="#9fd6ea"/><polygon points="344,400.8 350.5,397.6 350.5,391.6 344,394.8" fill="#6fb7d6"/><polygon points="344,394.8 350.5,391.6 345.5,389.1 339,392.3" fill="#fff"/><polygon points="344,395.2 337,391.7 337,390.1 344,393.6" fill="#f39a1e"/><polygon points="344,395.2 352.5,391.1 352.5,389.5 344,393.6" fill="#e0801a"/><polygon points="344,393.6 352.5,389.5 345.5,386 337,390.1" fill="#fbd23c"/>
<polygon points="339,404.4 333,401.4 333,400.2 339,403.2" fill="#c9c9c9"/><polygon points="339,404.4 356,396.1 356,394.9 339,403.2" fill="#b5b5b5"/><polygon points="339,403.2 356,394.9 350,391.9 333,400.2" fill="#e3e3e3"/><ellipse cx="336.5" cy="401.1" rx="2.6" ry="1.5" fill="#1f8a2e"/><ellipse cx="352" cy="396.2" rx="2.6" ry="1.5" fill="#1f8a2e"/><polygon points="343.5,401 338.5,398.5 338.5,392.5 343.5,395" fill="#9fd6ea"/><polygon points="343.5,401 350,397.8 350,391.8 343.5,395" fill="#6fb7d6"/><polygon points="343.5,395 350,391.8 345,389.3 338.5,392.5" fill="#fff"/><polygon points="343.5,395.4 336.5,391.9 336.5,390.3 343.5,393.8" fill="#f39a1e"/><polygon points="343.5,395.4 352,391.3 352,389.7 343.5,393.8" fill="#e0801a"/><polygon points="343.5,393.8 352,389.7 345,386.2 336.5,390.3" fill="#fbd23c"/>
<polygon points="402.7,406.3 394.2,402.1 394.2,369.4 402.7,373.6" fill="#e4dfc2"/><polygon points="402.7,406.3 411.3,402.1 411.3,369.4 402.7,373.6" fill="#f6d878"/><path d="M395.2 400.4L401.7 403.6" stroke="#fbf6dc" stroke-width="1.8" fill="none"/><path d="M403.7 403.6L410.3 400.4" stroke="#dcd8c1" stroke-width="1.8" fill="none"/><path d="M395.2 396.7L401.7 400" stroke="#fbf6dc" stroke-width="1.8" fill="none"/><path d="M403.7 400L410.3 396.8" stroke="#dcd8c1" stroke-width="1.8" fill="none"/><path d="M395.2 393.1L401.7 396.4" stroke="#fbf6dc" stroke-width="1.8" fill="none"/><path d="M403.7 396.4L410.3 393.1" stroke="#dcd8c1" stroke-width="1.8" fill="none"/><path d="M395.2 389.5L401.7 392.7" stroke="#fbf6dc" stroke-width="1.8" fill="none"/><path d="M403.7 392.7L410.3 389.5" stroke="#dcd8c1" stroke-width="1.8" fill="none"/><path d="M395.2 385.8L401.7 389.1" stroke="#fbf6dc" stroke-width="1.8" fill="none"/><path d="M403.7 389.1L410.3 385.9" stroke="#dcd8c1" stroke-width="1.8" fill="none"/><path d="M395.2 382.2L401.7 385.5" stroke="#fbf6dc" stroke-width="1.8" fill="none"/><path d="M403.7 385.5L410.3 382.2" stroke="#dcd8c1" stroke-width="1.8" fill="none"/><path d="M395.2 378.6L401.7 381.8" stroke="#fbf6dc" stroke-width="1.8" fill="none"/><path d="M403.7 381.8L410.3 378.6" stroke="#dcd8c1" stroke-width="1.8" fill="none"/><path d="M395.2 374.9L401.7 378.2" stroke="#fbf6dc" stroke-width="1.8" fill="none"/><path d="M403.7 378.2L410.3 375" stroke="#dcd8c1" stroke-width="1.8" fill="none"/><path d="M395.2 371.3L401.7 374.6" stroke="#fbf6dc" stroke-width="1.8" fill="none"/><path d="M403.7 374.6L410.3 371.3" stroke="#dcd8c1" stroke-width="1.8" fill="none"/><polygon points="394.2,369.4 402.8,365.2 402.8,363.4" fill="#a21e17"/><polygon points="411.3,369.4 402.8,365.2 402.8,363.4" fill="#971c15"/><polygon points="402.7,373.6 394.2,369.4 402.8,363.4" fill="#d9281f"/><polygon points="402.7,373.6 411.3,369.4 402.8,363.4" fill="#b8221a"/>
<polygon points="391,374 396,376.5 396,394 391,391.5" fill="#ee6aa0"/>
<polygon points="408.5,407.3 405,405.6 405,399.6 408.5,401.3" fill="#f9d87a"/><polygon points="408.5,407.3 413,405.1 413,399.1 408.5,401.3" fill="#f0c060"/><polygon points="413,399.1 409.5,397.4 407.2,395.5 410.8,397.2" fill="#b8221a"/><polygon points="408.5,401.3 413,399.1 410.8,397.2" fill="#f0c060"/><polygon points="408.5,401.3 405,399.6 407.2,395.5 410.8,397.2" fill="#d9281f"/>
<polygon points="584,407.5 571,401 571,392 584,398.5" fill="#e9f0f2"/><polygon points="584,407.5 601,399.2 601,390.2 584,398.5" fill="#d0dde0"/><path d="M572 399.7L583 405.2" stroke="#a9c0c8" stroke-width="1.5" fill="none"/><path d="M585 405.2L600 397.9" stroke="#94a8b0" stroke-width="1.5" fill="none"/><path d="M572 396.7L583 402.2" stroke="#a9c0c8" stroke-width="1.5" fill="none"/><path d="M585 402.2L600 394.9" stroke="#94a8b0" stroke-width="1.5" fill="none"/><path d="M572 393.7L583 399.2" stroke="#a9c0c8" stroke-width="1.5" fill="none"/><path d="M585 399.2L600 391.9" stroke="#94a8b0" stroke-width="1.5" fill="none"/><polygon points="584,398.5 601,390.2 588,383.7 571,392" fill="#8fd0d0"/>
<polygon points="237.9,409.6 218.9,400.1 218.9,389.1 237.9,398.6" fill="#f6cfa8"/><polygon points="237.9,409.6 249.9,403.8 249.9,392.8 237.9,398.6" fill="#eab88e"/><polygon points="249.9,392.8 230.9,383.2 224.9,376.2 243.9,385.7" fill="#ca5a66"/><polygon points="237.9,398.6 249.9,392.8 243.9,385.7" fill="#eab88e"/><polygon points="237.9,398.6 218.9,389.1 224.9,376.2 243.9,385.7" fill="#ee6a78"/>
<polygon points="311.9,409.6 294.4,400.9 294.4,378.9 311.9,387.6" fill="#f3efd8"/><polygon points="311.9,409.6 331.9,399.9 331.9,377.9 311.9,387.6" fill="#e2dcc0"/><path d="M295.4 399.2L310.9 406.9" stroke="#b9dfe8" stroke-width="1.8" fill="none"/><path d="M312.9 406.9L330.9 398.1" stroke="#a2c4cc" stroke-width="1.8" fill="none"/><path d="M295.4 395.5L310.9 403.2" stroke="#b9dfe8" stroke-width="1.8" fill="none"/><path d="M312.9 403.2L330.9 394.5" stroke="#a2c4cc" stroke-width="1.8" fill="none"/><path d="M295.4 391.8L310.9 399.6" stroke="#b9dfe8" stroke-width="1.8" fill="none"/><path d="M312.9 399.6L330.9 390.8" stroke="#a2c4cc" stroke-width="1.8" fill="none"/><path d="M295.4 388.2L310.9 395.9" stroke="#b9dfe8" stroke-width="1.8" fill="none"/><path d="M312.9 395.9L330.9 387.1" stroke="#a2c4cc" stroke-width="1.8" fill="none"/><path d="M295.4 384.5L310.9 392.2" stroke="#b9dfe8" stroke-width="1.8" fill="none"/><path d="M312.9 392.2L330.9 383.5" stroke="#a2c4cc" stroke-width="1.8" fill="none"/><path d="M295.4 380.8L310.9 388.6" stroke="#b9dfe8" stroke-width="1.8" fill="none"/><path d="M312.9 388.6L330.9 379.8" stroke="#a2c4cc" stroke-width="1.8" fill="none"/><polygon points="294.4,378.9 314.4,369.1 313.1,369.4" fill="#a11c16"/><polygon points="331.9,377.9 314.4,369.1 313.1,369.4" fill="#961a15"/><polygon points="311.9,387.6 294.4,378.9 313.1,369.4" fill="#d7261e"/><polygon points="311.9,387.6 331.9,377.9 313.1,369.4" fill="#b62019"/>
<text x="313.5" y="389" font-size="5" fill="#fff" font-family="Liberation Sans" font-weight="bold">W</text>
<polygon points="498.5,410 492.5,407 492.5,405.8 498.5,408.8" fill="#c9c9c9"/><polygon points="498.5,410 515.5,401.7 515.5,400.5 498.5,408.8" fill="#b5b5b5"/><polygon points="498.5,408.8 515.5,400.5 509.5,397.5 492.5,405.8" fill="#e3e3e3"/><ellipse cx="496" cy="406.7" rx="2.6" ry="1.5" fill="#1f8a2e"/><ellipse cx="511.5" cy="401.8" rx="2.6" ry="1.5" fill="#1f8a2e"/><polygon points="503,406.6 498,404.1 498,398.1 503,400.6" fill="#9fd6ea"/><polygon points="503,406.6 509.5,403.4 509.5,397.4 503,400.6" fill="#6fb7d6"/><polygon points="503,400.6 509.5,397.4 504.5,394.9 498,398.1" fill="#fff"/><polygon points="503,401 496,397.5 496,395.9 503,399.4" fill="#f39a1e"/><polygon points="503,401 511.5,396.9 511.5,395.3 503,399.4" fill="#e0801a"/><polygon points="503,399.4 511.5,395.3 504.5,391.8 496,395.9" fill="#fbd23c"/>
<polygon points="135.2,410.6 116.2,401.1 116.2,391.1 135.2,400.6" fill="#2070c8"/><polygon points="135.2,410.6 143.9,406.4 143.9,396.4 135.2,400.6" fill="#174f9a"/><polygon points="135.2,400.6 143.9,396.4 124.9,386.9 116.2,391.1" fill="#f7f7f7"/>
<circle cx="135.5" cy="393.5" r="3" fill="#f5d21a"/><circle cx="135.5" cy="393.5" r="1.6" fill="#1f3f9a"/>
<polygon points="128,412.5 116,406.5 116,402 128,408" fill="#f7c31a"/><polygon points="128,412.5 132.5,410.3 132.5,405.8 128,408" fill="#e0a81a"/><path d="M117 404.3L127 409.3" stroke="#6ab0e6" stroke-width="2.2" fill="none"/><path d="M129 409.3L131.5 408.1" stroke="#5a9cd6" stroke-width="2.2" fill="none"/><polygon points="128,408 132.5,405.8 120.5,399.8 116,402" fill="#fbe06a"/>
<polygon points="187.6,412.4 183.6,410.4 183.6,407.4 187.6,409.4" fill="#f58ab0"/><polygon points="187.6,412.4 195.1,408.7 195.1,405.7 187.6,409.4" fill="#bf6b89"/><polygon points="187.6,409.4 195.1,405.7 191.1,403.7 183.6,407.4" fill="#f7a7c3"/><polygon points="188.2,409.2 184.8,407.5 184.8,405.3 188.2,407" fill="#e8f2fa"/><polygon points="188.2,409.2 192.7,407 192.7,404.8 188.2,407" fill="#c4d8ea"/><polygon points="188.2,407 192.7,404.8 189.3,403.1 184.8,405.3" fill="#ffffff"/>
<polygon points="578.5,411 582.1,411 580.3,402.6" fill="#2a9d3a"/><rect x="579.8" y="411" width="1" height="2" fill="#9a5b2a"/>
<polygon points="441,401 450,396.5 456,399.5 447,404" fill="#f6a6c0"/>
<polygon points="447,417 434,410.5 434,397.5 447,404" fill="#e8503a"/><polygon points="447,417 460,410.7 460,397.7 447,404" fill="#c83a2a"/><polygon points="447,404 460,397.7 447,391.2 434,397.5" fill="#f4f4f4"/>
<polygon points="571,414 557,407 557,402.5 571,409.5" fill="#f7c31a"/><polygon points="571,414 575.5,411.8 575.5,407.3 571,409.5" fill="#d9ab16"/><path d="M558 404.8L570 410.8" stroke="#6ab0e6" stroke-width="2.2" fill="none"/><path d="M572 410.8L574.5 409.6" stroke="#5a9cd6" stroke-width="2.2" fill="none"/><polygon points="571,409.5 575.5,407.3 561.5,400.3 557,402.5" fill="#f9d55e"/>
<polygon points="529,414 533,414 531,404.3" fill="#2a9d3a"/><rect x="530.5" y="414" width="1" height="2" fill="#9a5b2a"/>
<polygon points="225,416.5 221,414.5 221,411.5 225,413.5" fill="#2a5fc8"/><polygon points="225,416.5 232.5,412.8 232.5,409.8 225,413.5" fill="#204a9c"/><polygon points="225,413.5 232.5,409.8 228.5,407.8 221,411.5" fill="#5f87d5"/><polygon points="225.6,413.3 222.2,411.6 222.2,409.4 225.6,411.1" fill="#e8f2fa"/><polygon points="225.6,413.3 230.1,411.1 230.1,408.9 225.6,411.1" fill="#c4d8ea"/><polygon points="225.6,411.1 230.1,408.9 226.7,407.2 222.2,409.4" fill="#ffffff"/>
<rect x="591.7" y="417" width="0.6" height="2" fill="#9a5b2a"/><ellipse cx="592" cy="414.5" rx="2.5" ry="2.9" fill="#239638"/><ellipse cx="591.5" cy="413.8" rx="1.5" ry="1.8" fill="#3aae44"/>
<rect x="397.1" y="416" width="1.2" height="4" fill="#9a5b2a"/><ellipse cx="397.7" cy="411" rx="5" ry="5.8" fill="#239638"/><ellipse cx="396.7" cy="409.5" rx="3" ry="3.5" fill="#3aae44"/>
<rect x="396.4" y="417" width="1.2" height="4" fill="#9a5b2a"/><ellipse cx="397" cy="412" rx="5" ry="5.8" fill="#239638"/><ellipse cx="396" cy="410.5" rx="3" ry="3.5" fill="#3aae44"/>
<polygon points="159.4,421 155.4,419 155.4,416 159.4,418" fill="#2a5fc8"/><polygon points="159.4,421 166.9,417.3 166.9,414.3 159.4,418" fill="#204a9c"/><polygon points="159.4,418 166.9,414.3 162.9,412.3 155.4,416" fill="#5f87d5"/><polygon points="160,417.8 156.6,416.1 156.6,413.9 160,415.6" fill="#e8f2fa"/><polygon points="160,417.8 164.5,415.6 164.5,413.4 160,415.6" fill="#c4d8ea"/><polygon points="160,415.6 164.5,413.4 161.1,411.7 156.6,413.9" fill="#ffffff"/>
<rect x="94.9" y="409.3" width="1.3" height="13.4" fill="#222"/><rect x="100.4" y="408.2" width="1.3" height="14.8" fill="#222"/><rect x="105.9" y="408.9" width="1.3" height="13.9" fill="#222"/><rect x="108.9" y="409.5" width="1.3" height="13.1" fill="#222"/><path d="M95.5 423L101 412M95.5 412L101 424M101 424L109.5 411M101 412L109.5 421" stroke="#333" stroke-width="0.6"/><polygon points="101,410 94.5,406.8 94.5,397.8 101,401" fill="#2b2b2b"/><polygon points="101,410 110,405.6 110,396.6 101,401" fill="#111"/><polygon points="101,401 110,396.6 103.5,393.4 94.5,397.8" fill="#8c8c8c"/><circle cx="99" cy="403" r="2.6" fill="#fff"/><rect x="103" y="388" width="0.7" height="7" fill="#777"/><polygon points="103.7,388 107,389 103.7,390.5" fill="#e33"/>
<polygon points="274,424 269,421.5 269,412.5 274,415" fill="#f2c060"/><polygon points="274,424 295.5,413.5 295.5,404.5 274,415" fill="#e8b050"/><polygon points="269,412.5 290.5,402 293,398.3 271.5,408.8" fill="#825a31"/><polygon points="274,415 269,412.5 271.5,408.8" fill="#f2c060"/><polygon points="274,415 295.5,404.5 293,398.3 271.5,408.8" fill="#9a6a3a"/>
<rect x="328.8" y="420" width="1.2" height="4" fill="#9a5b2a"/><ellipse cx="329.4" cy="415" rx="5" ry="5.8" fill="#239638"/><ellipse cx="328.4" cy="413.5" rx="3" ry="3.5" fill="#3aae44"/>
<polygon points="266.1,424.4 259.4,421 259.4,394 266.1,397.4" fill="#f9e08a"/><polygon points="266.1,424.4 272.8,421.1 272.8,394.1 266.1,397.4" fill="#e8c860"/><polygon points="259.4,394 266.1,390.8 266.1,386.1" fill="#172f5b"/><polygon points="272.8,394.1 266.1,390.8 266.1,386.1" fill="#152c55"/><polygon points="266.1,397.4 259.4,394 266.1,386.1" fill="#1f3f7a"/><polygon points="266.1,397.4 272.8,394.1 266.1,386.1" fill="#1a3567"/>
<polygon points="452,411 466,404 473,407.5 459,414.5" fill="#f6a6c0"/>
<polygon points="462,425.5 448,418.5 448,407.5 462,414.5" fill="#e8503a"/><polygon points="462,425.5 480,416.7 480,405.7 462,414.5" fill="#c83a2a"/><polygon points="462,414.5 480,405.7 466,398.7 448,407.5" fill="#f4f4f4"/>
<polygon points="287.5,429.8 281.5,426.8 281.5,425.6 287.5,428.6" fill="#c9c9c9"/><polygon points="287.5,429.8 304.5,421.5 304.5,420.3 287.5,428.6" fill="#b5b5b5"/><polygon points="287.5,428.6 304.5,420.3 298.5,417.3 281.5,425.6" fill="#e3e3e3"/><ellipse cx="285" cy="426.5" rx="2.6" ry="1.5" fill="#1f8a2e"/><ellipse cx="300.5" cy="421.6" rx="2.6" ry="1.5" fill="#1f8a2e"/><polygon points="292,426.4 287,423.9 287,417.9 292,420.4" fill="#9fd6ea"/><polygon points="292,426.4 298.5,423.2 298.5,417.2 292,420.4" fill="#6fb7d6"/><polygon points="292,420.4 298.5,417.2 293.5,414.7 287,417.9" fill="#fff"/><polygon points="292,420.8 285,417.3 285,415.7 292,419.2" fill="#f39a1e"/><polygon points="292,420.8 300.5,416.7 300.5,415.1 292,419.2" fill="#e0801a"/><polygon points="292,419.2 300.5,415.1 293.5,411.6 285,415.7" fill="#fbd23c"/>
<rect x="132.7" y="426" width="1.2" height="4" fill="#9a5b2a"/><ellipse cx="133.3" cy="421" rx="5" ry="5.8" fill="#239638"/><ellipse cx="132.3" cy="419.5" rx="3" ry="3.5" fill="#3aae44"/>
<polygon points="535.1,431 515.9,421.4 515.9,408.9 535.1,418.5" fill="#c2c088"/><polygon points="535.1,431 561.9,417.9 561.9,405.4 535.1,418.5" fill="#a8a66c"/><polygon points="535.1,418.5 561.9,405.4 542.7,395.8 515.9,408.9" fill="#dcdcb0"/>
<polygon points="535.1,416.5 559.5,404.6 543.5,396.5 519,408.5" fill="#e6e4c0"/>
<polygon points="547,410 537,405 537,389 547,394" fill="#c2c088"/><polygon points="547,410 557,405.1 557,389.1 547,394" fill="#a8a66c"/><path d="M538 400.7L546 404.7" stroke="#8fc8d8" stroke-width="4" fill="none"/><path d="M548 404.7L556 400.8" stroke="#7db0be" stroke-width="4" fill="none"/><path d="M538 392.7L546 396.7" stroke="#8fc8d8" stroke-width="4" fill="none"/><path d="M548 396.7L556 392.8" stroke="#7db0be" stroke-width="4" fill="none"/><polygon points="547,394 557,389.1 547,384.1 537,389" fill="#dcdcb0"/>
<polygon points="371,434.2 347,422.2 347,379.2 371,391.2" fill="#f7f7f7"/><polygon points="371,434.2 387.3,426.3 387.3,383.3 371,391.2" fill="#e6e0ee"/><path d="M348 421.5L370 432.5" stroke="#d2d2d6" stroke-width="1" fill="none"/><path d="M372 432.5L386.3 425.5" stroke="#b8b8bc" stroke-width="1" fill="none"/><path d="M348 419.4L370 430.4" stroke="#d2d2d6" stroke-width="1" fill="none"/><path d="M372 430.4L386.3 423.5" stroke="#b8b8bc" stroke-width="1" fill="none"/><path d="M348 417.4L370 428.4" stroke="#d2d2d6" stroke-width="1" fill="none"/><path d="M372 428.4L386.3 421.4" stroke="#b8b8bc" stroke-width="1" fill="none"/><path d="M348 415.3L370 426.3" stroke="#d2d2d6" stroke-width="1" fill="none"/><path d="M372 426.3L386.3 419.4" stroke="#b8b8bc" stroke-width="1" fill="none"/><path d="M348 413.3L370 424.3" stroke="#d2d2d6" stroke-width="1" fill="none"/><path d="M372 424.3L386.3 417.3" stroke="#b8b8bc" stroke-width="1" fill="none"/><path d="M348 411.2L370 422.2" stroke="#d2d2d6" stroke-width="1" fill="none"/><path d="M372 422.2L386.3 415.3" stroke="#b8b8bc" stroke-width="1" fill="none"/><path d="M348 409.2L370 420.2" stroke="#d2d2d6" stroke-width="1" fill="none"/><path d="M372 420.2L386.3 413.2" stroke="#b8b8bc" stroke-width="1" fill="none"/><path d="M348 407.1L370 418.1" stroke="#d2d2d6" stroke-width="1" fill="none"/><path d="M372 418.2L386.3 411.2" stroke="#b8b8bc" stroke-width="1" fill="none"/><path d="M348 405.1L370 416.1" stroke="#d2d2d6" stroke-width="1" fill="none"/><path d="M372 416.1L386.3 409.1" stroke="#b8b8bc" stroke-width="1" fill="none"/><path d="M348 403L370 414" stroke="#d2d2d6" stroke-width="1" fill="none"/><path d="M372 414.1L386.3 407.1" stroke="#b8b8bc" stroke-width="1" fill="none"/><path d="M348 401L370 412" stroke="#d2d2d6" stroke-width="1" fill="none"/><path d="M372 412L386.3 405" stroke="#b8b8bc" stroke-width="1" fill="none"/><path d="M348 398.9L370 409.9" stroke="#d2d2d6" stroke-width="1" fill="none"/><path d="M372 410L386.3 403" stroke="#b8b8bc" stroke-width="1" fill="none"/><path d="M348 396.9L370 407.9" stroke="#d2d2d6" stroke-width="1" fill="none"/><path d="M372 407.9L386.3 400.9" stroke="#b8b8bc" stroke-width="1" fill="none"/><path d="M348 394.9L370 405.9" stroke="#d2d2d6" stroke-width="1" fill="none"/><path d="M372 405.9L386.3 398.9" stroke="#b8b8bc" stroke-width="1" fill="none"/><path d="M348 392.8L370 403.8" stroke="#d2d2d6" stroke-width="1" fill="none"/><path d="M372 403.8L386.3 396.8" stroke="#b8b8bc" stroke-width="1" fill="none"/><path d="M348 390.8L370 401.8" stroke="#d2d2d6" stroke-width="1" fill="none"/><path d="M372 401.8L386.3 394.8" stroke="#b8b8bc" stroke-width="1" fill="none"/><path d="M348 388.7L370 399.7" stroke="#d2d2d6" stroke-width="1" fill="none"/><path d="M372 399.7L386.3 392.8" stroke="#b8b8bc" stroke-width="1" fill="none"/><path d="M348 386.7L370 397.7" stroke="#d2d2d6" stroke-width="1" fill="none"/><path d="M372 397.7L386.3 390.7" stroke="#b8b8bc" stroke-width="1" fill="none"/><path d="M348 384.6L370 395.6" stroke="#d2d2d6" stroke-width="1" fill="none"/><path d="M372 395.6L386.3 388.7" stroke="#b8b8bc" stroke-width="1" fill="none"/><path d="M348 382.6L370 393.6" stroke="#d2d2d6" stroke-width="1" fill="none"/><path d="M372 393.6L386.3 386.6" stroke="#b8b8bc" stroke-width="1" fill="none"/><path d="M348 380.5L370 391.5" stroke="#d2d2d6" stroke-width="1" fill="none"/><path d="M372 391.5L386.3 384.6" stroke="#b8b8bc" stroke-width="1" fill="none"/><polygon points="371,391.2 387.3,383.3 363.3,371.3 347,379.2" fill="#ffffff"/>
<polygon points="374.8,388 357.8,379.5 357.8,366.5 374.8,375" fill="#c4c4c4"/><polygon points="374.8,388 385.8,382.6 385.8,369.6 374.8,375" fill="#a8a8a8"/><polygon points="374.8,375 385.8,369.6 368.8,361.1 357.8,366.5" fill="#dcdcdc"/><polygon points="358,381 374.8,389.3 374.8,385.3 358,377" fill="#6fc0e8"/><polygon points="366,368.5 377,374 383,371 372,365.5" fill="#555"/>
<rect x="410" y="428" width="1" height="9" fill="#ddd"/><rect x="421" y="434" width="1" height="9" fill="#ddd"/><rect x="432" y="428" width="1" height="9" fill="#ddd"/><polygon points="421.5,434.5 408.5,428 408.5,425.8 421.5,432.3" fill="#2a7fd8"/><polygon points="421.5,434.5 434,428.4 434,426.2 421.5,432.3" fill="#1f5fb8"/><polygon points="421.5,432.3 434,426.2 421,419.7 408.5,425.8" fill="#c9904a"/>
<polygon points="189.4,436 185.4,434 185.4,431 189.4,433" fill="#f58ab0"/><polygon points="189.4,436 196.9,432.3 196.9,429.3 189.4,433" fill="#bf6b89"/><polygon points="189.4,433 196.9,429.3 192.9,427.3 185.4,431" fill="#f7a7c3"/><polygon points="190,432.8 186.6,431.1 186.6,428.9 190,430.6" fill="#e8f2fa"/><polygon points="190,432.8 194.5,430.6 194.5,428.4 190,430.6" fill="#c4d8ea"/><polygon points="190,430.6 194.5,428.4 191.1,426.7 186.6,428.9" fill="#ffffff"/>
<polygon points="87.1,438.5 75.6,432.8 75.6,414.8 87.1,420.5" fill="#f9d87a"/><polygon points="87.1,438.5 98.6,432.9 98.6,414.9 87.1,420.5" fill="#f0c060"/><polygon points="87.1,420.5 98.6,414.9 87.1,409.1 75.6,414.8" fill="#fbe9a8"/>
<polygon points="84,427 98.7,420 98.7,424.5 84,431.5" fill="#e0352a"/>
<polygon points="397,439 386.5,433.8 386.5,425.8 397,431" fill="#f6e6b0"/><polygon points="397,439 406.5,434.4 406.5,426.4 397,431" fill="#e8d090"/><polygon points="397,431 406.5,426.4 396,421.1 386.5,425.8" fill="#c9904a"/>
<rect x="404.5" y="434" width="4" height="3" fill="#3a7fd8"/><rect x="406" y="437" width="0.8" height="9" fill="#bbb"/>
<polygon points="495,432 486,427.5 486,407.5 495,412" fill="#e0e0e0"/><polygon points="495,432 502,428.6 502,408.6 495,412" fill="#a0a0a0"/><polygon points="495,412 502,408.6 493,404.1 486,407.5" fill="#f2f2f2"/>
<polygon points="500.7,442.5 485.7,435 485.7,418 500.7,425.5" fill="#d8d8d8"/><polygon points="500.7,442.5 510.7,437.6 510.7,420.6 500.7,425.5" fill="#8a8a8a"/><polygon points="500.7,425.5 510.7,420.6 495.7,413.1 485.7,418" fill="#ececec"/>
<polygon points="570,443 557.5,436.8 557.5,425.8 570,432" fill="#e8e0b0"/><polygon points="570,443 594,431.3 594,420.3 570,432" fill="#d8cc90"/><polygon points="557.5,425.8 581.5,414.1 575.8,414" fill="#ae362f"/><polygon points="594,420.3 581.5,414.1 575.8,414" fill="#a2322c"/><polygon points="570,432 557.5,425.8 575.8,414" fill="#e8483f"/><polygon points="570,432 594,420.3 575.8,414" fill="#c53d35"/>
<polygon points="528.5,443.5 524.5,441.5 524.5,438.5 528.5,440.5" fill="#f58ab0"/><polygon points="528.5,443.5 536,439.8 536,436.8 528.5,440.5" fill="#bf6b89"/><polygon points="528.5,440.5 536,436.8 532,434.8 524.5,438.5" fill="#f7a7c3"/><polygon points="529.1,440.3 525.7,438.6 525.7,436.4 529.1,438.1" fill="#e8f2fa"/><polygon points="529.1,440.3 533.6,438.1 533.6,435.9 529.1,438.1" fill="#c4d8ea"/><polygon points="529.1,438.1 533.6,435.9 530.2,434.2 525.7,436.4" fill="#ffffff"/>
<rect x="250.2" y="440" width="1.2" height="4" fill="#9a5b2a"/><ellipse cx="250.8" cy="435" rx="5" ry="5.8" fill="#239638"/><ellipse cx="249.8" cy="433.5" rx="3" ry="3.5" fill="#3aae44"/>
<rect x="250.7" y="440" width="1.2" height="4" fill="#9a5b2a"/><ellipse cx="251.3" cy="435" rx="5" ry="5.8" fill="#239638"/><ellipse cx="250.3" cy="433.5" rx="3" ry="3.5" fill="#3aae44"/>
<polygon points="68.8,445.2 57.3,439.4 57.3,405.8 68.8,411.5" fill="#e4dfc2"/><polygon points="68.8,445.2 76.5,441.4 76.5,407.7 68.8,411.5" fill="#f6d878"/><path d="M58.3 437.7L67.8 442.5" stroke="#fbf6dc" stroke-width="1.9" fill="none"/><path d="M69.8 442.5L75.5 439.7" stroke="#dcd8c1" stroke-width="1.9" fill="none"/><path d="M58.3 434L67.8 438.7" stroke="#fbf6dc" stroke-width="1.9" fill="none"/><path d="M69.8 438.7L75.5 435.9" stroke="#dcd8c1" stroke-width="1.9" fill="none"/><path d="M58.3 430.2L67.8 435" stroke="#fbf6dc" stroke-width="1.9" fill="none"/><path d="M69.8 435L75.5 432.2" stroke="#dcd8c1" stroke-width="1.9" fill="none"/><path d="M58.3 426.5L67.8 431.2" stroke="#fbf6dc" stroke-width="1.9" fill="none"/><path d="M69.8 431.2L75.5 428.5" stroke="#dcd8c1" stroke-width="1.9" fill="none"/><path d="M58.3 422.7L67.8 427.5" stroke="#fbf6dc" stroke-width="1.9" fill="none"/><path d="M69.8 427.5L75.5 424.7" stroke="#dcd8c1" stroke-width="1.9" fill="none"/><path d="M58.3 419L67.8 423.7" stroke="#fbf6dc" stroke-width="1.9" fill="none"/><path d="M69.8 423.7L75.5 421" stroke="#dcd8c1" stroke-width="1.9" fill="none"/><path d="M58.3 415.2L67.8 420" stroke="#fbf6dc" stroke-width="1.9" fill="none"/><path d="M69.8 420L75.5 417.2" stroke="#dcd8c1" stroke-width="1.9" fill="none"/><path d="M58.3 411.5L67.8 416.2" stroke="#fbf6dc" stroke-width="1.9" fill="none"/><path d="M69.8 416.3L75.5 413.5" stroke="#dcd8c1" stroke-width="1.9" fill="none"/><path d="M58.3 407.7L67.8 412.5" stroke="#fbf6dc" stroke-width="1.9" fill="none"/><path d="M69.8 412.5L75.5 409.7" stroke="#dcd8c1" stroke-width="1.9" fill="none"/><polygon points="57.3,405.8 65,402 66.9,400.7" fill="#a21e17"/><polygon points="76.5,407.7 65,402 66.9,400.7" fill="#971c15"/><polygon points="68.8,411.5 57.3,405.8 66.9,400.7" fill="#d9281f"/><polygon points="68.8,411.5 76.5,407.7 66.9,400.7" fill="#b8221a"/>
<polygon points="53.8,409 59.2,411.7 59.2,430 53.8,427.3" fill="#ee6aa0"/>
<polygon points="73,446.5 69.5,444.8 69.5,438.8 73,440.5" fill="#f9d87a"/><polygon points="73,446.5 77.5,444.3 77.5,438.3 73,440.5" fill="#f0c060"/><polygon points="77.5,438.3 74,436.6 71.8,434.7 75.2,436.4" fill="#b8221a"/><polygon points="73,440.5 77.5,438.3 75.2,436.4" fill="#f0c060"/><polygon points="73,440.5 69.5,438.8 71.8,434.7 75.2,436.4" fill="#d9281f"/>
<polygon points="415.5,448.6 411.5,446.6 411.5,443.6 415.5,445.6" fill="#f58ab0"/><polygon points="415.5,448.6 423,444.9 423,441.9 415.5,445.6" fill="#bf6b89"/><polygon points="415.5,445.6 423,441.9 419,439.9 411.5,443.6" fill="#f7a7c3"/><polygon points="416.1,445.4 412.7,443.7 412.7,441.5 416.1,443.2" fill="#e8f2fa"/><polygon points="416.1,445.4 420.6,443.2 420.6,441 416.1,443.2" fill="#c4d8ea"/><polygon points="416.1,443.2 420.6,441 417.2,439.3 412.7,441.5" fill="#ffffff"/>
<polygon points="582.8,451.9 572.8,446.9 572.8,436.9 582.8,441.9" fill="#f5dc6a"/><polygon points="582.8,451.9 597,445 597,435 582.8,441.9" fill="#e8c84a"/><polygon points="572.8,436.9 587,430 592,428.5 577.8,435.4" fill="#c53d35"/><polygon points="582.8,441.9 572.8,436.9 577.8,435.4" fill="#f5dc6a"/><polygon points="582.8,441.9 597,435 592,428.5 577.8,435.4" fill="#e8483f"/>
<polygon points="502.5,457 498,454.8 498,450.2 502.5,452.5" fill="#f7c31a"/><polygon points="502.5,457 516.5,450.2 516.5,445.7 502.5,452.5" fill="#d9ab16"/><path d="M499 452.6L501.5 453.8" stroke="#6ab0e6" stroke-width="2.2" fill="none"/><path d="M503.5 453.8L515.5 448" stroke="#5a9cd6" stroke-width="2.2" fill="none"/><polygon points="502.5,452.5 516.5,445.7 512,443.4 498,450.2" fill="#f9d55e"/>
<polygon points="454.4,457.9 446.1,453.8 446.1,418.8 454.4,422.9" fill="#dca8d6"/><polygon points="454.4,457.9 464.4,453 464.4,418 454.4,422.9" fill="#f28aa4"/><path d="M447.1 453L453.4 456.2" stroke="#c07ab4" stroke-width="1" fill="none"/><path d="M455.4 456.2L463.4 452.3" stroke="#f8bccb" stroke-width="1" fill="none"/><path d="M447.1 451L453.4 454.1" stroke="#c07ab4" stroke-width="1" fill="none"/><path d="M455.4 454.1L463.4 450.2" stroke="#f8bccb" stroke-width="1" fill="none"/><path d="M447.1 448.9L453.4 452" stroke="#c07ab4" stroke-width="1" fill="none"/><path d="M455.4 452.1L463.4 448.2" stroke="#f8bccb" stroke-width="1" fill="none"/><path d="M447.1 446.8L453.4 450" stroke="#c07ab4" stroke-width="1" fill="none"/><path d="M455.4 450L463.4 446.1" stroke="#f8bccb" stroke-width="1" fill="none"/><path d="M447.1 444.8L453.4 447.9" stroke="#c07ab4" stroke-width="1" fill="none"/><path d="M455.4 447.9L463.4 444" stroke="#f8bccb" stroke-width="1" fill="none"/><path d="M447.1 442.7L453.4 445.9" stroke="#c07ab4" stroke-width="1" fill="none"/><path d="M455.4 445.9L463.4 442" stroke="#f8bccb" stroke-width="1" fill="none"/><path d="M447.1 440.7L453.4 443.8" stroke="#c07ab4" stroke-width="1" fill="none"/><path d="M455.4 443.8L463.4 439.9" stroke="#f8bccb" stroke-width="1" fill="none"/><path d="M447.1 438.6L453.4 441.8" stroke="#c07ab4" stroke-width="1" fill="none"/><path d="M455.4 441.8L463.4 437.9" stroke="#f8bccb" stroke-width="1" fill="none"/><path d="M447.1 436.5L453.4 439.7" stroke="#c07ab4" stroke-width="1" fill="none"/><path d="M455.4 439.7L463.4 435.8" stroke="#f8bccb" stroke-width="1" fill="none"/><path d="M447.1 434.5L453.4 437.6" stroke="#c07ab4" stroke-width="1" fill="none"/><path d="M455.4 437.6L463.4 433.7" stroke="#f8bccb" stroke-width="1" fill="none"/><path d="M447.1 432.4L453.4 435.6" stroke="#c07ab4" stroke-width="1" fill="none"/><path d="M455.4 435.6L463.4 431.7" stroke="#f8bccb" stroke-width="1" fill="none"/><path d="M447.1 430.4L453.4 433.5" stroke="#c07ab4" stroke-width="1" fill="none"/><path d="M455.4 433.5L463.4 429.6" stroke="#f8bccb" stroke-width="1" fill="none"/><path d="M447.1 428.3L453.4 431.5" stroke="#c07ab4" stroke-width="1" fill="none"/><path d="M455.4 431.5L463.4 427.6" stroke="#f8bccb" stroke-width="1" fill="none"/><path d="M447.1 426.2L453.4 429.4" stroke="#c07ab4" stroke-width="1" fill="none"/><path d="M455.4 429.4L463.4 425.5" stroke="#f8bccb" stroke-width="1" fill="none"/><path d="M447.1 424.2L453.4 427.3" stroke="#c07ab4" stroke-width="1" fill="none"/><path d="M455.4 427.4L463.4 423.5" stroke="#f8bccb" stroke-width="1" fill="none"/><path d="M447.1 422.1L453.4 425.3" stroke="#c07ab4" stroke-width="1" fill="none"/><path d="M455.4 425.3L463.4 421.4" stroke="#f8bccb" stroke-width="1" fill="none"/><path d="M447.1 420.1L453.4 423.2" stroke="#c07ab4" stroke-width="1" fill="none"/><path d="M455.4 423.2L463.4 419.3" stroke="#f8bccb" stroke-width="1" fill="none"/><polygon points="454.4,422.9 464.4,418 456.1,413.9 446.1,418.8" fill="#fbfbfb"/>
<polygon points="227.5,462.4 205.5,451.4 205.5,431.4 227.5,442.4" fill="#8fd6c8"/><polygon points="227.5,462.4 242.5,455.1 242.5,435.1 227.5,442.4" fill="#6fc0b2"/><path d="M206.5 450.2L226.5 460.2" stroke="#eafaf6" stroke-width="1.4" fill="none"/><path d="M228.5 460.2L241.5 453.9" stroke="#cddcd8" stroke-width="1.4" fill="none"/><path d="M206.5 447.3L226.5 457.3" stroke="#eafaf6" stroke-width="1.4" fill="none"/><path d="M228.5 457.3L241.5 451" stroke="#cddcd8" stroke-width="1.4" fill="none"/><path d="M206.5 444.5L226.5 454.5" stroke="#eafaf6" stroke-width="1.4" fill="none"/><path d="M228.5 454.5L241.5 448.1" stroke="#cddcd8" stroke-width="1.4" fill="none"/><path d="M206.5 441.6L226.5 451.6" stroke="#eafaf6" stroke-width="1.4" fill="none"/><path d="M228.5 451.6L241.5 445.3" stroke="#cddcd8" stroke-width="1.4" fill="none"/><path d="M206.5 438.8L226.5 448.8" stroke="#eafaf6" stroke-width="1.4" fill="none"/><path d="M228.5 448.8L241.5 442.4" stroke="#cddcd8" stroke-width="1.4" fill="none"/><path d="M206.5 435.9L226.5 445.9" stroke="#eafaf6" stroke-width="1.4" fill="none"/><path d="M228.5 445.9L241.5 439.6" stroke="#cddcd8" stroke-width="1.4" fill="none"/><path d="M206.5 433L226.5 443" stroke="#eafaf6" stroke-width="1.4" fill="none"/><path d="M228.5 443.1L241.5 436.7" stroke="#cddcd8" stroke-width="1.4" fill="none"/><polygon points="227.5,442.4 242.5,435.1 220.5,424.1 205.5,431.4" fill="#6fc0b0"/>
<polygon points="226,437 217,432.5 217,430 226,434.5" fill="#5fb0a0"/><polygon points="226,437 233,433.6 233,431.1 226,434.5" fill="#4d9083"/><polygon points="226,434.5 233,431.1 224,426.6 217,430" fill="#8fd6c8"/>
<polygon points="441.4,465.1 433.1,461 433.1,426 441.4,430.1" fill="#dcb8a6"/><polygon points="441.4,465.1 451.4,460.2 451.4,425.2 441.4,430.1" fill="#ecc4b0"/><path d="M434.1 460.2L440.4 463.4" stroke="#c8a08c" stroke-width="1" fill="none"/><path d="M442.4 463.4L450.4 459.5" stroke="#f8e2d6" stroke-width="1" fill="none"/><path d="M434.1 458.2L440.4 461.3" stroke="#c8a08c" stroke-width="1" fill="none"/><path d="M442.4 461.3L450.4 457.4" stroke="#f8e2d6" stroke-width="1" fill="none"/><path d="M434.1 456.1L440.4 459.2" stroke="#c8a08c" stroke-width="1" fill="none"/><path d="M442.4 459.3L450.4 455.4" stroke="#f8e2d6" stroke-width="1" fill="none"/><path d="M434.1 454L440.4 457.2" stroke="#c8a08c" stroke-width="1" fill="none"/><path d="M442.4 457.2L450.4 453.3" stroke="#f8e2d6" stroke-width="1" fill="none"/><path d="M434.1 452L440.4 455.1" stroke="#c8a08c" stroke-width="1" fill="none"/><path d="M442.4 455.1L450.4 451.2" stroke="#f8e2d6" stroke-width="1" fill="none"/><path d="M434.1 449.9L440.4 453.1" stroke="#c8a08c" stroke-width="1" fill="none"/><path d="M442.4 453.1L450.4 449.2" stroke="#f8e2d6" stroke-width="1" fill="none"/><path d="M434.1 447.9L440.4 451" stroke="#c8a08c" stroke-width="1" fill="none"/><path d="M442.4 451L450.4 447.1" stroke="#f8e2d6" stroke-width="1" fill="none"/><path d="M434.1 445.8L440.4 449" stroke="#c8a08c" stroke-width="1" fill="none"/><path d="M442.4 449L450.4 445.1" stroke="#f8e2d6" stroke-width="1" fill="none"/><path d="M434.1 443.7L440.4 446.9" stroke="#c8a08c" stroke-width="1" fill="none"/><path d="M442.4 446.9L450.4 443" stroke="#f8e2d6" stroke-width="1" fill="none"/><path d="M434.1 441.7L440.4 444.8" stroke="#c8a08c" stroke-width="1" fill="none"/><path d="M442.4 444.8L450.4 440.9" stroke="#f8e2d6" stroke-width="1" fill="none"/><path d="M434.1 439.6L440.4 442.8" stroke="#c8a08c" stroke-width="1" fill="none"/><path d="M442.4 442.8L450.4 438.9" stroke="#f8e2d6" stroke-width="1" fill="none"/><path d="M434.1 437.6L440.4 440.7" stroke="#c8a08c" stroke-width="1" fill="none"/><path d="M442.4 440.7L450.4 436.8" stroke="#f8e2d6" stroke-width="1" fill="none"/><path d="M434.1 435.5L440.4 438.7" stroke="#c8a08c" stroke-width="1" fill="none"/><path d="M442.4 438.7L450.4 434.8" stroke="#f8e2d6" stroke-width="1" fill="none"/><path d="M434.1 433.5L440.4 436.6" stroke="#c8a08c" stroke-width="1" fill="none"/><path d="M442.4 436.6L450.4 432.7" stroke="#f8e2d6" stroke-width="1" fill="none"/><path d="M434.1 431.4L440.4 434.5" stroke="#c8a08c" stroke-width="1" fill="none"/><path d="M442.4 434.6L450.4 430.7" stroke="#f8e2d6" stroke-width="1" fill="none"/><path d="M434.1 429.3L440.4 432.5" stroke="#c8a08c" stroke-width="1" fill="none"/><path d="M442.4 432.5L450.4 428.6" stroke="#f8e2d6" stroke-width="1" fill="none"/><path d="M434.1 427.3L440.4 430.4" stroke="#c8a08c" stroke-width="1" fill="none"/><path d="M442.4 430.4L450.4 426.5" stroke="#f8e2d6" stroke-width="1" fill="none"/><polygon points="441.4,430.1 451.4,425.2 443.1,421.1 433.1,426" fill="#fbfbfb"/>
<path d="M553.4 456.2Q562.4 449.7 571.4 465.2" stroke="#8fbfe2" stroke-width="4.2" fill="none" stroke-linecap="round"/><path d="M553.4 456.2Q562.4 449.7 571.4 465.2" stroke="#dcedf8" stroke-width="1.8" fill="none" stroke-linecap="round" transform="translate(0,-0.8)"/>
<polygon points="536,468 520,460 520,458.5 536,466.5" fill="#c9c9c9"/><polygon points="536,468 552,460.2 552,458.7 536,466.5" fill="#b0b0b0"/><polygon points="536,466.5 552,458.7 536,450.7 520,458.5" fill="#e6e6e6"/>
<polygon points="474.3,466 466,461.9 466,426.9 474.3,431" fill="#dca8d6"/><polygon points="474.3,466 484.3,461.1 484.3,426.1 474.3,431" fill="#f28aa4"/><path d="M467 461.1L473.3 464.3" stroke="#c07ab4" stroke-width="1" fill="none"/><path d="M475.3 464.3L483.3 460.4" stroke="#f8bccb" stroke-width="1" fill="none"/><path d="M467 459.1L473.3 462.2" stroke="#c07ab4" stroke-width="1" fill="none"/><path d="M475.3 462.2L483.3 458.3" stroke="#f8bccb" stroke-width="1" fill="none"/><path d="M467 457L473.3 460.1" stroke="#c07ab4" stroke-width="1" fill="none"/><path d="M475.3 460.2L483.3 456.3" stroke="#f8bccb" stroke-width="1" fill="none"/><path d="M467 454.9L473.3 458.1" stroke="#c07ab4" stroke-width="1" fill="none"/><path d="M475.3 458.1L483.3 454.2" stroke="#f8bccb" stroke-width="1" fill="none"/><path d="M467 452.9L473.3 456" stroke="#c07ab4" stroke-width="1" fill="none"/><path d="M475.3 456L483.3 452.1" stroke="#f8bccb" stroke-width="1" fill="none"/><path d="M467 450.8L473.3 454" stroke="#c07ab4" stroke-width="1" fill="none"/><path d="M475.3 454L483.3 450.1" stroke="#f8bccb" stroke-width="1" fill="none"/><path d="M467 448.8L473.3 451.9" stroke="#c07ab4" stroke-width="1" fill="none"/><path d="M475.3 451.9L483.3 448" stroke="#f8bccb" stroke-width="1" fill="none"/><path d="M467 446.7L473.3 449.9" stroke="#c07ab4" stroke-width="1" fill="none"/><path d="M475.3 449.9L483.3 446" stroke="#f8bccb" stroke-width="1" fill="none"/><path d="M467 444.6L473.3 447.8" stroke="#c07ab4" stroke-width="1" fill="none"/><path d="M475.3 447.8L483.3 443.9" stroke="#f8bccb" stroke-width="1" fill="none"/><path d="M467 442.6L473.3 445.7" stroke="#c07ab4" stroke-width="1" fill="none"/><path d="M475.3 445.7L483.3 441.8" stroke="#f8bccb" stroke-width="1" fill="none"/><path d="M467 440.5L473.3 443.7" stroke="#c07ab4" stroke-width="1" fill="none"/><path d="M475.3 443.7L483.3 439.8" stroke="#f8bccb" stroke-width="1" fill="none"/><path d="M467 438.5L473.3 441.6" stroke="#c07ab4" stroke-width="1" fill="none"/><path d="M475.3 441.6L483.3 437.7" stroke="#f8bccb" stroke-width="1" fill="none"/><path d="M467 436.4L473.3 439.6" stroke="#c07ab4" stroke-width="1" fill="none"/><path d="M475.3 439.6L483.3 435.7" stroke="#f8bccb" stroke-width="1" fill="none"/><path d="M467 434.4L473.3 437.5" stroke="#c07ab4" stroke-width="1" fill="none"/><path d="M475.3 437.5L483.3 433.6" stroke="#f8bccb" stroke-width="1" fill="none"/><path d="M467 432.3L473.3 435.4" stroke="#c07ab4" stroke-width="1" fill="none"/><path d="M475.3 435.5L483.3 431.6" stroke="#f8bccb" stroke-width="1" fill="none"/><path d="M467 430.2L473.3 433.4" stroke="#c07ab4" stroke-width="1" fill="none"/><path d="M475.3 433.4L483.3 429.5" stroke="#f8bccb" stroke-width="1" fill="none"/><path d="M467 428.2L473.3 431.3" stroke="#c07ab4" stroke-width="1" fill="none"/><path d="M475.3 431.3L483.3 427.4" stroke="#f8bccb" stroke-width="1" fill="none"/><polygon points="474.3,431 484.3,426.1 476,422 466,426.9" fill="#fbfbfb"/>
<polygon points="536,466 521.8,458.9 521.8,447.2 536,454.3" fill="#f9d8a8"/><polygon points="536,466 550.2,459.1 550.2,447.4 536,454.3" fill="#e8b880"/><polygon points="536,454.3 550.2,447.4 536,440.3 521.8,447.2" fill="#fbe6c6"/>
<ellipse cx="536" cy="447.7" rx="7.5" ry="5" fill="#f6cf9a"/><ellipse cx="535" cy="446.5" rx="4" ry="2.5" fill="#fbdcae"/><path d="M526 464 v-4 a2 2.4 0 0 1 4 0 v6z" fill="#a87848"/><path d="M541 464 v-4 a2 2.4 0 0 1 4 0 v2z" fill="#a87848"/>
<polygon points="193.2,471.5 177.2,463.5 177.2,452.5 193.2,460.5" fill="#f07aa0"/><polygon points="193.2,471.5 206.2,465.2 206.2,454.2 193.2,460.5" fill="#d95c86"/><polygon points="206.2,454.2 190.2,446.2 183.7,444.3 199.7,452.3" fill="#3e8ec5"/><polygon points="193.2,460.5 206.2,454.2 199.7,452.3" fill="#d95c86"/><polygon points="193.2,460.5 177.2,452.5 183.7,444.3 199.7,452.3" fill="#49a8e8"/>
<polygon points="428.4,472.3 420.1,468.2 420.1,433.2 428.4,437.3" fill="#dca8d6"/><polygon points="428.4,472.3 438.4,467.4 438.4,432.4 428.4,437.3" fill="#f28aa4"/><path d="M421.1 467.4L427.4 470.6" stroke="#c07ab4" stroke-width="1" fill="none"/><path d="M429.4 470.6L437.4 466.7" stroke="#f8bccb" stroke-width="1" fill="none"/><path d="M421.1 465.4L427.4 468.5" stroke="#c07ab4" stroke-width="1" fill="none"/><path d="M429.4 468.5L437.4 464.6" stroke="#f8bccb" stroke-width="1" fill="none"/><path d="M421.1 463.3L427.4 466.4" stroke="#c07ab4" stroke-width="1" fill="none"/><path d="M429.4 466.5L437.4 462.6" stroke="#f8bccb" stroke-width="1" fill="none"/><path d="M421.1 461.2L427.4 464.4" stroke="#c07ab4" stroke-width="1" fill="none"/><path d="M429.4 464.4L437.4 460.5" stroke="#f8bccb" stroke-width="1" fill="none"/><path d="M421.1 459.2L427.4 462.3" stroke="#c07ab4" stroke-width="1" fill="none"/><path d="M429.4 462.3L437.4 458.4" stroke="#f8bccb" stroke-width="1" fill="none"/><path d="M421.1 457.1L427.4 460.3" stroke="#c07ab4" stroke-width="1" fill="none"/><path d="M429.4 460.3L437.4 456.4" stroke="#f8bccb" stroke-width="1" fill="none"/><path d="M421.1 455.1L427.4 458.2" stroke="#c07ab4" stroke-width="1" fill="none"/><path d="M429.4 458.2L437.4 454.3" stroke="#f8bccb" stroke-width="1" fill="none"/><path d="M421.1 453L427.4 456.2" stroke="#c07ab4" stroke-width="1" fill="none"/><path d="M429.4 456.2L437.4 452.3" stroke="#f8bccb" stroke-width="1" fill="none"/><path d="M421.1 450.9L427.4 454.1" stroke="#c07ab4" stroke-width="1" fill="none"/><path d="M429.4 454.1L437.4 450.2" stroke="#f8bccb" stroke-width="1" fill="none"/><path d="M421.1 448.9L427.4 452" stroke="#c07ab4" stroke-width="1" fill="none"/><path d="M429.4 452L437.4 448.1" stroke="#f8bccb" stroke-width="1" fill="none"/><path d="M421.1 446.8L427.4 450" stroke="#c07ab4" stroke-width="1" fill="none"/><path d="M429.4 450L437.4 446.1" stroke="#f8bccb" stroke-width="1" fill="none"/><path d="M421.1 444.8L427.4 447.9" stroke="#c07ab4" stroke-width="1" fill="none"/><path d="M429.4 447.9L437.4 444" stroke="#f8bccb" stroke-width="1" fill="none"/><path d="M421.1 442.7L427.4 445.9" stroke="#c07ab4" stroke-width="1" fill="none"/><path d="M429.4 445.9L437.4 442" stroke="#f8bccb" stroke-width="1" fill="none"/><path d="M421.1 440.7L427.4 443.8" stroke="#c07ab4" stroke-width="1" fill="none"/><path d="M429.4 443.8L437.4 439.9" stroke="#f8bccb" stroke-width="1" fill="none"/><path d="M421.1 438.6L427.4 441.7" stroke="#c07ab4" stroke-width="1" fill="none"/><path d="M429.4 441.8L437.4 437.9" stroke="#f8bccb" stroke-width="1" fill="none"/><path d="M421.1 436.5L427.4 439.7" stroke="#c07ab4" stroke-width="1" fill="none"/><path d="M429.4 439.7L437.4 435.8" stroke="#f8bccb" stroke-width="1" fill="none"/><path d="M421.1 434.5L427.4 437.6" stroke="#c07ab4" stroke-width="1" fill="none"/><path d="M429.4 437.6L437.4 433.7" stroke="#f8bccb" stroke-width="1" fill="none"/><polygon points="428.4,437.3 438.4,432.4 430.1,428.3 420.1,433.2" fill="#fbfbfb"/>
<polygon points="461.3,473.2 453,469.1 453,434.1 461.3,438.2" fill="#dcb8a6"/><polygon points="461.3,473.2 471.3,468.3 471.3,433.3 461.3,438.2" fill="#ecc4b0"/><path d="M454 468.3L460.3 471.5" stroke="#c8a08c" stroke-width="1" fill="none"/><path d="M462.3 471.5L470.3 467.6" stroke="#f8e2d6" stroke-width="1" fill="none"/><path d="M454 466.3L460.3 469.4" stroke="#c8a08c" stroke-width="1" fill="none"/><path d="M462.3 469.4L470.3 465.5" stroke="#f8e2d6" stroke-width="1" fill="none"/><path d="M454 464.2L460.3 467.3" stroke="#c8a08c" stroke-width="1" fill="none"/><path d="M462.3 467.4L470.3 463.5" stroke="#f8e2d6" stroke-width="1" fill="none"/><path d="M454 462.1L460.3 465.3" stroke="#c8a08c" stroke-width="1" fill="none"/><path d="M462.3 465.3L470.3 461.4" stroke="#f8e2d6" stroke-width="1" fill="none"/><path d="M454 460.1L460.3 463.2" stroke="#c8a08c" stroke-width="1" fill="none"/><path d="M462.3 463.2L470.3 459.3" stroke="#f8e2d6" stroke-width="1" fill="none"/><path d="M454 458L460.3 461.2" stroke="#c8a08c" stroke-width="1" fill="none"/><path d="M462.3 461.2L470.3 457.3" stroke="#f8e2d6" stroke-width="1" fill="none"/><path d="M454 456L460.3 459.1" stroke="#c8a08c" stroke-width="1" fill="none"/><path d="M462.3 459.1L470.3 455.2" stroke="#f8e2d6" stroke-width="1" fill="none"/><path d="M454 453.9L460.3 457.1" stroke="#c8a08c" stroke-width="1" fill="none"/><path d="M462.3 457.1L470.3 453.2" stroke="#f8e2d6" stroke-width="1" fill="none"/><path d="M454 451.8L460.3 455" stroke="#c8a08c" stroke-width="1" fill="none"/><path d="M462.3 455L470.3 451.1" stroke="#f8e2d6" stroke-width="1" fill="none"/><path d="M454 449.8L460.3 452.9" stroke="#c8a08c" stroke-width="1" fill="none"/><path d="M462.3 452.9L470.3 449" stroke="#f8e2d6" stroke-width="1" fill="none"/><path d="M454 447.7L460.3 450.9" stroke="#c8a08c" stroke-width="1" fill="none"/><path d="M462.3 450.9L470.3 447" stroke="#f8e2d6" stroke-width="1" fill="none"/><path d="M454 445.7L460.3 448.8" stroke="#c8a08c" stroke-width="1" fill="none"/><path d="M462.3 448.8L470.3 444.9" stroke="#f8e2d6" stroke-width="1" fill="none"/><path d="M454 443.6L460.3 446.8" stroke="#c8a08c" stroke-width="1" fill="none"/><path d="M462.3 446.8L470.3 442.9" stroke="#f8e2d6" stroke-width="1" fill="none"/><path d="M454 441.6L460.3 444.7" stroke="#c8a08c" stroke-width="1" fill="none"/><path d="M462.3 444.7L470.3 440.8" stroke="#f8e2d6" stroke-width="1" fill="none"/><path d="M454 439.5L460.3 442.6" stroke="#c8a08c" stroke-width="1" fill="none"/><path d="M462.3 442.7L470.3 438.8" stroke="#f8e2d6" stroke-width="1" fill="none"/><path d="M454 437.4L460.3 440.6" stroke="#c8a08c" stroke-width="1" fill="none"/><path d="M462.3 440.6L470.3 436.7" stroke="#f8e2d6" stroke-width="1" fill="none"/><path d="M454 435.4L460.3 438.5" stroke="#c8a08c" stroke-width="1" fill="none"/><path d="M462.3 438.5L470.3 434.6" stroke="#f8e2d6" stroke-width="1" fill="none"/><polygon points="461.3,438.2 471.3,433.3 463,429.2 453,434.1" fill="#fbfbfb"/>
<polygon points="282,473.6 257.8,461.5 257.8,436.5 282,448.6" fill="#e2e2e2"/><polygon points="282,473.6 302,463.9 302,438.9 282,448.6" fill="#cccccc"/><path d="M258.8 460.1L281 471.2" stroke="#f6f6f6" stroke-width="1.6" fill="none"/><path d="M283 471.2L301 462.5" stroke="#d8d8d8" stroke-width="1.6" fill="none"/><path d="M258.8 457L281 468.1" stroke="#f6f6f6" stroke-width="1.6" fill="none"/><path d="M283 468.1L301 459.3" stroke="#d8d8d8" stroke-width="1.6" fill="none"/><path d="M258.8 453.9L281 465" stroke="#f6f6f6" stroke-width="1.6" fill="none"/><path d="M283 465L301 456.2" stroke="#d8d8d8" stroke-width="1.6" fill="none"/><path d="M258.8 450.8L281 461.9" stroke="#f6f6f6" stroke-width="1.6" fill="none"/><path d="M283 461.9L301 453.1" stroke="#d8d8d8" stroke-width="1.6" fill="none"/><path d="M258.8 447.6L281 458.7" stroke="#f6f6f6" stroke-width="1.6" fill="none"/><path d="M283 458.7L301 450" stroke="#d8d8d8" stroke-width="1.6" fill="none"/><path d="M258.8 444.5L281 455.6" stroke="#f6f6f6" stroke-width="1.6" fill="none"/><path d="M283 455.6L301 446.8" stroke="#d8d8d8" stroke-width="1.6" fill="none"/><path d="M258.8 441.4L281 452.5" stroke="#f6f6f6" stroke-width="1.6" fill="none"/><path d="M283 452.5L301 443.7" stroke="#d8d8d8" stroke-width="1.6" fill="none"/><path d="M258.8 438.2L281 449.4" stroke="#f6f6f6" stroke-width="1.6" fill="none"/><path d="M283 449.4L301 440.6" stroke="#d8d8d8" stroke-width="1.6" fill="none"/><polygon points="282,448.6 302,438.9 277.8,426.8 257.8,436.5" fill="#d6ecd0"/>
<polygon points="281,443.5 271,438.5 271,436 281,441" fill="#dcdcdc"/><polygon points="281,443.5 290,439.1 290,436.6 281,441" fill="#b4b4b4"/><polygon points="281,441 290,436.6 280,431.6 271,436" fill="#f6f6f6"/>
<polygon points="492.3,476 484,471.9 484,436.9 492.3,441" fill="#dca8d6"/><polygon points="492.3,476 502.3,471.1 502.3,436.1 492.3,441" fill="#f28aa4"/><path d="M485 471.1L491.3 474.3" stroke="#c07ab4" stroke-width="1" fill="none"/><path d="M493.3 474.3L501.3 470.4" stroke="#f8bccb" stroke-width="1" fill="none"/><path d="M485 469.1L491.3 472.2" stroke="#c07ab4" stroke-width="1" fill="none"/><path d="M493.3 472.2L501.3 468.3" stroke="#f8bccb" stroke-width="1" fill="none"/><path d="M485 467L491.3 470.1" stroke="#c07ab4" stroke-width="1" fill="none"/><path d="M493.3 470.2L501.3 466.3" stroke="#f8bccb" stroke-width="1" fill="none"/><path d="M485 464.9L491.3 468.1" stroke="#c07ab4" stroke-width="1" fill="none"/><path d="M493.3 468.1L501.3 464.2" stroke="#f8bccb" stroke-width="1" fill="none"/><path d="M485 462.9L491.3 466" stroke="#c07ab4" stroke-width="1" fill="none"/><path d="M493.3 466L501.3 462.1" stroke="#f8bccb" stroke-width="1" fill="none"/><path d="M485 460.8L491.3 464" stroke="#c07ab4" stroke-width="1" fill="none"/><path d="M493.3 464L501.3 460.1" stroke="#f8bccb" stroke-width="1" fill="none"/><path d="M485 458.8L491.3 461.9" stroke="#c07ab4" stroke-width="1" fill="none"/><path d="M493.3 461.9L501.3 458" stroke="#f8bccb" stroke-width="1" fill="none"/><path d="M485 456.7L491.3 459.9" stroke="#c07ab4" stroke-width="1" fill="none"/><path d="M493.3 459.9L501.3 456" stroke="#f8bccb" stroke-width="1" fill="none"/><path d="M485 454.6L491.3 457.8" stroke="#c07ab4" stroke-width="1" fill="none"/><path d="M493.3 457.8L501.3 453.9" stroke="#f8bccb" stroke-width="1" fill="none"/><path d="M485 452.6L491.3 455.7" stroke="#c07ab4" stroke-width="1" fill="none"/><path d="M493.3 455.7L501.3 451.8" stroke="#f8bccb" stroke-width="1" fill="none"/><path d="M485 450.5L491.3 453.7" stroke="#c07ab4" stroke-width="1" fill="none"/><path d="M493.3 453.7L501.3 449.8" stroke="#f8bccb" stroke-width="1" fill="none"/><path d="M485 448.5L491.3 451.6" stroke="#c07ab4" stroke-width="1" fill="none"/><path d="M493.3 451.6L501.3 447.7" stroke="#f8bccb" stroke-width="1" fill="none"/><path d="M485 446.4L491.3 449.6" stroke="#c07ab4" stroke-width="1" fill="none"/><path d="M493.3 449.6L501.3 445.7" stroke="#f8bccb" stroke-width="1" fill="none"/><path d="M485 444.4L491.3 447.5" stroke="#c07ab4" stroke-width="1" fill="none"/><path d="M493.3 447.5L501.3 443.6" stroke="#f8bccb" stroke-width="1" fill="none"/><path d="M485 442.3L491.3 445.4" stroke="#c07ab4" stroke-width="1" fill="none"/><path d="M493.3 445.5L501.3 441.6" stroke="#f8bccb" stroke-width="1" fill="none"/><path d="M485 440.2L491.3 443.4" stroke="#c07ab4" stroke-width="1" fill="none"/><path d="M493.3 443.4L501.3 439.5" stroke="#f8bccb" stroke-width="1" fill="none"/><path d="M485 438.2L491.3 441.3" stroke="#c07ab4" stroke-width="1" fill="none"/><path d="M493.3 441.3L501.3 437.4" stroke="#f8bccb" stroke-width="1" fill="none"/><polygon points="492.3,441 502.3,436.1 494,432 484,436.9" fill="#fbfbfb"/>
<polygon points="240,477.6 234,474.6 234,473.4 240,476.4" fill="#c9c9c9"/><polygon points="240,477.6 257,469.3 257,468.1 240,476.4" fill="#b5b5b5"/><polygon points="240,476.4 257,468.1 251,465.1 234,473.4" fill="#e3e3e3"/><ellipse cx="237.5" cy="474.3" rx="2.6" ry="1.5" fill="#1f8a2e"/><ellipse cx="253" cy="469.4" rx="2.6" ry="1.5" fill="#1f8a2e"/><polygon points="244.5,474.2 239.5,471.7 239.5,465.7 244.5,468.2" fill="#9fd6ea"/><polygon points="244.5,474.2 251,471 251,465 244.5,468.2" fill="#6fb7d6"/><polygon points="244.5,468.2 251,465 246,462.5 239.5,465.7" fill="#fff"/><polygon points="244.5,468.6 237.5,465.1 237.5,463.5 244.5,467" fill="#f39a1e"/><polygon points="244.5,468.6 253,464.5 253,462.9 244.5,467" fill="#e0801a"/><polygon points="244.5,467 253,462.9 246,459.4 237.5,463.5" fill="#fbd23c"/>
<polygon points="448.3,480.4 440,476.2 440,441.2 448.3,445.4" fill="#dca8d6"/><polygon points="448.3,480.4 458.3,475.5 458.3,440.5 448.3,445.4" fill="#f28aa4"/><path d="M441 475.5L447.3 478.7" stroke="#c07ab4" stroke-width="1" fill="none"/><path d="M449.3 478.7L457.3 474.8" stroke="#f8bccb" stroke-width="1" fill="none"/><path d="M441 473.5L447.3 476.6" stroke="#c07ab4" stroke-width="1" fill="none"/><path d="M449.3 476.6L457.3 472.7" stroke="#f8bccb" stroke-width="1" fill="none"/><path d="M441 471.4L447.3 474.5" stroke="#c07ab4" stroke-width="1" fill="none"/><path d="M449.3 474.6L457.3 470.7" stroke="#f8bccb" stroke-width="1" fill="none"/><path d="M441 469.3L447.3 472.5" stroke="#c07ab4" stroke-width="1" fill="none"/><path d="M449.3 472.5L457.3 468.6" stroke="#f8bccb" stroke-width="1" fill="none"/><path d="M441 467.3L447.3 470.4" stroke="#c07ab4" stroke-width="1" fill="none"/><path d="M449.3 470.4L457.3 466.5" stroke="#f8bccb" stroke-width="1" fill="none"/><path d="M441 465.2L447.3 468.4" stroke="#c07ab4" stroke-width="1" fill="none"/><path d="M449.3 468.4L457.3 464.5" stroke="#f8bccb" stroke-width="1" fill="none"/><path d="M441 463.2L447.3 466.3" stroke="#c07ab4" stroke-width="1" fill="none"/><path d="M449.3 466.3L457.3 462.4" stroke="#f8bccb" stroke-width="1" fill="none"/><path d="M441 461.1L447.3 464.3" stroke="#c07ab4" stroke-width="1" fill="none"/><path d="M449.3 464.3L457.3 460.4" stroke="#f8bccb" stroke-width="1" fill="none"/><path d="M441 459L447.3 462.2" stroke="#c07ab4" stroke-width="1" fill="none"/><path d="M449.3 462.2L457.3 458.3" stroke="#f8bccb" stroke-width="1" fill="none"/><path d="M441 457L447.3 460.1" stroke="#c07ab4" stroke-width="1" fill="none"/><path d="M449.3 460.1L457.3 456.2" stroke="#f8bccb" stroke-width="1" fill="none"/><path d="M441 454.9L447.3 458.1" stroke="#c07ab4" stroke-width="1" fill="none"/><path d="M449.3 458.1L457.3 454.2" stroke="#f8bccb" stroke-width="1" fill="none"/><path d="M441 452.9L447.3 456" stroke="#c07ab4" stroke-width="1" fill="none"/><path d="M449.3 456L457.3 452.1" stroke="#f8bccb" stroke-width="1" fill="none"/><path d="M441 450.8L447.3 454" stroke="#c07ab4" stroke-width="1" fill="none"/><path d="M449.3 454L457.3 450.1" stroke="#f8bccb" stroke-width="1" fill="none"/><path d="M441 448.8L447.3 451.9" stroke="#c07ab4" stroke-width="1" fill="none"/><path d="M449.3 451.9L457.3 448" stroke="#f8bccb" stroke-width="1" fill="none"/><path d="M441 446.7L447.3 449.8" stroke="#c07ab4" stroke-width="1" fill="none"/><path d="M449.3 449.9L457.3 446" stroke="#f8bccb" stroke-width="1" fill="none"/><path d="M441 444.6L447.3 447.8" stroke="#c07ab4" stroke-width="1" fill="none"/><path d="M449.3 447.8L457.3 443.9" stroke="#f8bccb" stroke-width="1" fill="none"/><path d="M441 442.6L447.3 445.7" stroke="#c07ab4" stroke-width="1" fill="none"/><path d="M449.3 445.7L457.3 441.8" stroke="#f8bccb" stroke-width="1" fill="none"/><polygon points="448.3,445.4 458.3,440.5 450,436.4 440,441.2" fill="#fbfbfb"/>
<rect x="517.8" y="477" width="1.2" height="4" fill="#9a5b2a"/><ellipse cx="518.4" cy="472" rx="5" ry="5.8" fill="#239638"/><ellipse cx="517.4" cy="470.5" rx="3" ry="3.5" fill="#3aae44"/>
<rect x="518.1" y="477" width="1.2" height="4" fill="#9a5b2a"/><ellipse cx="518.7" cy="472" rx="5" ry="5.8" fill="#239638"/><ellipse cx="517.7" cy="470.5" rx="3" ry="3.5" fill="#3aae44"/>
<rect x="557.6" y="478" width="1.2" height="4" fill="#9a5b2a"/><ellipse cx="558.2" cy="473" rx="5" ry="5.8" fill="#239638"/><ellipse cx="557.2" cy="471.5" rx="3" ry="3.5" fill="#3aae44"/>
<rect x="267.4" y="479" width="1.2" height="4" fill="#9a5b2a"/><ellipse cx="268" cy="474" rx="5" ry="5.8" fill="#239638"/><ellipse cx="267" cy="472.5" rx="3" ry="3.5" fill="#3aae44"/>
<polygon points="479.3,483.2 471,479.1 471,444.1 479.3,448.2" fill="#dcb8a6"/><polygon points="479.3,483.2 489.3,478.3 489.3,443.3 479.3,448.2" fill="#ecc4b0"/><path d="M472 478.3L478.3 481.5" stroke="#c8a08c" stroke-width="1" fill="none"/><path d="M480.3 481.5L488.3 477.6" stroke="#f8e2d6" stroke-width="1" fill="none"/><path d="M472 476.3L478.3 479.4" stroke="#c8a08c" stroke-width="1" fill="none"/><path d="M480.3 479.4L488.3 475.5" stroke="#f8e2d6" stroke-width="1" fill="none"/><path d="M472 474.2L478.3 477.3" stroke="#c8a08c" stroke-width="1" fill="none"/><path d="M480.3 477.4L488.3 473.5" stroke="#f8e2d6" stroke-width="1" fill="none"/><path d="M472 472.1L478.3 475.3" stroke="#c8a08c" stroke-width="1" fill="none"/><path d="M480.3 475.3L488.3 471.4" stroke="#f8e2d6" stroke-width="1" fill="none"/><path d="M472 470.1L478.3 473.2" stroke="#c8a08c" stroke-width="1" fill="none"/><path d="M480.3 473.2L488.3 469.3" stroke="#f8e2d6" stroke-width="1" fill="none"/><path d="M472 468L478.3 471.2" stroke="#c8a08c" stroke-width="1" fill="none"/><path d="M480.3 471.2L488.3 467.3" stroke="#f8e2d6" stroke-width="1" fill="none"/><path d="M472 466L478.3 469.1" stroke="#c8a08c" stroke-width="1" fill="none"/><path d="M480.3 469.1L488.3 465.2" stroke="#f8e2d6" stroke-width="1" fill="none"/><path d="M472 463.9L478.3 467.1" stroke="#c8a08c" stroke-width="1" fill="none"/><path d="M480.3 467.1L488.3 463.2" stroke="#f8e2d6" stroke-width="1" fill="none"/><path d="M472 461.8L478.3 465" stroke="#c8a08c" stroke-width="1" fill="none"/><path d="M480.3 465L488.3 461.1" stroke="#f8e2d6" stroke-width="1" fill="none"/><path d="M472 459.8L478.3 462.9" stroke="#c8a08c" stroke-width="1" fill="none"/><path d="M480.3 462.9L488.3 459" stroke="#f8e2d6" stroke-width="1" fill="none"/><path d="M472 457.7L478.3 460.9" stroke="#c8a08c" stroke-width="1" fill="none"/><path d="M480.3 460.9L488.3 457" stroke="#f8e2d6" stroke-width="1" fill="none"/><path d="M472 455.7L478.3 458.8" stroke="#c8a08c" stroke-width="1" fill="none"/><path d="M480.3 458.8L488.3 454.9" stroke="#f8e2d6" stroke-width="1" fill="none"/><path d="M472 453.6L478.3 456.8" stroke="#c8a08c" stroke-width="1" fill="none"/><path d="M480.3 456.8L488.3 452.9" stroke="#f8e2d6" stroke-width="1" fill="none"/><path d="M472 451.6L478.3 454.7" stroke="#c8a08c" stroke-width="1" fill="none"/><path d="M480.3 454.7L488.3 450.8" stroke="#f8e2d6" stroke-width="1" fill="none"/><path d="M472 449.5L478.3 452.6" stroke="#c8a08c" stroke-width="1" fill="none"/><path d="M480.3 452.7L488.3 448.8" stroke="#f8e2d6" stroke-width="1" fill="none"/><path d="M472 447.4L478.3 450.6" stroke="#c8a08c" stroke-width="1" fill="none"/><path d="M480.3 450.6L488.3 446.7" stroke="#f8e2d6" stroke-width="1" fill="none"/><path d="M472 445.4L478.3 448.5" stroke="#c8a08c" stroke-width="1" fill="none"/><path d="M480.3 448.5L488.3 444.6" stroke="#f8e2d6" stroke-width="1" fill="none"/><polygon points="479.3,448.2 489.3,443.3 481,439.2 471,444.1" fill="#fbfbfb"/>
<polygon points="545.5,484.5 541.5,482.5 541.5,479.5 545.5,481.5" fill="#2a5fc8"/><polygon points="545.5,484.5 553,480.8 553,477.8 545.5,481.5" fill="#204a9c"/><polygon points="545.5,481.5 553,477.8 549,475.8 541.5,479.5" fill="#5f87d5"/><polygon points="546.1,481.3 542.7,479.6 542.7,477.4 546.1,479.1" fill="#e8f2fa"/><polygon points="546.1,481.3 550.6,479.1 550.6,476.9 546.1,479.1" fill="#c4d8ea"/><polygon points="546.1,479.1 550.6,476.9 547.2,475.2 542.7,477.4" fill="#ffffff"/>
<polygon points="576,485 567,480.5 567,471.5 576,476" fill="#e8a868"/><polygon points="576,485 604,471.4 604,463.5 589,456.5 576,476.5" fill="#f0b878"/><polygon points="576,476.5 567,472 580,452 589,456.5" fill="#7a7c3e"/><path d="M575.5 477 L589 457.5 L604.6 465" stroke="#8f914c" stroke-width="3.2" fill="none" stroke-linejoin="round"/><polygon points="569,482 573.5,484.2 573.5,478 569,475.8" fill="#6a4a2a"/><polygon points="580,478.5 587,475.1 587,470.6 580,474" fill="#8fc8ea"/><polygon points="594,471.7 601,468.3 601,463.8 594,467.2" fill="#8fc8ea"/><circle cx="587" cy="482" r="3.6" fill="#8cc63f"/><circle cx="586" cy="481" r="1.8" fill="#c9e05a"/>
<rect x="567.7" y="484" width="1.2" height="4" fill="#9a5b2a"/><ellipse cx="568.3" cy="479" rx="5" ry="5.8" fill="#239638"/><ellipse cx="567.3" cy="477.5" rx="3" ry="3.5" fill="#3aae44"/>
<polygon points="466.3,490.4 458,486.2 458,451.2 466.3,455.4" fill="#dca8d6"/><polygon points="466.3,490.4 476.3,485.5 476.3,450.5 466.3,455.4" fill="#f28aa4"/><path d="M459 485.5L465.3 488.7" stroke="#c07ab4" stroke-width="1" fill="none"/><path d="M467.3 488.7L475.3 484.8" stroke="#f8bccb" stroke-width="1" fill="none"/><path d="M459 483.5L465.3 486.6" stroke="#c07ab4" stroke-width="1" fill="none"/><path d="M467.3 486.6L475.3 482.7" stroke="#f8bccb" stroke-width="1" fill="none"/><path d="M459 481.4L465.3 484.5" stroke="#c07ab4" stroke-width="1" fill="none"/><path d="M467.3 484.6L475.3 480.7" stroke="#f8bccb" stroke-width="1" fill="none"/><path d="M459 479.3L465.3 482.5" stroke="#c07ab4" stroke-width="1" fill="none"/><path d="M467.3 482.5L475.3 478.6" stroke="#f8bccb" stroke-width="1" fill="none"/><path d="M459 477.3L465.3 480.4" stroke="#c07ab4" stroke-width="1" fill="none"/><path d="M467.3 480.4L475.3 476.5" stroke="#f8bccb" stroke-width="1" fill="none"/><path d="M459 475.2L465.3 478.4" stroke="#c07ab4" stroke-width="1" fill="none"/><path d="M467.3 478.4L475.3 474.5" stroke="#f8bccb" stroke-width="1" fill="none"/><path d="M459 473.2L465.3 476.3" stroke="#c07ab4" stroke-width="1" fill="none"/><path d="M467.3 476.3L475.3 472.4" stroke="#f8bccb" stroke-width="1" fill="none"/><path d="M459 471.1L465.3 474.3" stroke="#c07ab4" stroke-width="1" fill="none"/><path d="M467.3 474.3L475.3 470.4" stroke="#f8bccb" stroke-width="1" fill="none"/><path d="M459 469L465.3 472.2" stroke="#c07ab4" stroke-width="1" fill="none"/><path d="M467.3 472.2L475.3 468.3" stroke="#f8bccb" stroke-width="1" fill="none"/><path d="M459 467L465.3 470.1" stroke="#c07ab4" stroke-width="1" fill="none"/><path d="M467.3 470.1L475.3 466.2" stroke="#f8bccb" stroke-width="1" fill="none"/><path d="M459 464.9L465.3 468.1" stroke="#c07ab4" stroke-width="1" fill="none"/><path d="M467.3 468.1L475.3 464.2" stroke="#f8bccb" stroke-width="1" fill="none"/><path d="M459 462.9L465.3 466" stroke="#c07ab4" stroke-width="1" fill="none"/><path d="M467.3 466L475.3 462.1" stroke="#f8bccb" stroke-width="1" fill="none"/><path d="M459 460.8L465.3 464" stroke="#c07ab4" stroke-width="1" fill="none"/><path d="M467.3 464L475.3 460.1" stroke="#f8bccb" stroke-width="1" fill="none"/><path d="M459 458.8L465.3 461.9" stroke="#c07ab4" stroke-width="1" fill="none"/><path d="M467.3 461.9L475.3 458" stroke="#f8bccb" stroke-width="1" fill="none"/><path d="M459 456.7L465.3 459.8" stroke="#c07ab4" stroke-width="1" fill="none"/><path d="M467.3 459.9L475.3 456" stroke="#f8bccb" stroke-width="1" fill="none"/><path d="M459 454.6L465.3 457.8" stroke="#c07ab4" stroke-width="1" fill="none"/><path d="M467.3 457.8L475.3 453.9" stroke="#f8bccb" stroke-width="1" fill="none"/><path d="M459 452.6L465.3 455.7" stroke="#c07ab4" stroke-width="1" fill="none"/><path d="M467.3 455.7L475.3 451.8" stroke="#f8bccb" stroke-width="1" fill="none"/><polygon points="466.3,455.4 476.3,450.5 468,446.4 458,451.2" fill="#fbfbfb"/>
<polygon points="492,490.4 486,487.4 486,486.2 492,489.2" fill="#c9c9c9"/><polygon points="492,490.4 509,482.1 509,480.9 492,489.2" fill="#b5b5b5"/><polygon points="492,489.2 509,480.9 503,477.9 486,486.2" fill="#e3e3e3"/><ellipse cx="489.5" cy="487.1" rx="2.6" ry="1.5" fill="#1f8a2e"/><ellipse cx="505" cy="482.2" rx="2.6" ry="1.5" fill="#1f8a2e"/><polygon points="496.5,487 491.5,484.5 491.5,478.5 496.5,481" fill="#9fd6ea"/><polygon points="496.5,487 503,483.8 503,477.8 496.5,481" fill="#6fb7d6"/><polygon points="496.5,481 503,477.8 498,475.3 491.5,478.5" fill="#fff"/><polygon points="496.5,481.4 489.5,477.9 489.5,476.3 496.5,479.8" fill="#f39a1e"/><polygon points="496.5,481.4 505,477.3 505,475.7 496.5,479.8" fill="#e0801a"/><polygon points="496.5,479.8 505,475.7 498,472.2 489.5,476.3" fill="#fbd23c"/>
<g font-family="Liberation Sans, sans-serif">
<polygon points="96.9,190.4 99.9,190.4 98.9,392 97.9,392" fill="#8fc31f"/>
<rect x="54" y="140" width="89" height="51.4" rx="3.5" fill="#8fc31f"/>
<text x="61.5" y="154.2" textLength="72.2" lengthAdjust="spacingAndGlyphs" font-size="8.7" fill="#fff">BASIC NETWORK</text>
<text x="70.1" y="165.6" textLength="56.6" lengthAdjust="spacingAndGlyphs" font-size="8.2" fill="#fff">Communication</text>
<text x="57.5" y="174.9" textLength="80.8" lengthAdjust="spacingAndGlyphs" font-size="8.2" fill="#fff">network, Internet and</text>
<text x="65.6" y="184.2" textLength="65.1" lengthAdjust="spacingAndGlyphs" font-size="8.2" fill="#fff">Internet of Things</text>
<polygon points="185.2,250.7 188.2,250.7 187.2,408 186.2,408" fill="#0e7439"/>
<rect x="136.9" y="200.5" width="100.4" height="51.2" rx="3.5" fill="#0e7439"/>
<text x="140.9" y="214" textLength="91.6" lengthAdjust="spacingAndGlyphs" font-size="8.7" fill="#fff">SMART APPLICATIONS</text>
<text x="147.7" y="225.6" textLength="78" lengthAdjust="spacingAndGlyphs" font-size="8.2" fill="#fff">Smart security, smart</text>
<text x="145.8" y="235" textLength="81.8" lengthAdjust="spacingAndGlyphs" font-size="8.2" fill="#fff">tourism , smart elderly</text>
<text x="162.5" y="244.4" textLength="49" lengthAdjust="spacingAndGlyphs" font-size="8.2" fill="#fff">care, WIT120</text>
<polygon points="247.9,87.9 250.9,87.9 249.9,338 248.9,338" fill="#22ac38"/>
<rect x="185.3" y="24" width="128.7" height="64.9" rx="3.5" fill="#22ac38"/>
<text x="192.3" y="36.9" textLength="114.2" lengthAdjust="spacingAndGlyphs" font-size="8.7" fill="#fff">INTEGRATED MANAGEMENT</text>
<text x="189.6" y="47.6" textLength="119.8" lengthAdjust="spacingAndGlyphs" font-size="8.2" fill="#fff">Command and dispatch, business</text>
<text x="188.8" y="56.9" textLength="121.2" lengthAdjust="spacingAndGlyphs" font-size="8.2" fill="#fff">management, integrated security</text>
<text x="209.8" y="66.2" textLength="78.6" lengthAdjust="spacingAndGlyphs" font-size="8.2" fill="#fff">, leasing management,</text>
<text x="194.8" y="75.5" textLength="109.2" lengthAdjust="spacingAndGlyphs" font-size="8.2" fill="#fff">environmental monitoring and</text>
<text x="193.7" y="84.8" textLength="111.7" lengthAdjust="spacingAndGlyphs" font-size="8.2" fill="#fff">surveillance, traffic monitoring</text>
<polygon points="315,177.9 318,177.9 317.3,380 315.7,380" fill="#1aa59a"/>
<rect x="260.8" y="119.4" width="112.2" height="59.5" rx="3.5" fill="#1aa59a"/>
<text x="285" y="133.4" textLength="63.8" lengthAdjust="spacingAndGlyphs" font-size="8.7" fill="#fff">PUBLIC SERVICE</text>
<text x="279" y="145.2" textLength="75.4" lengthAdjust="spacingAndGlyphs" font-size="8.2" fill="#fff">Smart parking, WIFI,</text>
<text x="272.9" y="154.5" textLength="87.5" lengthAdjust="spacingAndGlyphs" font-size="8.2" fill="#fff">omnimedia query, smart</text>
<text x="266.7" y="163.8" textLength="99.6" lengthAdjust="spacingAndGlyphs" font-size="8.2" fill="#fff">navigation, mobile Internet</text>
<text x="276.1" y="173.2" textLength="81.6" lengthAdjust="spacingAndGlyphs" font-size="8.2" fill="#fff">application experience</text>
<polygon points="459.6,92.8 463,92.8 462,236 460.6,236" fill="#0f9a3c"/>
<rect x="416.9" y="52.9" width="89.1" height="40.9" rx="3.5" fill="#0f9a3c"/>
<text x="433.3" y="66.9" textLength="55.7" lengthAdjust="spacingAndGlyphs" font-size="8.7" fill="#fff">E-COMMERCE</text>
<text x="420.4" y="78.7" textLength="81.3" lengthAdjust="spacingAndGlyphs" font-size="8.2" fill="#fff">Omnimedia marketing,</text>
<text x="431.1" y="87.6" textLength="60.1" lengthAdjust="spacingAndGlyphs" font-size="8.2" fill="#fff">big data analysis</text>
<polygon points="622.6,208.3 623.4,208.3 671,265 659.5,265" fill="#80bb69"/>
<rect x="618.4" y="263.6" width="129.2" height="72" rx="4" fill="#80bb69"/>
<text x="642.1" y="275.7" textLength="79.9" lengthAdjust="spacingAndGlyphs" font-size="8.7" fill="#fff">CLOUD COMPUTING</text>
<text x="637.8" y="286.5" textLength="88.2" lengthAdjust="spacingAndGlyphs" font-size="8.7" fill="#fff">RESOURCE PLATFORM</text>
<text x="630.5" y="300.5" textLength="103.6" lengthAdjust="spacingAndGlyphs" font-size="8.2" fill="#fff">3D GIS platform, Internet of</text>
<text x="633.8" y="310.2" textLength="97.6" lengthAdjust="spacingAndGlyphs" font-size="8.2" fill="#fff">Things platform,omnimedia</text>
<text x="622.5" y="320.1" textLength="119.7" lengthAdjust="spacingAndGlyphs" font-size="8.2" fill="#fff">platform, command and dispatch</text>
<text x="666.9" y="329.2" textLength="30.9" lengthAdjust="spacingAndGlyphs" font-size="8.2" fill="#fff">platform</text>
<text x="10" y="49.6" font-size="16" fill="#555" textLength="120.5" lengthAdjust="spacingAndGlyphs">WISDOM TOWN</text>
<text x="12.6" y="70.3" font-size="10" letter-spacing="1.15" fill="#222" stroke="#222" stroke-width="0.25">Perception</text>
<text x="12.6" y="82.9" font-size="10" letter-spacing="1.15" fill="#222" stroke="#222" stroke-width="0.25">Interconnection</text>
<text x="12.6" y="95.5" font-size="10" letter-spacing="1.15" fill="#222" stroke="#222" stroke-width="0.25">Experience</text>
<text x="12.6" y="108.1" font-size="10" letter-spacing="1.15" fill="#222" stroke="#222" stroke-width="0.25">Innovation</text>
</g>
</svg>
</body></html>
